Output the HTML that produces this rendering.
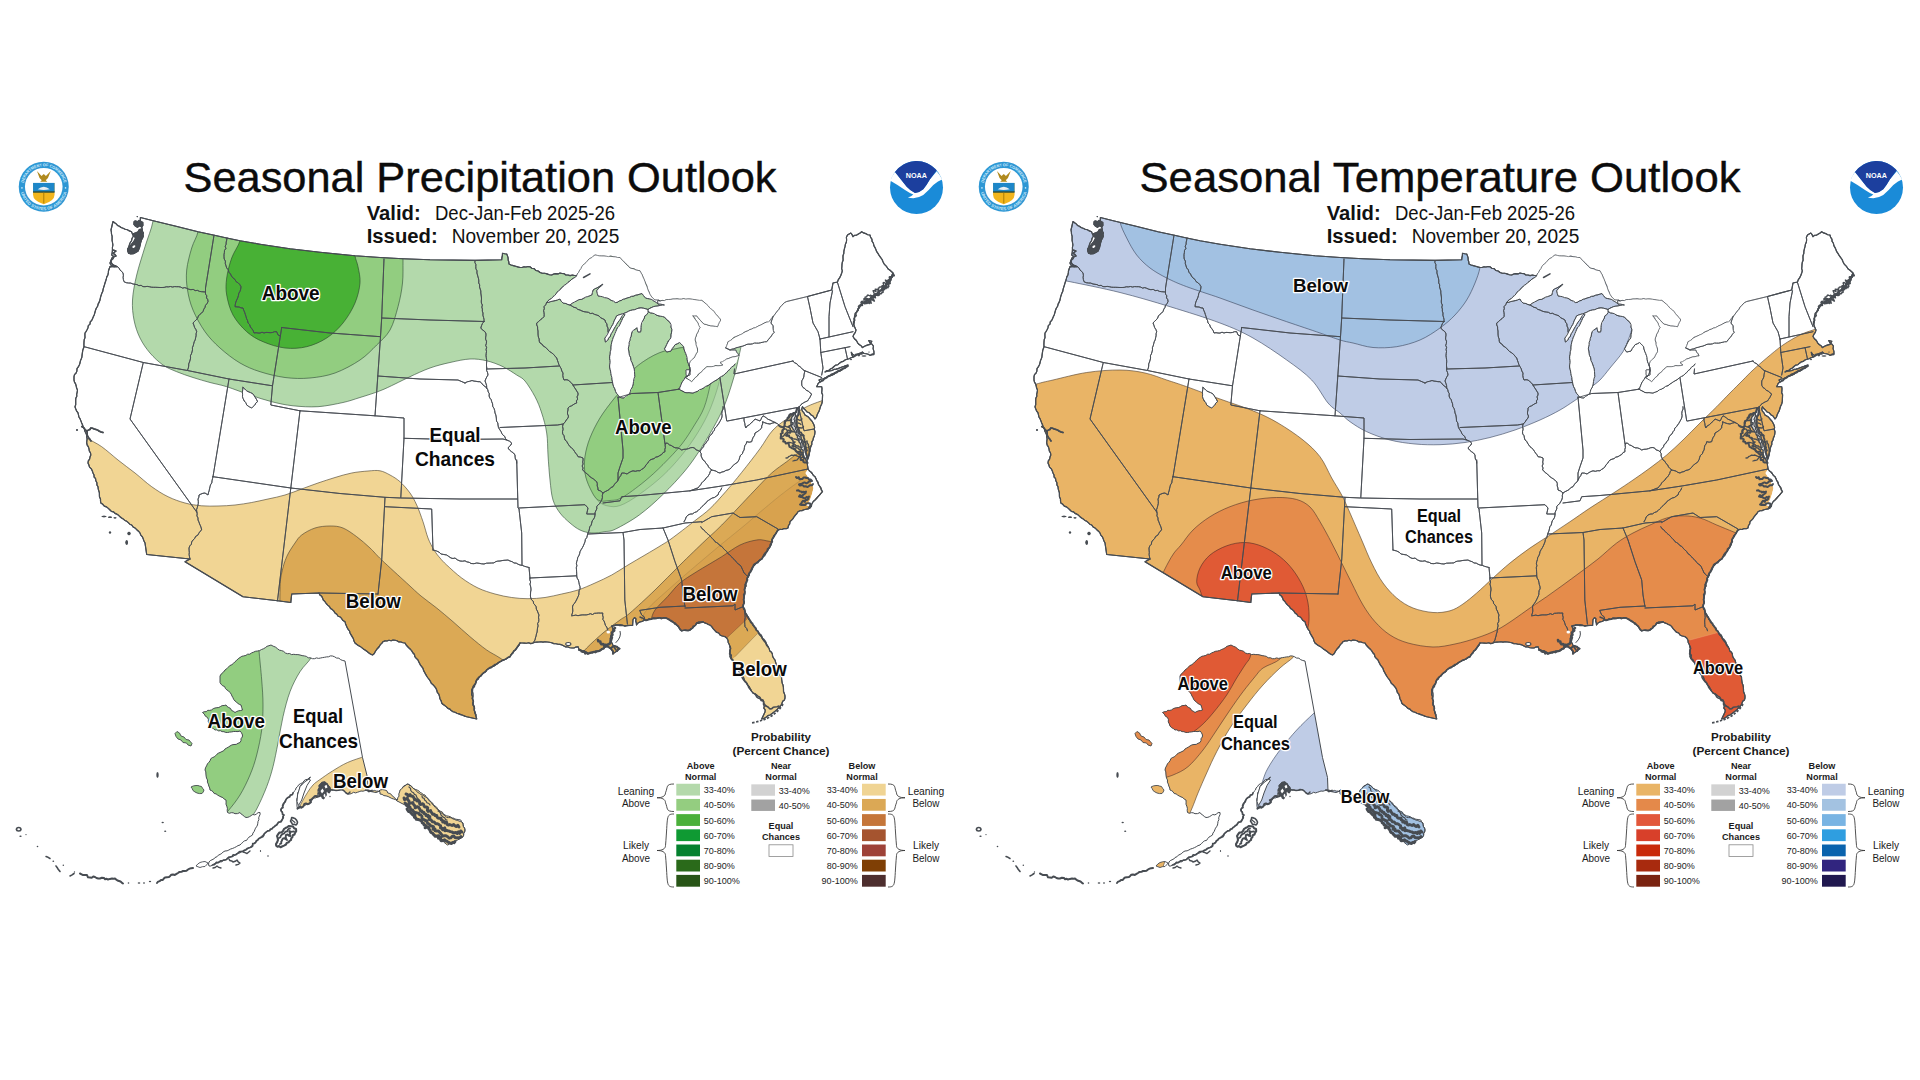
<!DOCTYPE html><html><head><meta charset="utf-8"><title>Seasonal Outlooks</title><style>html,body{margin:0;padding:0;background:#fff}svg{display:block}.lb{font-family:"Liberation Sans",Arial,sans-serif;font-weight:700;fill:#0a0a0a;stroke:#fff;stroke-width:2.6px;paint-order:stroke fill;stroke-linejoin:round}</style></head><body><svg width="1920" height="1080" viewBox="0 0 1920 1080"><defs><clipPath id="land"><path d="M113.0,221.5 L114.6,222.7 L116.2,223.9 L117.5,225.4 L119.4,226.3 L121.0,227.5 L123.1,228.3 L125.2,229.3 L127.4,229.7 L129.4,230.9 L131.5,231.7 L132.4,233.9 L133.5,236.0 L132.1,238.2 L131.5,240.8 L130.0,243.0 L129.3,245.1 L128.7,247.2 L127.5,249.0 L128.0,251.3 L129.0,253.5 L131.5,253.4 L134.0,253.0 L135.1,250.7 L137.4,249.3 L138.5,247.0 L139.9,244.8 L140.6,242.4 L141.5,240.0 L142.3,237.7 L142.5,235.2 L143.5,233.0 L142.4,231.2 L142.2,229.0 L141.5,227.0 L140.7,224.6 L140.8,222.0 L140.3,219.8 L140.4,217.5 L153.3,220.8 L176.0,226.3 L198.0,231.7 L213.3,235.0 L226.7,238.0 L240.0,240.8 L260.0,244.2 L290.0,248.7 L320.0,252.3 L355.0,255.8 L380.0,257.5 L403.0,258.8 L430.0,259.8 L475.0,260.4 L501.7,259.7 L501.9,257.6 L502.4,255.5 L502.5,253.3 L504.6,253.8 L506.7,254.0 L507.5,255.9 L508.1,257.9 L508.2,260.0 L508.8,261.9 L509.0,264.0 L511.1,265.0 L513.3,265.6 L515.6,266.2 L517.8,266.9 L520.0,267.5 L522.0,267.5 L524.0,266.8 L526.0,267.0 L528.0,266.5 L530.0,266.7 L531.8,268.2 L534.2,268.6 L535.8,270.5 L538.2,271.0 L540.0,272.5 L542.3,273.2 L544.7,273.3 L547.0,273.9 L549.3,274.8 L551.7,275.0 L553.7,274.0 L555.7,273.6 L558.0,273.9 L560.0,273.0 L562.0,273.5 L564.1,273.6 L565.9,275.0 L568.0,275.0 L570.1,275.6 L572.4,275.0 L574.5,275.5 L576.7,275.8 L577.4,273.8 L578.8,272.2 L579.6,270.3 L581.0,268.7 L581.7,266.7 L583.3,265.1 L584.9,263.4 L586.7,261.9 L588.0,260.0 L589.7,258.6 L591.7,257.7 L593.2,256.2 L595.0,255.0 L597.2,255.4 L599.5,255.9 L601.7,256.0 L604.0,256.0 L606.2,256.3 L608.5,256.6 L610.8,256.1 L613.0,256.7 L615.3,256.9 L617.6,257.5 L620.0,257.5 L621.5,259.5 L623.4,261.1 L625.0,263.0 L626.8,264.5 L628.4,266.2 L630.0,268.0 L632.0,268.5 L634.1,268.8 L635.9,270.0 L638.0,270.4 L640.0,270.8 L641.0,272.9 L642.2,274.8 L643.0,277.0 L644.1,279.3 L645.0,281.7 L645.8,283.8 L646.8,285.8 L647.4,287.9 L648.0,290.0 L649.1,292.0 L649.8,294.1 L651.0,296.0 L652.8,298.2 L655.0,300.0 L657.6,300.1 L660.0,301.0 L662.1,300.4 L664.4,300.6 L666.4,299.6 L668.6,299.5 L670.8,299.4 L673.0,299.0 L675.1,299.0 L677.2,298.8 L679.4,299.2 L681.5,299.2 L683.6,298.6 L685.8,299.2 L687.9,298.9 L690.0,299.0 L692.3,299.3 L694.7,299.6 L697.0,300.0 L699.3,300.4 L701.7,300.4 L703.4,301.6 L705.0,303.0 L706.5,304.3 L708.0,305.7 L709.3,307.4 L710.8,308.8 L712.5,310.0 L714.2,311.8 L715.6,313.8 L717.2,315.8 L719.0,317.5 L720.8,320.0 L719.4,322.1 L718.4,324.4 L717.5,326.7 L715.3,326.3 L713.1,325.9 L710.8,325.8 L708.5,325.3 L706.3,324.5 L704.0,324.0 L702.3,322.5 L700.8,320.8 L699.4,319.2 L698.0,317.5 L696.7,315.8 L694.6,315.8 L692.5,315.8 L694.2,317.4 L695.3,319.4 L696.6,321.2 L698.0,323.0 L698.7,325.4 L700.0,327.5 L698.8,329.6 L698.0,332.0 L696.7,334.0 L696.2,336.0 L695.4,337.9 L695.0,340.0 L695.9,342.2 L695.9,344.5 L696.7,346.7 L697.5,349.1 L697.5,351.7 L696.2,353.7 L695.1,355.9 L694.0,358.0 L691.8,359.6 L690.0,361.7 L689.0,365.0 L689.6,367.5 L690.0,370.0 L689.5,372.0 L688.9,374.1 L688.0,376.0 L685.0,377.5 L687.3,378.7 L689.5,380.2 L691.7,381.7 L693.1,380.3 L694.3,378.7 L695.7,377.2 L697.4,376.1 L698.4,374.2 L700.0,373.0 L701.9,371.7 L703.2,369.7 L705.2,368.4 L706.7,366.7 L709.0,366.7 L711.2,366.7 L713.5,366.4 L715.7,365.6 L718.0,365.8 L720.5,365.6 L723.0,365.0 L720.0,362.5 L722.4,361.7 L724.6,360.4 L726.7,359.0 L728.8,358.4 L730.8,357.5 L732.8,356.9 L735.0,356.7 L737.0,356.1 L739.0,355.8 L738.1,353.8 L736.6,352.1 L735.8,350.0 L732.9,350.0 L730.0,350.0 L728.0,348.8 L725.8,348.0 L726.6,345.9 L727.4,343.9 L728.0,341.7 L730.1,340.7 L732.0,339.4 L733.6,337.6 L735.8,336.7 L737.9,335.8 L739.9,334.8 L742.0,334.0 L743.8,332.6 L745.8,331.5 L748.0,330.8 L749.7,329.6 L751.6,329.1 L753.4,328.1 L755.4,327.7 L757.2,326.7 L758.9,325.7 L760.8,325.0 L762.6,324.0 L764.3,323.0 L766.2,322.2 L768.3,321.9 L770.0,320.8 L771.3,318.6 L773.0,316.7 L774.5,314.8 L776.0,312.8 L777.5,310.8 L779.0,309.2 L780.0,307.2 L781.6,305.6 L783.0,304.0 L784.7,302.5 L786.7,301.5 L807.5,296.5 L831.7,290.0 L833.0,283.0 L837.5,282.0 L838.3,279.6 L839.8,277.6 L840.9,275.3 L841.7,273.0 L842.3,270.9 L841.7,268.7 L841.9,266.5 L842.0,264.4 L842.3,262.3 L843.1,260.2 L843.0,258.0 L843.0,255.7 L843.8,253.5 L843.9,251.2 L844.4,248.9 L845.0,246.7 L845.4,244.3 L846.4,242.1 L846.6,239.7 L846.4,237.2 L847.5,235.0 L850.8,233.0 L852.1,234.7 L853.0,236.7 L854.5,235.3 L856.7,235.1 L858.4,234.0 L860.1,233.0 L861.7,231.7 L863.6,232.9 L865.7,233.6 L867.7,234.7 L870.0,235.0 L870.5,237.2 L871.9,239.1 L872.1,241.4 L873.4,243.3 L873.9,245.6 L875.0,247.6 L875.9,249.6 L876.7,251.7 L878.1,253.6 L879.3,255.7 L880.7,257.6 L882.1,259.5 L883.0,261.7 L883.9,263.6 L885.2,265.2 L886.7,266.7 L887.9,268.7 L889.7,270.0 L891.4,271.5 L893.0,273.0 L892.0,275.1 L891.9,277.5 L890.5,279.5 L890.0,281.7 L890.7,279.8 L889.5,281.8 L887.4,283.1 L886.0,285.0 L884.3,286.4 L882.5,287.6 L881.4,289.6 L879.7,290.9 L878.3,292.5 L876.4,293.4 L875.0,295.0 L873.3,296.1 L871.9,297.6 L870.2,298.7 L868.4,299.6 L866.8,301.0 L865.0,302.0 L862.7,303.3 L860.8,305.0 L859.7,307.2 L858.0,309.0 L857.3,311.1 L856.0,312.9 L854.8,315.3 L854.5,318.0 L854.4,320.0 L854.2,322.0 L853.7,324.0 L854.2,326.1 L855.1,328.1 L856.0,330.0 L855.3,332.3 L853.9,334.3 L853.0,336.5 L854.4,338.7 L856.4,340.5 L857.6,342.8 L859.1,344.5 L861.1,345.7 L862.4,347.6 L864.2,346.6 L866.0,345.6 L868.0,344.9 L870.0,344.4 L871.8,341.3 L868.7,340.5 L869.9,342.7 L871.9,344.1 L873.4,346.0 L873.1,348.7 L873.9,351.3 L874.0,353.9 L872.0,354.5 L870.0,355.4 L868.3,354.2 L866.3,353.7 L864.1,353.5 L862.4,352.3 L860.4,353.0 L858.4,353.7 L856.6,355.0 L854.5,355.4 L852.6,354.2 L851.3,352.3 L851.8,354.8 L853.0,357.0 L851.0,357.7 L849.1,358.8 L847.0,359.3 L845.0,360.0 L843.3,361.4 L841.2,361.9 L839.5,363.2 L837.9,364.7 L835.7,365.1 L834.0,366.5 L832.4,368.0 L830.5,368.9 L828.9,370.2 L826.7,370.7 L825.0,372.0 L827.2,371.1 L829.7,371.0 L832.0,370.5 L833.9,369.4 L836.0,369.1 L838.1,368.6 L840.0,367.8 L842.0,367.0 L844.0,366.4 L846.0,365.6 L848.0,365.0 L846.3,366.1 L845.1,367.8 L843.2,368.6 L841.8,370.0 L840.0,371.0 L837.8,371.6 L835.8,372.4 L834.2,374.2 L832.2,375.1 L829.9,375.4 L828.0,376.5 L826.0,377.5 L823.8,378.8 L821.3,379.0 L819.0,380.0 L820.0,381.7 L817.9,383.9 L816.7,386.7 L819.2,386.6 L821.7,386.7 L822.0,388.7 L821.9,390.7 L821.7,392.7 L822.6,394.7 L822.5,396.7 L822.4,399.2 L822.3,401.6 L821.7,404.0 L820.6,406.2 L819.9,408.5 L819.2,410.9 L818.0,413.0 L817.1,415.1 L816.5,417.2 L815.0,419.0 L813.0,416.0 L810.8,414.7 L809.1,412.7 L806.7,411.7 L805.4,410.0 L803.7,408.5 L802.5,406.7 L801.7,409.0 L802.4,411.2 L804.0,412.9 L805.0,415.0 L806.8,416.1 L808.7,417.3 L810.0,419.0 L811.7,420.8 L812.9,422.8 L814.0,425.0 L814.6,427.2 L814.3,429.5 L815.0,431.7 L814.8,433.8 L814.3,435.9 L813.4,437.9 L813.0,440.0 L811.8,442.1 L811.8,444.5 L810.8,446.7 L810.1,448.7 L810.0,450.9 L809.4,452.9 L809.0,455.0 L808.2,457.0 L807.5,459.0 L807.0,461.0 L807.5,463.0 L807.4,465.0 L807.8,467.0 L808.0,469.0 L809.1,470.8 L810.9,472.0 L812.3,473.5 L813.2,475.5 L815.0,476.7 L815.9,478.6 L816.6,480.6 L818.0,482.2 L818.3,484.4 L819.6,486.1 L820.9,487.8 L821.1,490.0 L822.5,491.7 L820.9,493.4 L819.5,495.2 L817.9,496.9 L816.5,498.7 L814.8,500.3 L813.0,501.7 L811.8,503.7 L811.4,506.1 L810.0,508.0 L808.1,508.9 L806.0,509.3 L804.0,509.8 L802.0,510.6 L799.9,510.8 L798.0,511.7 L796.9,513.5 L795.4,515.1 L794.1,516.8 L793.0,518.6 L791.6,520.2 L790.0,521.7 L789.7,523.9 L788.4,525.8 L788.0,528.0 L786.1,528.8 L784.0,528.6 L782.1,529.5 L780.0,529.4 L778.0,530.0 L776.6,531.9 L775.6,534.1 L773.8,535.7 L773.0,538.0 L772.1,540.1 L771.4,542.3 L771.2,544.7 L770.0,546.7 L768.9,548.4 L767.9,550.2 L766.5,551.7 L764.9,553.1 L763.8,554.8 L763.0,556.7 L761.9,558.7 L760.0,560.0 L758.1,561.5 L756.2,563.0 L754.7,565.0 L753.0,566.7 L752.4,568.9 L750.6,570.5 L750.1,572.7 L748.5,574.5 L748.0,576.7 L747.0,578.9 L746.5,581.1 L745.7,583.4 L746.1,585.9 L745.0,588.0 L744.5,590.0 L744.8,592.0 L744.8,594.0 L744.3,596.0 L744.0,598.0 L743.7,600.2 L744.0,602.4 L743.3,604.5 L743.0,606.7 L743.6,608.9 L744.9,610.8 L745.7,612.9 L746.7,615.0 L748.1,616.9 L748.8,619.3 L750.7,620.9 L751.6,623.1 L753.0,625.0 L754.1,626.8 L755.9,628.0 L756.3,630.3 L758.2,631.5 L758.8,633.7 L760.1,635.3 L761.7,636.7 L762.6,638.9 L763.9,640.9 L765.6,642.6 L766.8,644.7 L768.0,646.7 L769.2,648.5 L769.6,650.7 L771.5,652.2 L772.4,654.1 L772.6,656.4 L773.7,658.3 L775.0,660.0 L775.6,662.2 L776.2,664.5 L777.5,666.5 L778.0,668.8 L779.2,670.8 L780.0,673.0 L780.1,675.1 L781.5,676.9 L781.6,679.0 L781.9,681.0 L782.2,683.1 L783.0,685.0 L783.4,687.2 L783.5,689.4 L783.5,691.6 L784.4,693.7 L785.0,695.8 L785.0,698.0 L784.4,700.0 L782.7,701.3 L782.0,703.2 L781.1,705.0 L780.0,706.7 L778.3,708.1 L776.9,709.8 L775.2,711.1 L773.5,712.5 L771.8,713.8 L770.0,715.0 L767.8,715.6 L766.0,717.3 L764.0,718.4 L761.7,719.0 L765.0,712.0 L765.2,709.9 L763.8,708.1 L764.3,706.0 L763.3,704.1 L763.9,701.9 L763.0,700.0 L761.0,699.3 L759.9,697.3 L758.1,696.3 L756.6,695.0 L755.0,693.7 L753.0,693.0 L751.5,691.2 L750.3,689.1 L749.4,686.9 L747.7,685.1 L746.7,683.0 L745.3,681.5 L744.2,679.8 L743.7,677.8 L742.6,676.1 L741.4,674.5 L740.0,673.0 L738.7,671.3 L738.4,669.0 L737.0,667.4 L735.7,665.7 L735.0,663.7 L733.9,661.9 L733.0,660.0 L731.1,658.7 L730.0,656.7 L730.1,654.7 L729.8,652.7 L730.1,650.7 L730.5,648.7 L730.0,646.7 L729.3,644.5 L728.2,642.4 L727.9,640.0 L726.7,638.0 L724.7,636.5 L722.2,636.0 L720.0,635.0 L718.7,633.0 L716.3,632.1 L714.7,630.3 L713.1,628.6 L711.7,626.7 L710.2,625.2 L708.3,624.5 L706.6,623.5 L704.6,622.9 L703.0,621.7 L700.9,622.1 L698.7,622.1 L696.7,623.0 L695.4,625.1 L693.7,626.8 L692.1,628.6 L690.0,630.0 L687.9,630.2 L685.8,630.0 L683.8,630.5 L681.7,630.8 L679.9,628.9 L678.4,626.9 L676.7,625.0 L674.8,624.1 L673.7,622.2 L671.6,621.6 L669.9,620.6 L668.2,619.4 L666.7,618.0 L664.4,617.6 L662.1,618.2 L659.9,617.5 L657.6,618.2 L655.3,618.1 L653.0,618.0 L651.2,619.2 L648.8,618.9 L647.0,620.0 L644.9,620.0 L642.0,621.5 L639.9,621.9 L638.0,623.0 L636.5,625.0 L636.3,623.0 L635.7,621.0 L636.0,619.0 L634.5,617.5 L633.0,619.5 L632.8,622.4 L632.6,625.3 L630.3,625.5 L628.0,625.5 L624.8,626.0 L622.6,625.3 L620.3,624.8 L618.0,625.0 L615.9,625.0 L613.9,625.9 L611.8,626.0 L612.9,628.4 L613.0,631.0 L611.6,633.3 L611.0,636.0 L610.2,638.7 L610.5,641.5 L612.1,643.2 L613.0,645.4 L615.0,646.0 L617.0,646.7 L619.6,648.6 L617.0,651.0 L615.0,652.4 L613.0,653.8 L612.5,651.2 L611.0,649.0 L608.0,646.7 L605.4,646.7 L604.0,648.3 L602.0,649.0 L600.4,650.6 L598.2,651.2 L595.9,651.1 L593.7,651.8 L591.7,652.4 L589.8,653.2 L587.9,653.8 L586.0,651.8 L583.9,650.9 L581.6,650.5 L579.4,650.0 L578.0,646.7 L575.9,647.1 L574.0,648.0 L572.0,648.0 L569.9,647.8 L568.0,647.0 L565.8,646.9 L563.9,645.9 L562.0,645.0 L560.0,644.4 L558.0,644.3 L556.0,643.8 L553.8,643.6 L551.6,642.8 L549.4,642.3 L547.2,642.0 L545.0,641.7 L543.0,642.1 L541.0,641.7 L539.0,642.0 L536.9,642.1 L534.9,642.3 L533.0,643.0 L530.8,643.6 L528.7,642.8 L526.5,643.2 L524.3,643.1 L522.2,643.0 L520.0,643.0 L518.7,645.7 L516.7,648.0 L515.6,649.9 L513.6,651.1 L512.8,653.3 L510.9,654.7 L510.0,656.7 L507.9,657.6 L506.1,659.0 L504.1,660.0 L501.9,660.8 L499.9,661.7 L498.0,663.0 L496.2,664.3 L494.5,665.8 L492.6,666.8 L490.2,667.3 L488.4,668.6 L486.7,670.0 L485.6,671.8 L483.6,672.6 L482.3,674.2 L481.1,675.9 L479.2,676.8 L478.4,678.9 L476.7,680.0 L476.1,682.2 L474.9,684.1 L473.4,685.9 L472.6,688.0 L471.7,690.0 L471.9,692.2 L471.6,694.4 L472.5,696.5 L472.2,698.7 L473.4,700.8 L473.0,703.0 L473.1,705.1 L474.3,706.9 L474.2,709.0 L474.5,711.1 L475.1,713.0 L475.7,715.0 L476.2,717.0 L476.7,719.0 L466.7,716.7 L464.7,716.1 L462.8,715.3 L460.8,714.6 L458.9,713.9 L456.9,713.2 L455.0,712.3 L453.0,711.7 L451.2,710.6 L449.9,709.1 L447.9,708.4 L446.4,706.9 L444.8,705.6 L443.1,704.5 L441.7,703.0 L441.1,700.7 L439.9,698.7 L439.5,696.4 L438.8,694.2 L437.3,692.3 L436.7,690.0 L435.8,688.1 L434.5,686.4 L433.1,684.8 L431.3,683.4 L430.5,681.5 L429.3,679.6 L428.0,678.0 L426.8,676.2 L425.7,674.4 L424.7,672.4 L423.6,670.6 L423.0,668.4 L421.7,666.7 L420.5,665.1 L419.5,663.3 L418.6,661.5 L417.7,659.6 L416.1,658.2 L414.8,656.7 L414.5,654.5 L413.0,653.0 L411.9,651.1 L410.6,649.5 L409.0,648.0 L407.5,646.5 L406.1,644.9 L405.0,643.0 L403.0,642.7 L401.0,642.0 L398.9,641.9 L397.0,640.8 L395.1,640.3 L393.0,640.0 L391.1,640.8 L388.9,640.3 L387.0,641.0 L384.9,640.9 L383.0,641.7 L381.8,643.3 L380.3,644.7 L379.3,646.5 L378.0,648.0 L376.5,649.7 L375.3,651.5 L374.3,653.5 L372.5,655.0 L370.4,654.0 L368.6,652.7 L366.8,651.3 L365.0,650.0 L363.3,648.9 L361.7,647.6 L360.1,646.4 L358.3,645.4 L356.6,644.3 L355.0,643.0 L354.0,641.0 L353.4,638.8 L352.3,636.9 L351.1,634.9 L350.0,633.0 L349.5,631.0 L348.1,629.3 L347.1,627.5 L346.3,625.6 L345.5,623.7 L345.0,621.7 L343.0,620.6 L341.7,618.7 L340.3,617.0 L338.1,616.2 L336.8,614.3 L335.0,613.0 L333.9,611.1 L332.3,609.6 L330.5,608.4 L329.4,606.5 L327.7,605.1 L326.2,603.5 L325.0,601.7 L323.4,600.2 L322.6,598.2 L321.7,596.2 L319.9,595.0 L319.0,593.0 L291.7,594.0 L290.8,602.5 L277.5,600.8 L243.0,596.7 L185.0,561.7 L190.0,559.0 L146.7,554.5 L145.0,543.0 L144.0,541.0 L143.2,538.9 L142.4,536.8 L140.8,535.1 L140.0,533.0 L138.5,531.2 L136.8,529.7 L135.1,528.1 L133.1,526.9 L131.7,525.0 L129.8,524.2 L128.3,522.7 L126.8,521.3 L124.9,520.4 L123.3,519.1 L121.6,518.0 L120.0,516.7 L118.5,515.3 L116.9,514.1 L115.0,513.4 L113.6,511.9 L111.4,511.4 L110.0,510.0 L108.3,508.4 L106.5,506.9 L104.3,506.1 L102.8,504.3 L100.8,503.0 L100.5,501.0 L100.5,498.9 L99.5,496.9 L99.4,494.8 L99.4,492.8 L98.8,490.8 L98.2,488.8 L98.0,486.7 L96.9,484.9 L96.9,482.7 L95.8,480.8 L95.6,478.7 L94.1,477.0 L94.0,474.9 L93.0,473.0 L92.3,470.9 L91.3,468.8 L89.6,467.2 L88.9,465.1 L88.0,463.0 L88.3,460.9 L89.6,459.1 L90.0,457.0 L90.8,455.0 L90.5,452.9 L89.3,451.0 L89.0,448.9 L88.4,446.9 L87.2,445.1 L86.7,443.0 L86.8,441.0 L87.1,439.0 L86.7,437.0 L86.7,435.0 L85.8,433.0 L84.8,431.1 L84.4,428.9 L83.1,427.1 L82.6,425.0 L81.7,423.0 L80.9,420.9 L80.1,418.9 L78.9,417.0 L78.5,414.8 L77.9,412.7 L76.5,410.8 L75.7,408.8 L75.0,406.7 L75.7,404.7 L75.7,402.5 L75.7,400.4 L75.8,398.3 L76.8,396.3 L76.7,394.2 L77.2,392.1 L77.5,390.0 L76.6,388.1 L76.2,386.0 L75.6,383.9 L74.5,382.1 L74.0,380.0 L74.0,376.7 L74.5,374.6 L76.1,373.0 L76.9,371.0 L77.0,368.7 L78.3,366.9 L79.3,365.0 L80.0,363.0 L80.4,360.9 L81.2,359.0 L81.9,357.0 L82.1,354.9 L82.4,352.8 L82.7,350.7 L83.3,348.7 L84.0,346.7 L83.9,344.4 L84.0,342.1 L84.2,339.8 L85.0,337.6 L84.9,335.3 L85.0,333.0 L86.2,331.3 L87.2,329.5 L88.0,327.7 L88.3,325.6 L90.0,324.1 L90.2,322.0 L91.7,320.4 L92.6,318.6 L93.3,316.7 L94.3,314.7 L94.9,312.5 L95.5,310.3 L96.3,308.2 L97.6,306.3 L98.1,304.1 L99.2,302.1 L100.0,300.0 L100.4,297.8 L101.0,295.7 L101.7,293.6 L102.7,291.6 L103.1,289.4 L103.7,287.2 L104.4,285.1 L105.0,283.0 L105.7,281.0 L106.3,278.9 L106.8,276.9 L107.9,275.0 L108.3,272.9 L108.5,270.7 L109.2,268.7 L110.0,266.7 L112.5,266.4 L115.0,266.7 L112.9,266.0 L110.8,265.0 L110.0,263.0 L111.0,260.7 L112.9,258.9 L114.0,256.7 L111.7,255.0 L112.2,252.5 L112.5,250.0 L112.4,247.5 L112.9,245.0 L112.5,242.5 L112.1,240.4 L112.1,238.3 L112.1,236.2 L111.5,234.2 L111.4,232.1 L111.0,230.0Z"/></clipPath><clipPath id="akland"><path d="M220.0,676.0 L221.4,673.8 L223.5,672.1 L225.0,670.0 L226.8,668.7 L228.3,667.2 L229.8,665.6 L231.9,664.7 L233.5,663.3 L235.0,661.7 L236.7,660.3 L238.2,658.7 L240.0,657.5 L241.8,656.3 L243.8,655.9 L245.9,655.4 L247.6,654.2 L249.8,654.2 L251.6,652.9 L253.5,652.2 L255.4,651.3 L257.5,651.0 L259.6,650.6 L261.5,649.5 L263.4,648.8 L265.3,647.7 L267.0,646.3 L269.0,645.7 L271.0,645.0 L273.2,646.2 L275.5,647.1 L277.5,648.7 L279.3,650.1 L281.6,650.6 L283.7,651.4 L285.4,653.0 L287.5,653.7 L289.6,653.5 L291.6,654.6 L293.8,654.3 L295.8,654.6 L297.9,654.6 L300.0,655.0 L302.1,655.6 L304.3,655.9 L306.4,656.4 L308.2,657.8 L310.5,657.8 L312.5,658.7 L314.5,658.7 L316.5,657.9 L318.6,658.4 L320.6,658.0 L322.5,657.6 L324.5,657.3 L326.5,656.9 L328.5,656.8 L330.4,655.9 L332.5,656.0 L334.6,656.8 L336.5,658.0 L338.9,658.2 L340.7,659.7 L342.8,660.5 L345.0,661.0 L362.5,757.5 L367.5,777.5 L368.0,791.0 L376.0,792.5 L378.3,791.7 L380.0,790.0 L382.5,789.6 L385.0,790.0 L386.9,790.8 L387.8,793.0 L389.9,793.5 L391.5,794.6 L392.7,796.4 L394.5,797.4 L395.6,799.1 L397.5,800.0 L397.7,797.9 L399.0,796.1 L398.8,793.9 L399.6,792.0 L400.0,790.0 L401.6,789.0 L402.6,787.5 L403.7,786.0 L405.9,785.3 L407.5,783.7 L409.0,785.2 L411.2,785.8 L412.5,787.5 L413.8,788.8 L415.6,789.5 L417.3,790.1 L418.9,790.9 L420.1,792.5 L421.8,793.2 L423.2,794.5 L425.0,795.0 L426.0,796.6 L427.1,798.1 L428.7,799.2 L429.8,800.7 L431.2,802.0 L432.7,803.1 L433.3,805.0 L435.0,806.0 L436.6,807.1 L437.6,808.8 L438.9,810.3 L440.6,811.3 L442.4,812.1 L443.3,814.0 L445.0,815.0 L446.7,815.9 L448.6,816.2 L450.5,816.8 L452.0,818.0 L454.0,818.2 L455.3,820.0 L457.2,820.3 L459.0,821.0 L460.8,821.7 L462.5,822.5 L462.9,824.4 L463.3,826.4 L464.6,828.1 L465.0,830.0 L464.5,831.9 L463.7,833.7 L463.4,835.7 L462.5,837.5 L460.8,838.2 L459.1,839.1 L457.5,840.1 L455.7,840.6 L454.2,841.6 L452.7,842.9 L450.6,842.8 L449.2,844.3 L447.5,845.0 L445.9,843.8 L444.3,842.6 L443.1,840.8 L441.6,839.6 L439.7,838.7 L438.1,837.6 L436.3,836.6 L435.0,835.0 L433.9,833.3 L431.9,832.6 L430.9,831.0 L429.3,829.8 L427.9,828.5 L426.5,827.1 L425.0,825.9 L423.5,824.7 L422.5,823.0 L421.1,821.6 L420.0,820.1 L418.5,818.9 L416.7,817.9 L415.7,816.2 L413.8,815.4 L412.7,813.7 L411.7,812.0 L410.0,811.0 L409.1,809.2 L407.5,808.0 L406.6,806.2 L405.0,805.0 L403.0,804.0 L401.0,803.0 L399.0,801.9 L397.0,801.0 L395.5,799.6 L393.6,799.0 L391.7,798.4 L390.0,797.5 L388.1,796.5 L386.1,795.9 L383.9,795.6 L382.1,794.4 L380.0,794.0 L380.0,791.7 L378.1,791.1 L376.2,791.1 L374.4,790.4 L372.3,791.3 L370.5,790.5 L368.6,790.1 L366.7,790.0 L364.9,790.6 L363.0,791.2 L361.0,791.0 L359.2,791.7 L357.4,792.3 L355.6,792.9 L353.5,792.3 L351.8,793.4 L350.0,794.0 L348.0,794.0 L346.1,792.9 L344.5,791.6 L343.0,790.0 L341.1,789.6 L339.2,790.4 L337.4,790.3 L335.5,790.5 L333.6,790.0 L331.7,790.0 L330.1,788.2 L329.0,786.0 L327.5,784.8 L326.5,783.1 L325.0,782.0 L322.3,782.5 L320.0,784.0 L319.0,785.9 L319.2,788.2 L318.0,790.0 L318.1,792.2 L317.6,794.5 L318.0,796.7 L315.6,797.9 L313.0,798.0 L312.3,799.8 L311.0,801.3 L310.0,803.0 L308.3,804.0 L306.4,804.6 L304.6,805.5 L303.0,806.7 L301.2,807.4 L299.4,808.3 L297.5,808.7 L297.0,806.4 L296.9,804.1 L297.0,801.7 L296.6,799.4 L297.5,797.2 L297.5,795.0 L297.7,792.8 L299.2,791.0 L299.5,788.8 L300.0,786.7 L301.1,784.8 L303.0,783.6 L304.5,782.0 L306.1,781.1 L307.2,779.5 L309.0,779.0 L310.5,777.0 L308.9,778.0 L307.5,779.4 L305.5,779.6 L304.0,780.8 L302.8,782.7 L300.6,783.6 L298.7,784.8 L297.5,786.7 L296.0,788.0 L295.5,790.0 L294.1,791.4 L293.0,793.0 L291.6,794.8 L289.8,796.1 L288.0,797.5 L286.3,799.1 L285.0,800.9 L284.0,803.0 L283.7,805.0 L282.5,806.6 L281.4,808.2 L280.8,810.0 L282.2,811.5 L282.6,813.5 L284.0,815.0 L282.8,816.8 L282.5,819.0 L281.0,820.5 L279.7,822.1 L277.8,823.2 L276.7,825.0 L275.0,826.1 L273.4,827.6 L271.6,828.7 L270.0,830.0 L268.0,830.8 L266.1,831.9 L264.8,833.7 L263.0,834.9 L261.3,836.3 L260.0,838.0 L258.2,838.9 L257.4,841.0 L255.8,842.2 L254.0,843.1 L252.6,844.6 L251.5,846.2 L250.0,847.5 L248.2,848.2 L246.8,849.5 L245.2,850.4 L243.6,851.3 L241.7,851.8 L240.1,852.8 L238.3,853.3 L236.4,853.7 L235.0,855.0 L233.5,856.2 L231.6,856.6 L229.8,857.1 L228.3,858.2 L226.7,859.1 L225.0,860.0 L223.1,860.4 L221.6,862.0 L219.4,861.6 L217.8,862.6 L215.9,863.2 L214.1,863.9 L212.5,865.0 L210.9,866.0 L209.0,866.0 L208.5,864.0 L209.0,862.0 L210.3,860.6 L212.0,859.8 L213.8,859.0 L215.0,857.5 L216.9,856.8 L218.3,855.2 L220.1,854.4 L221.8,853.4 L223.2,851.9 L225.0,851.0 L227.1,850.8 L228.9,850.0 L230.7,849.0 L232.7,848.4 L234.5,847.6 L236.3,846.7 L238.0,845.6 L240.0,845.0 L241.4,843.5 L242.9,842.3 L244.4,840.8 L246.6,840.4 L247.7,838.6 L249.0,837.1 L250.8,836.1 L252.5,835.0 L252.9,833.1 L254.1,831.6 L254.8,829.9 L255.5,828.2 L256.6,826.7 L257.5,825.0 L257.8,823.2 L258.0,821.4 L258.9,819.7 L258.7,817.8 L259.3,816.1 L260.1,814.4 L260.0,812.5 L258.1,812.6 L256.6,813.9 L254.9,814.9 L252.8,814.5 L251.2,815.6 L249.6,816.6 L247.9,817.3 L246.0,817.5 L244.3,816.5 L242.9,815.2 L241.2,814.1 L240.0,812.5 L237.6,813.6 L235.0,813.7 L233.2,812.8 L231.3,812.7 L229.3,813.3 L227.5,812.5 L227.2,810.4 L227.4,808.3 L226.8,806.2 L226.0,804.2 L226.1,802.1 L226.0,800.0 L224.2,799.1 L222.9,797.6 L221.0,796.9 L219.2,796.0 L217.5,795.0 L216.1,793.9 L214.2,793.5 L213.1,791.8 L211.7,790.7 L210.0,790.0 L209.7,788.0 L208.8,786.0 L208.3,784.1 L207.4,782.1 L207.5,780.0 L206.5,778.1 L206.1,776.1 L205.9,774.0 L205.8,771.9 L205.0,770.0 L205.5,767.8 L206.6,765.8 L207.5,763.7 L208.9,762.3 L210.1,760.7 L210.8,758.7 L212.5,757.5 L214.3,756.9 L215.6,755.6 L216.9,754.3 L218.3,753.2 L220.0,752.5 L221.8,751.6 L223.6,750.8 L224.9,749.1 L226.6,748.1 L228.4,747.1 L230.0,746.0 L231.9,744.9 L234.0,744.5 L236.2,744.4 L238.0,743.3 L240.0,742.5 L241.0,740.7 L241.0,738.7 L242.3,737.0 L242.5,735.0 L241.5,732.8 L240.0,731.0 L238.0,731.6 L235.8,731.5 L233.7,731.5 L231.7,731.9 L229.6,732.1 L227.5,732.5 L225.7,732.4 L223.9,731.7 L222.1,731.6 L220.4,730.7 L218.5,730.9 L216.9,729.8 L215.0,730.0 L213.4,728.6 L211.5,727.6 L210.0,726.0 L209.3,723.9 L208.3,721.9 L208.4,719.5 L207.5,717.5 L205.4,716.2 L204.3,714.1 L202.5,712.5 L204.2,711.7 L206.2,711.7 L207.8,710.3 L209.8,710.4 L211.6,709.9 L213.2,708.7 L215.0,708.0 L216.9,707.7 L218.8,707.5 L220.5,706.5 L222.2,705.6 L224.2,705.5 L226.0,705.0 L227.1,706.5 L228.7,707.5 L230.5,708.4 L231.5,710.4 L233.4,711.3 L235.0,712.5 L236.7,711.5 L238.6,710.8 L240.6,710.5 L242.5,710.0 L241.7,707.5 L241.0,705.0 L239.3,704.3 L237.7,703.4 L236.5,702.0 L235.0,701.0 L233.7,699.4 L232.9,697.6 L231.9,695.9 L231.2,694.1 L230.0,692.5 L228.6,691.0 L226.9,689.9 L225.4,688.5 L224.6,686.5 L222.5,685.7 L221.1,684.2 L220.0,682.5Z M175.0,733.5 L177.0,731.5 L179.5,733.0 L181.0,736.0 L184.0,737.0 L186.0,739.5 L189.0,740.0 L190.5,741.8 L192.0,743.5 L191.0,746.0 L188.0,745.0 L186.5,743.0 L183.0,742.5 L181.0,740.0 L178.0,739.0 L176.0,736.5Z M191.0,787.0 L193.4,785.9 L196.0,785.5 L197.9,785.5 L199.7,786.1 L201.5,786.5 L202.6,788.3 L204.0,790.0 L203.3,791.9 L202.0,793.5 L199.5,793.6 L197.0,793.0 L194.9,791.9 L193.0,790.5 L192.2,788.6Z M196.0,866.0 L197.8,864.0 L200.0,862.5 L202.5,861.8 L205.0,861.5 L208.0,863.0 L206.6,864.9 L205.0,866.5 L202.4,866.7 L200.0,867.5 L198.0,866.8Z M289.0,826.0 L291.0,826.2 L293.0,826.5 L294.1,828.2 L296.0,829.0 L296.2,831.2 L295.0,833.0 L294.5,834.5 L292.7,835.3 L292.5,837.0 L291.3,838.2 L291.0,840.0 L289.5,841.0 L288.5,842.3 L286.7,842.9 L286.0,844.5 L284.0,845.6 L282.0,846.5 L280.5,847.3 L279.0,846.0 L277.5,846.7 L276.2,845.6 L276.0,844.0 L277.2,842.1 L278.0,840.0 L277.7,838.0 L277.0,836.0 L278.2,834.2 L279.5,832.5 L281.5,832.4 L283.0,831.0 L283.9,829.2 L285.5,828.0 L287.3,827.1Z M291.7,817.5 L293.4,817.9 L295.0,818.5 L296.5,820.1 L297.5,822.0 L297.1,823.7 L296.0,825.0 L294.3,824.3 L292.5,824.5 L291.6,822.7 L290.5,821.0 L291.3,819.3Z"/></clipPath><path id="rt" d="M-20.4,0 A20.4,20.4 0 0 1 20.4,0" fill="none"/><path id="rb" d="M-23.4,0 A23.4,23.4 0 0 0 23.4,0" fill="none"/><g id="base"><path d="M808,469.5 L814.5,477 L821.5,491.5 L813,501 L810,507 L806.5,505 L810,500 L812,494 L813.5,488 L811,482 L808,477 L805.5,473Z" fill="#fff"/><path d="M576.7,275.8 L577.7,274.0 L578.5,272.1 L579.8,270.4 L580.5,268.4 L581.7,266.7 L583.3,265.0 L585.1,263.6 L586.2,261.4 L588.0,260.0 L589.7,258.6 L591.6,257.6 L593.1,256.0 L595.0,255.0 L597.3,255.0 L599.5,255.8 L601.7,256.1 L604.0,256.0 L606.3,256.0 L608.5,256.1 L610.7,256.9 L613.0,256.7 L615.3,256.8 L617.7,257.3 L620.0,257.5 L621.6,259.4 L623.3,261.2 L625.0,263.0 L626.4,264.9 L628.1,266.6 L630.0,268.0 L632.0,268.7 L633.9,269.4 L635.9,269.9 L638.0,270.4 L640.0,270.8 L641.1,272.8 L642.2,274.8 L643.0,277.0 L644.2,279.3 L645.0,281.7 L645.4,283.9 L646.3,285.9 L647.5,287.8 L648.0,290.0 L648.7,292.1 L650.2,293.9 L651.0,296.0 L652.9,298.1 L655.0,300.0 L658.0,300.0 L658.0,302.0 L658.0,304.0 L655.8,302.6 L653.9,301.0 L651.6,300.1 L649.6,298.8 L647.5,298.2 L645.4,297.8 L643.6,295.7 L642.0,293.5 L639.9,293.9 L637.8,294.3 L635.8,295.0 L633.6,295.5 L631.4,296.3 L629.3,297.2 L627.0,297.7 L625.0,298.8 L623.1,299.6 L621.1,300.0 L619.3,300.8 L617.4,301.6 L615.6,302.6 L613.3,301.6 L611.2,300.0 L609.0,298.8 L606.8,298.2 L604.5,297.9 L602.4,297.1 L600.2,296.4 L598.0,295.8 L597.0,293.4 L596.7,290.8 L598.0,288.8 L599.9,287.4 L601.4,285.7 L603.0,284.0 L600.8,284.9 L598.9,286.2 L596.9,287.4 L594.9,288.6 L593.0,290.0 L592.6,292.6 L591.7,295.0 L589.7,295.6 L588.0,296.8 L586.0,297.5 L584.0,298.0 L581.6,299.0 L579.2,300.1 L576.7,300.8 L574.7,302.5 L572.2,303.6 L570.0,305.0 L568.1,303.9 L566.0,303.5 L563.0,303.0 L561.2,301.2 L560.0,299.0 L557.7,299.9 L555.2,300.0 L553.0,301.0 L550.9,301.5 L548.8,302.0 L546.7,302.5 L548.2,301.0 L550.0,299.8 L551.4,298.1 L553.0,296.7 L554.4,295.2 L555.8,293.8 L557.4,292.6 L558.4,290.7 L560.1,289.5 L561.7,288.2 L563.0,286.7 L564.5,285.0 L566.3,283.9 L568.1,282.5 L569.9,281.3 L571.6,279.9 L573.3,278.5 L574.9,277.0Z" fill="#fff"/><path d="M648.0,309.5 L645.6,309.2 L643.3,308.4 L641.0,307.9 L639.0,308.7 L636.7,308.7 L634.8,309.7 L632.6,310.0 L630.7,310.7 L628.7,311.2 L626.9,312.3 L625.0,313.0 L622.8,313.3 L620.9,314.3 L618.7,314.9 L616.6,315.9 L615.6,318.0 L614.7,320.1 L613.8,322.2 L612.9,324.4 L611.9,326.3 L610.4,328.0 L609.7,330.1 L608.6,331.9 L607.0,333.8 L605.9,336.0 L604.9,338.2 L605.4,342.0 L607.6,340.4 L608.5,338.1 L609.8,336.1 L611.2,334.0 L612.4,331.9 L613.7,330.1 L614.3,328.0 L615.6,326.3 L616.6,324.4 L617.9,322.2 L619.7,320.3 L620.9,318.0 L622.7,316.1 L624.0,313.8 L625.0,314.8 L623.8,316.6 L623.2,318.7 L621.7,320.3 L620.9,322.3 L619.9,324.2 L618.5,325.9 L617.7,327.9 L616.6,329.7 L615.5,331.4 L614.6,333.3 L614.0,335.2 L613.4,337.2 L612.4,339.6 L611.8,342.1 L611.3,344.6 L611.0,347.0 L611.0,349.4 L610.1,351.8 L610.2,354.2 L610.1,356.3 L610.4,358.5 L610.0,360.6 L609.9,362.8 L609.7,364.9 L610.3,367.0 L610.0,369.2 L611.0,371.2 L610.7,373.4 L611.3,375.5 L611.7,377.6 L612.4,379.7 L612.6,381.9 L612.9,384.0 L613.8,386.5 L615.0,388.9 L615.6,391.5 L616.8,393.6 L618.3,395.4 L619.8,397.3 L621.8,398.0 L624.0,397.9 L626.0,396.7 L627.7,395.2 L629.4,393.6 L630.6,391.9 L631.3,390.0 L631.9,388.1 L632.6,386.2 L633.2,383.8 L633.7,381.4 L634.4,379.1 L634.7,376.6 L634.9,374.0 L634.6,371.5 L634.2,369.0 L633.7,366.8 L632.4,364.9 L632.0,362.7 L631.1,360.3 L630.0,357.9 L629.4,355.3 L629.1,353.2 L628.7,351.0 L628.3,348.9 L628.7,346.8 L629.4,344.7 L629.3,342.5 L629.9,340.4 L630.6,338.3 L631.0,336.2 L631.3,334.0 L632.0,331.9 L633.9,330.8 L635.0,328.8 L636.9,327.6 L637.4,329.7 L637.9,331.9 L640.6,331.9 L640.8,329.8 L641.0,327.6 L641.1,325.5 L642.5,322.9 L643.2,320.0 L644.0,318.0 L644.8,315.9 L646.6,314.5 L648.0,312.7Z" fill="#fff"/><path d="M648.6,311.6 L650.3,312.8 L652.4,312.9 L654.1,314.2 L656.0,314.8 L658.1,315.3 L660.2,316.2 L662.4,316.4 L664.5,317.0 L666.1,319.0 L668.3,320.3 L669.9,322.3 L670.2,324.9 L671.4,327.2 L672.0,329.7 L671.9,332.2 L671.5,334.7 L671.0,337.2 L669.8,339.0 L669.2,341.1 L667.9,342.8 L666.7,344.6 L665.9,346.9 L664.5,348.9 L666.7,352.0 L668.8,351.2 L671.0,351.0 L672.2,348.7 L673.6,346.6 L675.2,344.6 L677.3,343.4 L679.5,342.5 L680.7,344.1 L682.3,345.3 L683.7,346.8 L684.1,349.0 L684.7,351.1 L685.4,353.3 L686.4,355.3 L686.6,357.5 L687.4,359.6 L687.8,361.7 L688.5,363.8 L689.0,365.0 L690.0,361.7 L692.2,360.1 L694.0,358.0 L695.2,355.9 L696.1,353.7 L697.5,351.7 L697.1,349.2 L696.7,346.7 L696.2,344.5 L695.3,342.3 L695.0,340.0 L695.3,337.9 L695.9,335.9 L696.7,334.0 L697.9,331.9 L699.1,329.8 L700.0,327.5 L699.1,325.2 L698.0,323.0 L696.6,321.2 L695.0,319.6 L693.6,317.8 L692.5,315.8 L694.6,315.9 L696.7,315.8 L698.0,317.5 L699.5,319.1 L700.8,320.8 L702.6,322.2 L704.0,324.0 L706.3,324.3 L708.6,325.0 L710.8,325.8 L713.1,325.8 L715.3,326.5 L717.5,326.7 L718.5,324.4 L719.7,322.3 L720.8,320.0 L719.0,317.5 L717.3,315.7 L715.8,313.7 L714.3,311.7 L712.5,310.0 L711.1,308.5 L709.2,307.5 L708.1,305.6 L706.5,304.3 L705.0,303.0 L703.2,301.8 L701.7,300.4 L699.4,299.8 L697.0,299.6 L694.7,299.8 L692.4,299.1 L690.0,299.0 L687.9,298.7 L685.8,298.8 L683.6,298.7 L681.5,299.0 L679.4,298.9 L677.2,299.3 L675.1,298.9 L673.0,299.0 L670.9,299.6 L668.6,299.5 L666.5,299.7 L664.3,300.4 L662.2,301.0 L660.0,301.0 L658.0,300.0 L658.4,302.0 L658.0,304.0 L660.2,304.3 L662.4,304.4 L664.5,305.0 L662.3,305.1 L660.2,305.6 L658.0,306.0 L655.9,306.2 L653.9,306.5 L651.9,307.4 L650.1,308.7 L648.0,309.5Z" fill="#fff"/><path d="M686.0,370.0 L688.0,370.1 L690.0,370.0 L689.7,372.5 L690.0,375.0 L686.5,376.0 L686.3,374.0 L686.3,372.0Z" fill="#fff"/><path d="M679.0,389.0 L680.2,387.1 L680.5,384.9 L681.7,383.0 L682.8,381.2 L683.9,379.3 L685.0,377.5 L687.0,379.2 L689.5,380.2 L691.7,381.7 L693.1,380.2 L694.5,378.8 L695.8,377.3 L697.5,376.1 L698.8,374.7 L700.0,373.0 L701.8,371.6 L703.1,369.6 L705.3,368.6 L706.7,366.7 L709.0,366.6 L711.2,366.4 L713.5,366.2 L715.7,366.0 L718.0,365.8 L720.6,365.7 L723.0,365.0 L720.0,362.5 L722.1,361.2 L724.3,359.9 L726.7,359.0 L728.9,358.8 L730.8,357.7 L732.9,357.1 L735.0,356.7 L737.0,356.2 L739.0,355.8 L737.7,357.7 L737.1,359.9 L736.4,362.1 L735.0,364.0 L733.5,365.8 L731.8,367.6 L730.3,369.4 L728.1,370.6 L726.7,372.5 L724.8,373.7 L723.4,375.3 L721.6,376.6 L719.5,377.4 L718.0,379.0 L715.9,380.1 L714.0,381.5 L712.0,382.7 L710.0,384.0 L707.7,384.9 L706.0,386.7 L703.7,387.7 L701.7,389.0 L699.7,390.4 L697.4,391.0 L695.3,392.2 L693.0,393.0 L691.0,393.0 L689.0,392.8 L687.0,392.7 L685.0,392.5 L683.2,391.1 L680.9,390.3Z" fill="#fff"/><path d="M725.8,348.0 L726.2,345.8 L727.6,343.9 L728.0,341.7 L729.8,340.2 L732.0,339.4 L734.0,338.2 L735.8,336.7 L737.9,335.9 L739.8,334.6 L741.8,333.6 L744.0,332.9 L746.1,332.1 L748.0,330.8 L749.9,330.1 L751.7,329.2 L753.4,328.2 L755.3,327.4 L757.2,326.8 L758.9,325.8 L760.8,325.0 L762.7,324.2 L764.5,323.4 L766.4,322.6 L768.0,321.3 L770.0,320.8 L771.3,318.6 L773.0,316.7 L772.1,318.7 L771.5,320.9 L770.8,323.0 L773.0,325.8 L773.1,328.1 L774.0,330.2 L774.0,332.5 L772.8,334.3 L771.3,335.8 L770.0,337.5 L768.2,339.5 L766.7,341.7 L764.7,342.2 L762.7,342.0 L760.7,342.6 L758.7,342.9 L756.7,343.0 L754.5,343.0 L752.4,343.8 L750.1,343.4 L748.0,344.0 L746.0,344.8 L744.0,345.5 L742.1,346.3 L740.0,346.7 L738.0,347.4 L735.9,347.8 L734.1,348.9 L732.0,349.3 L730.0,350.0 L727.9,349.0Z" fill="#fff"/><path d="M243.0,387.5 L244.4,389.2 L246.3,390.3 L248.0,391.7 L250.5,392.8 L253.0,394.0 L254.1,395.9 L255.1,398.0 L256.0,400.0 L257.5,401.7 L256.1,403.3 L254.8,405.0 L253.2,406.5 L251.7,408.0 L249.0,406.8 L246.7,405.0 L245.8,402.9 L245.0,400.7 L243.3,398.9 L242.5,396.7 L242.8,394.4 L242.5,392.1 L243.2,389.8Z" fill="#fff"/><path d="M658.0,304.0 L656.1,302.3 L653.9,301.0 L651.9,299.6 L649.6,298.8 L647.4,298.5 L645.4,297.8 L643.6,295.7 L642.0,293.5 L639.9,294.0 L637.9,294.8 L635.8,295.0 L633.7,296.1 L631.4,296.3 L629.4,297.4 L627.1,297.9 L625.0,298.8 L623.0,299.2 L621.3,300.4 L619.3,300.9 L617.6,302.2 L615.6,302.6 L613.5,301.1 L611.1,300.3 L609.0,298.8 L606.9,297.9 L604.6,297.6 L602.5,296.7 L600.2,296.3 L598.0,295.8 L597.3,293.3 L596.7,290.8 L598.1,288.9 L599.6,287.2 L601.6,285.9 L603.0,284.0 L601.0,285.2 L599.1,286.6 L597.1,287.8 L594.9,288.7 L593.0,290.0 L592.4,292.5 L591.7,295.0 L589.8,295.7 L587.8,296.5 L585.8,297.0 L584.0,298.0 L581.7,299.3 L579.0,299.6 L576.7,300.8 L574.4,302.1 L572.0,303.3 L570.0,305.0 L567.9,304.5 L566.0,303.5 L563.0,303.0 L561.2,301.2 L560.0,299.0 L557.7,299.8 L555.4,300.6 L553.0,301.0 L550.9,301.5 L548.8,302.2 L546.7,302.5 L548.0,300.8 L549.7,299.5 L551.7,298.4 L553.0,296.7 L554.7,295.5 L556.0,293.9 L557.2,292.3 L558.5,290.8 L560.3,289.7 L561.4,287.9 L563.0,286.7 L564.6,285.2 L566.5,284.0 L568.0,282.4 L569.8,281.2 L571.3,279.6 L573.2,278.4 L575.1,277.3 L576.7,275.8 M648.0,309.5 L645.7,308.8 L643.4,308.2 L641.0,307.9 L638.8,308.1 L636.8,308.8 L634.8,309.7 L632.6,310.0 L630.6,310.4 L628.7,311.2 L626.9,312.2 L625.0,313.0 L623.0,313.7 L620.9,314.3 L618.7,315.0 L616.6,315.9 L615.7,318.0 L614.5,320.1 L613.7,322.2 L612.9,324.4 L611.7,326.2 L610.7,328.1 L609.6,330.0 L608.6,331.9 L607.6,334.1 L606.3,336.2 L604.9,338.2 L605.4,342.0 L607.6,340.4 L608.6,338.1 L610.3,336.3 L611.0,333.9 L612.4,331.9 L613.4,330.0 L614.4,328.1 L615.5,326.3 L616.6,324.4 L617.9,322.2 L619.6,320.2 L620.9,318.0 L622.2,315.7 L624.0,313.8 L625.0,314.8 L623.8,316.6 L622.6,318.4 L621.8,320.4 L620.9,322.3 L620.0,324.3 L619.0,326.2 L617.5,327.7 L616.6,329.7 L615.8,331.6 L615.0,333.4 L614.3,335.4 L613.4,337.2 L612.6,339.6 L611.8,342.1 L611.3,344.6 L611.0,347.0 L611.0,349.4 L610.3,351.8 L610.2,354.2 L609.7,356.3 L609.6,358.5 L610.1,360.6 L610.1,362.8 L609.7,364.9 L609.6,367.1 L610.1,369.2 L610.6,371.3 L610.9,373.4 L611.3,375.5 L611.9,377.6 L612.0,379.8 L612.5,381.9 L612.9,384.0 L613.6,386.6 L614.9,388.9 L615.6,391.5 L616.8,393.6 L618.4,395.4 L619.8,397.3 L621.9,397.8 L624.0,397.9 L625.6,396.2 L627.7,395.2 L629.4,393.6 L630.3,391.8 L630.7,389.8 L631.8,388.0 L632.6,386.2 L633.2,383.8 L633.5,381.4 L633.9,378.9 L634.7,376.6 L634.6,374.1 L634.5,371.5 L634.2,369.0 L633.5,366.9 L632.8,364.8 L632.0,362.7 L630.8,360.3 L630.6,357.6 L629.4,355.3 L629.0,353.2 L628.8,351.0 L628.3,348.9 L628.6,346.8 L629.1,344.6 L629.1,342.5 L629.9,340.4 L630.3,338.2 L631.1,336.2 L631.5,334.0 L632.0,331.9 L633.4,330.2 L635.4,329.2 L636.9,327.6 L637.4,329.8 L637.9,331.9 L640.6,331.9 L640.9,329.8 L640.9,327.6 L641.1,325.5 L641.8,322.6 L643.2,320.0 L644.3,318.1 L644.8,315.9 L646.7,314.6 L648.0,312.7 L648.0,309.5 M648.6,311.6 L650.3,312.8 L652.3,313.1 L654.3,313.7 L656.0,314.8 L658.0,315.7 L660.2,316.1 L662.4,316.5 L664.5,317.0 L666.1,319.0 L668.0,320.6 L669.9,322.3 L671.0,324.7 L671.1,327.3 L672.0,329.7 L671.6,332.2 L671.0,334.7 L671.0,337.2 L670.1,339.2 L668.5,340.7 L667.6,342.7 L666.7,344.6 L665.7,346.8 L664.5,348.9 L666.7,352.0 L668.9,351.5 L671.0,351.0 L672.1,348.7 L673.7,346.6 L675.2,344.6 L677.4,343.7 L679.5,342.5 L681.0,343.8 L682.4,345.3 L683.7,346.8 L684.0,349.0 L684.7,351.2 L685.6,353.2 L686.4,355.3 L687.0,357.4 L687.2,359.6 L687.6,361.8 L688.5,363.8 L689.0,365.0 L689.8,367.4 L690.0,370.0 L689.6,372.1 L689.0,374.1 L688.0,376.0 L685.0,377.5 L684.1,379.5 L682.8,381.2 L681.7,383.0 L680.9,385.0 L680.1,387.1 L679.0,389.0 M660.0,301.0 L658.0,300.0 L657.6,302.0 L658.0,304.0 L660.2,304.0 L662.4,304.5 L664.5,305.0 L662.3,305.1 L660.1,305.4 L658.0,306.0 L655.9,306.2 L653.9,306.5 L651.9,307.4 L649.8,308.3 L648.0,309.5 M735.0,364.0 L733.5,365.9 L731.4,367.2 L730.1,369.2 L728.2,370.6 L726.7,372.5 L725.0,373.8 L723.5,375.4 L721.5,376.4 L719.6,377.5 L718.0,379.0 L716.0,380.3 L713.9,381.4 L712.0,382.7 L710.0,384.0 L708.1,385.6 L705.7,386.3 L703.8,387.8 L701.7,389.0 L699.4,389.8 L697.5,391.3 L695.2,392.1 L693.0,393.0 L691.0,392.8 L689.0,392.6 L687.0,392.7 L685.0,392.5 L683.0,391.3 L680.9,390.3 L679.0,389.0 M773.0,316.7 L772.2,318.8 L771.5,320.9 L770.8,323.0 L773.0,325.8 L773.0,328.1 L773.3,330.3 L774.0,332.5 L772.5,334.0 L771.4,335.9 L770.0,337.5 L768.3,339.6 L766.7,341.7 L764.7,341.7 L762.7,342.2 L760.7,342.7 L758.7,343.0 L756.7,343.0 L754.5,342.9 L752.4,343.8 L750.2,344.1 L748.0,344.0 L746.0,344.7 L744.1,345.6 L742.1,346.2 L740.0,346.7 L738.0,347.3 L735.9,347.8 L734.0,348.7 L731.9,349.0 L730.0,350.0 L727.9,348.9 L725.8,348.0 M243.0,387.5 L244.7,388.9 L246.1,390.5 L248.0,391.7 L250.6,392.7 L253.0,394.0 L254.2,395.9 L255.4,397.7 L256.6,399.6 L257.5,401.7 L255.8,403.0 L254.8,405.0 L253.1,406.4 L251.7,408.0 L249.1,406.6 L246.7,405.0 L246.0,402.8 L244.3,401.0 L243.3,398.9 L242.5,396.7 L242.6,394.4 L242.4,392.1 L242.8,389.8 L243.0,387.5" fill="none" stroke="#474c52" stroke-width="1.0" stroke-linejoin="round" stroke-linecap="round"/><path d="M686.0,370.0 L688.0,369.8 L690.0,370.0 L690.1,372.5 L690.0,375.0 L686.5,376.0 L686.1,374.0 L686.2,372.0Z" fill="none" stroke="#474c52" stroke-width=".7"/><path d="M110.0,266.7 L112.5,266.5 L115.0,266.8 L117.5,266.7 L119.1,268.1 L120.0,270.1 L121.7,271.4 L123.0,273.0 L123.4,275.2 L123.1,277.4 L123.4,279.6 L124.0,281.7 L126.2,282.7 L128.5,283.0 L130.8,283.1 L133.0,284.0 L135.0,284.3 L137.1,284.6 L138.9,285.7 L141.1,285.3 L142.9,286.6 L145.0,286.7 L147.2,286.4 L149.3,286.7 L151.4,287.2 L153.6,287.3 L155.7,287.3 L157.9,287.4 L160.0,287.5 L162.1,287.5 L164.2,287.4 L166.2,286.8 L168.3,286.9 L170.4,286.5 L172.5,287.0 L174.6,286.6 L176.7,286.7 L178.7,286.7 L180.7,287.1 L182.6,288.1 L184.8,287.6 L186.7,288.3 L188.7,289.2 L190.9,289.7 L193.2,289.4 L195.2,290.6 L197.5,290.4 L199.5,291.4 L201.7,291.7 L205.5,292.0 M214.0,235.3 L205.5,288.0 L205.5,292.0 M205.5,292.0 L205.5,294.1 L206.8,295.8 L206.5,297.9 L207.8,299.7 L208.0,301.7 L207.0,303.6 L205.5,305.3 L205.0,307.4 L203.8,309.2 L203.1,311.3 L201.7,313.0 L199.9,314.3 L198.4,316.0 L197.6,318.2 L196.2,319.9 L194.5,321.4 L193.0,323.0 L193.9,325.2 L194.6,327.5 L195.9,329.5 L196.7,331.7 L196.1,333.7 L196.1,335.8 L195.6,337.8 L195.2,339.9 L194.2,341.8 L193.7,343.8 L193.2,345.8 L192.4,347.7 L192.5,349.9 L192.0,351.9 L191.4,353.9 L190.4,355.8 L190.6,358.0 L190.1,360.0 L189.5,362.0 L188.7,363.9 L188.7,366.0 L188.3,368.1 L187.5,370.0 M84.2,346.7 L143.3,362.5 L187.5,370.5 L229.0,379.0 L272.5,385.8 M227.0,238.0 L226.7,240.1 L226.2,242.1 L226.1,244.3 L225.2,246.2 L225.9,248.5 L224.5,250.4 L224.4,252.5 L224.0,254.6 L224.0,256.7 L224.2,259.0 L225.4,261.1 L225.3,263.6 L226.0,265.8 L226.7,268.0 L228.3,269.8 L228.9,272.2 L230.5,274.0 L231.5,276.1 L233.0,278.0 L234.9,279.4 L236.1,281.6 L238.2,282.9 L239.8,284.6 L241.0,286.7 L240.7,289.1 L240.0,291.3 L238.8,293.3 L238.4,295.7 L237.7,297.9 L236.7,300.0 L235.8,302.1 L235.3,304.4 L235.0,306.7 L237.0,306.9 L239.1,307.0 L241.0,307.9 L243.0,308.0 L243.7,310.2 L244.6,312.2 L245.3,314.4 L246.0,316.5 L246.6,318.7 L247.6,320.7 L248.0,323.0 L249.7,324.7 L250.4,327.0 L251.9,328.8 L253.2,330.7 L254.0,333.0 L256.0,332.7 L258.0,333.0 L260.0,333.1 L262.0,332.2 L264.0,333.0 L266.0,332.4 L268.0,332.5 L270.2,332.7 L272.4,332.5 L274.5,331.7 L276.7,331.7 L278.0,335.0 L280.5,336.0 M281.7,327.5 L272.5,385.8 L270.8,405.0 L300.0,410.8 M281.7,327.5 L330.0,333.0 L380.5,336.7 M384.0,259.0 L381.7,318.0 L380.5,336.7 L377.8,376.0 L375.0,415.8 M381.7,318.0 L430.0,320.0 L484.0,321.5 M377.8,376.0 L420.0,379.0 L458.0,380.0 L465.0,383.0 M300.0,410.8 L375.0,415.8 L404.0,418.0 L404.0,438.3 L400.8,497.5 M404.0,438.3 L450.0,439.5 L503.0,439.0 L506.7,440.0 M300.0,410.8 L290.8,488.0 M143.3,362.5 L130.0,419.0 L196.7,512.0 M229.0,379.0 L213.0,476.7 M213.0,476.7 L212.5,478.7 L212.0,480.8 L211.8,482.9 L210.5,484.8 L210.0,486.8 L209.5,488.9 L209.1,490.9 L208.4,492.9 L208.0,495.0 L205.0,493.0 L202.9,493.3 L200.9,494.1 L199.0,495.0 L198.9,497.1 L198.0,499.1 L198.3,501.3 L198.3,503.4 L197.8,505.5 L197.3,507.5 L196.6,509.6 L196.7,511.7 M196.7,511.7 L197.2,513.8 L196.9,515.9 L198.0,517.9 L198.0,520.0 L198.9,521.9 L199.6,524.0 L200.5,525.9 L201.2,527.9 L201.7,530.0 L200.0,531.4 L198.8,533.3 L197.7,535.3 L195.6,536.4 L194.7,538.5 L193.0,540.0 L191.7,541.9 L191.4,544.2 L189.8,545.9 L189.0,548.0 L189.1,550.2 L189.3,552.4 L189.1,554.6 L189.5,556.8 L190.0,559.0 M213.0,476.7 L290.8,488.0 L340.0,493.5 L385.0,497.3 L400.8,498.0 L460.0,499.0 L517.5,499.0 M290.8,488.0 L277.5,600.8 M319.0,593.0 L378.0,594.0 M385.0,497.5 L381.7,560.0 L378.0,594.0 M385.0,506.7 L431.7,509.0 L433.0,550.0 M433.0,550.0 L436.7,551.0 L439.1,552.2 L441.0,554.0 L443.9,554.5 L446.7,555.0 L448.8,556.5 L451.0,558.0 L453.0,558.5 L455.0,558.0 L457.3,559.8 L460.0,561.0 L462.5,561.2 L465.0,560.8 L466.9,561.9 L469.2,562.3 L471.0,563.5 L473.9,563.7 L476.7,563.0 L479.1,563.3 L481.6,563.8 L484.0,564.0 L486.5,563.2 L489.1,563.1 L491.7,563.0 L493.9,562.9 L495.8,561.6 L497.8,561.1 L500.0,561.0 L502.0,560.6 L504.0,560.3 L506.0,560.2 L508.0,560.0 L510.0,561.0 L512.2,561.7 L514.0,563.0 L516.2,563.1 L518.0,564.2 L520.0,565.0 L522.3,565.4 L524.5,566.3 L526.7,566.9 L529.0,567.5 M519.0,509.0 L521.7,533.0 L522.0,565.0 M529.0,567.5 L530.0,578.0 M530.0,578.0 L576.7,575.8 M530.0,578.0 L529.8,580.0 L530.7,582.0 L529.9,584.0 L530.5,586.0 L530.9,588.0 L531.0,590.0 L530.6,592.0 L530.5,594.0 L530.4,596.0 L530.8,598.0 L531.6,599.9 L533.3,601.3 L533.6,603.5 L535.0,605.0 L536.2,606.8 L536.3,609.1 L537.4,611.0 L538.1,613.0 L539.0,615.0 L538.5,617.1 L538.8,619.4 L538.7,621.6 L537.6,623.6 L538.1,625.9 L537.5,628.0 L537.3,630.0 L537.1,632.1 L536.4,634.0 L536.1,636.0 L535.4,638.0 L535.0,640.0 L533.0,643.0 M546.7,302.5 L545.7,304.8 L544.0,306.7 L544.3,308.7 L543.6,310.7 L544.0,312.7 L544.2,314.7 L544.0,316.7 L542.3,318.4 L540.3,319.8 L538.6,321.6 L536.7,323.0 L536.7,325.0 L537.6,326.9 L537.6,329.0 L538.0,331.0 L538.0,333.0 L538.1,335.1 L538.4,337.1 L539.2,339.0 L539.2,341.1 L540.0,343.0 L541.9,344.0 L543.1,345.9 L545.0,347.0 L546.6,348.3 L548.0,350.0 L549.7,351.6 L551.8,352.9 L553.6,354.4 L555.1,356.2 L556.7,358.0 L557.4,360.2 L558.2,362.4 L558.9,364.6 L560.0,366.7 L561.2,368.7 L561.8,371.0 L563.0,373.0 L562.8,375.4 L563.2,377.7 L564.0,380.0 L566.0,379.7 L568.0,380.0 L569.8,381.5 L571.6,383.1 L573.0,385.0 L574.2,387.1 L575.5,389.0 L576.7,391.0 L578.0,393.0 L578.0,395.0 L577.0,396.9 L577.7,399.1 L576.4,400.9 L576.7,403.0 L574.8,403.7 L573.1,404.8 L571.4,405.9 L569.5,406.6 L568.0,408.0 L568.0,410.0 L567.5,412.0 L567.5,414.0 L568.5,416.0 L568.0,418.0 L566.3,420.0 L565.0,422.3 L563.0,424.0 L562.6,426.6 L563.1,429.2 L562.5,431.7 L562.7,433.9 L564.1,435.8 L564.4,437.9 L565.0,440.0 L566.7,441.3 L567.6,443.2 L568.8,445.0 L570.0,446.7 L571.7,448.0 L573.3,449.5 L574.4,451.3 L575.6,453.1 L577.0,454.8 L578.0,456.7 L580.6,457.1 L583.0,458.0 L583.1,460.0 L582.7,462.0 L583.1,464.0 L582.1,466.0 L583.1,468.0 L582.5,470.0 L584.2,471.2 L585.4,472.8 L587.2,473.8 L588.5,475.4 L590.0,476.7 L591.7,477.9 L593.5,479.0 L595.1,480.4 L596.7,481.7 L597.3,483.7 L597.2,485.9 L597.9,487.9 L598.0,490.0 L600.8,491.1 L603.0,493.0 L602.3,495.3 L602.4,497.7 L601.7,500.0 L600.6,501.8 L599.6,503.7 L597.9,505.0 L596.7,506.7 L596.8,508.9 L595.8,510.8 L595.0,512.8 L595.0,515.0 L594.6,517.2 L593.6,519.1 L592.2,520.9 L591.7,523.0 L591.2,525.1 L589.8,526.8 L589.4,529.0 L588.9,531.0 L588.0,533.0 L587.4,535.2 L586.8,537.5 L585.4,539.4 L585.0,541.7 L584.2,543.8 L583.3,545.9 L582.3,547.8 L581.1,549.7 L580.0,551.7 L579.6,553.8 L578.8,555.8 L577.7,557.6 L577.4,559.7 L576.7,561.7 L576.4,563.7 L576.9,565.7 L576.3,567.7 L576.5,569.8 L576.6,571.8 L576.7,573.8 L576.7,575.8 L577.1,578.1 L578.4,580.1 L578.9,582.3 L579.3,584.5 L580.0,586.7 L580.1,588.8 L579.1,590.7 L578.9,592.7 L578.8,594.8 L578.0,596.7 L577.0,598.9 L575.9,601.1 L574.6,603.2 L573.0,605.0 L572.5,607.0 L572.7,609.0 L572.8,611.1 L572.4,613.1 L571.7,615.0 M571.7,615.8 L573.8,615.5 L575.8,615.1 L578.0,615.7 L580.0,615.2 L582.1,614.9 L584.2,614.9 L586.2,614.9 L588.3,614.5 L590.3,613.7 L592.5,614.5 L594.5,613.3 L596.5,613.2 L598.6,613.0 L600.7,613.1 L602.8,613.0 L602.6,615.1 L603.2,617.3 L602.8,619.4 L604.1,621.1 L604.8,623.2 L605.4,625.3 L606.7,627.0 L608.0,630.5 M623.0,532.5 L624.0,540.0 L624.8,600.0 L627.4,624.0 M663.0,528.0 L668.0,540.0 L675.0,561.7 L681.7,580.0 L683.0,595.0 L685.0,606.7 M644.9,620.0 L644.2,616.8 L641.7,615.0 L639.7,610.4 L660.0,607.3 L685.0,606.0 M685.0,608.0 L733.0,605.8 L735.0,604.0 L735.0,610.0 L743.0,606.7 M700.8,526.7 L701.9,528.6 L703.8,529.8 L705.2,531.5 L706.7,533.0 L708.2,534.3 L709.8,535.6 L711.0,537.2 L712.5,538.6 L713.9,540.0 L715.0,541.7 L716.8,542.7 L718.5,543.8 L719.8,545.5 L721.7,546.4 L723.0,548.0 L724.7,549.8 L726.6,551.4 L727.9,553.6 L730.0,555.0 L731.3,556.5 L732.6,558.1 L734.2,559.4 L735.5,560.9 L736.8,562.5 L738.2,564.0 L740.0,565.0 L741.3,566.8 L742.2,568.9 L743.2,570.9 L744.0,573.0 L746.2,574.8 L748.0,577.0 M701.7,522.5 L711.7,516.7 L733.0,513.0 L740.0,517.5 L756.7,516.7 L778.0,529.0 M588.0,534.0 L623.0,532.5 L640.0,529.5 L663.0,528.0 L685.0,523.0 L701.7,521.7 M721.7,488.0 L720.6,490.4 L718.8,492.5 L718.0,495.0 L716.2,496.2 L714.4,497.5 L712.2,498.0 L710.3,499.2 L708.5,500.4 L706.7,501.7 L705.6,503.5 L703.9,504.6 L702.6,506.1 L701.2,507.6 L699.7,509.0 L698.3,510.4 L696.7,511.7 L694.5,512.5 L692.5,513.9 L690.1,514.1 L688.0,515.0 L686.2,517.0 L685.3,519.5 L684.0,521.7 M603.0,503.0 L620.0,500.8 L621.7,496.7 L640.0,495.5 L690.0,490.8 L723.0,485.8 L756.7,480.0 L808.0,469.0 M519.0,508.0 L585.0,504.7 L588.0,508.0 L586.7,514.0 L595.0,514.0 M516.7,460.0 L518.0,508.0 L519.0,509.0 M465.0,383.0 L467.2,381.8 L469.6,381.3 L472.0,380.5 L474.0,381.1 L476.0,381.3 L478.0,381.7 L480.0,381.7 L481.7,383.2 L483.1,385.1 L485.0,386.5 L486.7,388.0 L487.8,389.8 L488.2,391.9 L489.3,393.7 L489.1,396.0 L489.8,398.0 L491.2,399.7 L491.7,401.7 L492.6,403.9 L492.7,406.3 L494.0,408.4 L494.7,410.6 L495.0,413.0 L495.8,414.9 L496.2,417.0 L496.4,419.0 L496.5,421.1 L497.8,422.9 L498.0,425.0 L498.5,427.7 L500.0,430.0 L501.1,431.7 L501.9,433.6 L503.1,435.2 L504.8,436.5 L505.4,438.4 L506.7,440.0 L509.4,441.1 L511.7,443.0 L510.9,445.0 L509.3,446.4 L508.0,448.0 L509.5,450.0 L511.4,451.6 L513.5,453.0 L515.0,455.0 L515.1,457.1 L515.4,459.1 L516.6,460.9 L516.7,463.0 M500.0,427.5 L557.5,425.0 L563.0,424.0 M486.7,369.0 L525.0,368.0 L559.0,366.0 M486.7,368.0 L486.6,370.4 L487.6,372.7 L488.0,375.0 L486.8,376.9 L485.8,378.9 L485.0,381.0 L485.9,383.3 L486.6,385.6 L486.7,388.0 M484.0,321.5 L482.5,323.4 L481.5,325.7 L480.8,328.0 L482.3,329.8 L484.3,331.1 L485.8,333.0 L486.0,335.1 L485.7,337.1 L485.6,339.2 L486.5,341.2 L486.4,343.3 L485.7,345.4 L486.6,347.4 L486.1,349.5 L486.5,351.5 L486.2,353.6 L486.0,355.7 L486.3,357.7 L486.6,359.8 L486.7,361.8 L486.5,363.9 L486.5,365.9 L486.7,368.0 M475.0,260.4 L474.9,262.6 L475.9,264.5 L475.8,266.7 L475.9,268.8 L477.0,270.8 L476.9,273.0 L477.5,275.0 L478.0,277.0 L478.6,278.9 L478.8,281.0 L478.7,283.0 L479.7,284.9 L479.5,287.0 L480.2,289.0 L480.8,290.9 L480.8,293.0 L481.1,295.0 L481.4,297.0 L481.5,299.0 L481.3,301.0 L481.4,303.1 L482.4,305.0 L481.8,307.1 L482.4,309.0 L482.3,311.1 L483.0,313.0 L482.9,315.2 L483.5,317.3 L484.0,319.3 L484.0,321.5 M573.0,385.0 L612.5,382.5 M618.0,397.0 L623.0,450.0 L623.0,458.0 L620.0,466.7 L618.0,473.0 L618.0,480.0 M723.0,406.7 L723.1,409.0 L722.1,411.2 L721.8,413.4 L722.1,415.8 L721.7,418.0 L720.8,419.8 L719.8,421.6 L718.8,423.4 L717.6,425.0 L716.5,426.7 L714.8,428.1 L714.4,430.2 L713.0,431.7 L712.0,433.9 L710.1,435.4 L708.8,437.5 L708.3,439.9 L706.7,441.7 L705.7,443.5 L704.0,444.7 L703.5,446.8 L702.1,448.3 L700.9,449.9 L700.0,451.7 L698.3,450.5 L696.2,450.0 L694.9,448.3 L693.0,447.5 L690.7,447.7 L688.5,448.6 L686.3,449.2 L683.9,449.3 L681.7,450.0 L679.7,448.7 L677.5,447.9 L675.1,447.8 L673.0,446.7 L671.3,445.5 L669.4,444.9 L667.8,443.4 L665.8,443.0 L665.1,445.1 L665.4,447.4 L664.8,449.5 L665.0,451.7 L663.0,452.6 L661.7,454.5 L659.8,455.5 L658.0,456.7 L655.8,457.1 L654.1,458.6 L652.0,459.2 L650.0,460.0 L648.6,461.6 L647.6,463.4 L646.0,464.8 L645.0,466.7 L643.6,468.3 L641.6,469.4 L640.0,470.8 L637.7,470.7 L635.3,471.3 L633.0,470.8 L630.8,471.6 L628.8,472.7 L627.0,474.0 L624.4,473.1 L621.7,473.0 L620.8,475.5 L619.2,477.7 L618.0,480.0 L617.1,481.9 L615.3,483.2 L614.1,484.9 L613.0,486.7 L610.8,487.6 L609.2,489.5 L607.1,490.7 L605.0,491.7 L603.0,493.0 M658.0,392.5 L665.0,444.0 M618.0,397.5 L631.7,393.5 L658.0,392.5 L680.0,389.0 M720.0,378.0 L726.7,420.8 M727.5,421.0 L797.5,407.5 L799.5,406.5 M700.0,451.7 L701.2,453.6 L701.1,456.0 L702.0,458.0 L703.0,460.0 L704.9,461.3 L705.9,463.4 L707.6,464.8 L708.5,466.9 L710.0,468.6 L711.7,470.0 M711.7,470.0 L713.9,470.5 L716.0,471.1 L717.9,472.4 L720.0,473.0 L721.9,472.0 L724.0,471.6 L725.9,470.4 L728.0,470.0 L730.1,469.0 L731.6,467.3 L733.1,465.6 L734.7,464.0 L736.7,463.0 L738.1,461.3 L739.2,459.4 L739.7,457.3 L740.5,455.3 L742.4,453.8 L743.0,451.7 L744.1,449.9 L744.4,447.7 L744.8,445.6 L746.2,443.8 L746.7,441.7 L749.2,442.2 L751.7,441.7 L752.3,439.4 L753.2,437.3 L754.6,435.3 L755.0,433.0 L756.8,432.0 L758.6,430.9 L760.1,429.4 L761.7,428.0 L761.7,425.9 L762.7,423.9 L762.5,421.7 L764.9,422.8 L767.4,423.6 L770.0,424.0 L772.4,423.1 L775.0,422.5 M711.7,470.0 L710.2,471.4 L709.7,473.5 L708.7,475.2 L707.6,476.9 L705.9,478.2 L705.0,480.0 L703.3,481.3 L701.8,482.8 L700.7,484.7 L699.3,486.3 L698.0,488.0 L695.9,488.5 L694.0,489.4 L692.0,490.1 L690.0,490.8 M744.0,418.5 L744.1,420.9 L744.8,423.3 L745.1,425.7 L745.8,428.0 L747.2,425.9 L749.4,424.8 L751.0,423.0 L753.2,421.2 L755.0,419.0 L757.5,420.0 L760.0,421.0 L761.0,419.3 L761.8,417.4 L763.0,415.8 L764.8,416.8 L766.5,418.0 L768.0,419.3 L770.0,420.0 L772.5,421.3 L775.0,422.5 M775.0,422.5 L777.7,423.9 L780.0,425.8 L782.2,426.6 L784.0,428.0 L783.1,430.4 L782.3,432.8 L781.0,435.0 L781.0,437.0 M801.7,404.0 L799.5,406.5 L799.0,409.0 L804.0,430.8 L814.0,429.0 M793.0,361.0 L794.5,362.8 L796.7,363.6 L798.1,365.5 L800.0,366.7 L801.6,368.1 L803.0,369.8 L805.0,370.8 L804.4,372.8 L804.0,374.9 L803.8,377.0 L802.9,379.0 L801.8,380.8 L801.7,383.0 L801.8,385.4 L803.0,387.5 L804.9,388.6 L806.3,390.4 L808.4,391.1 L809.9,392.8 L811.7,394.0 L810.7,395.8 L809.8,397.6 L808.6,399.3 L807.5,401.0 L805.4,401.8 L803.5,402.8 L801.7,404.0 M805.0,370.8 L821.7,377.5 M734.5,369.0 L734.0,374.0 L793.0,361.0 M807.5,296.7 L810.0,308.0 L813.0,323.0 L818.0,331.7 L820.0,339.0 M832.5,290.8 L830.0,303.0 L829.0,316.7 L829.0,336.7 M837.5,282.5 L845.0,306.7 L853.0,326.7 M820.0,339.0 L853.0,331.7 M820.8,352.5 L850.0,346.7 M845.0,347.5 L847.5,359.0 M820.0,339.0 L820.8,352.5 L823.0,368.0 L821.7,375.0 M570.0,305.0 L572.0,306.1 L573.9,307.3 L576.1,307.8 L577.8,309.4 L580.0,310.0 L582.0,311.0 L584.0,311.7 L586.2,312.0 L588.4,312.3 L590.3,313.5 L592.6,313.3 L594.6,314.4 L596.7,315.0 L599.0,315.9 L600.7,317.8 L602.9,318.8 L605.0,320.0 L605.5,322.1 L606.9,323.9 L607.0,326.1 L608.0,328.0 L608.0,331.7 M745.0,613.0 L745.0,615.3 L745.2,617.6 L744.7,619.9 L744.7,622.1 L744.8,624.4 L745.0,626.7 L746.7,628.5 L747.5,630.8" fill="none" stroke="#474c52" stroke-width=".95" stroke-opacity=".92" stroke-linejoin="round" stroke-linecap="round"/><path d="M807.5,296.5 L831.7,290.0 L833.0,283.0 L837.5,282.0 L838.3,279.6 L839.8,277.6 L840.9,275.3 L841.7,273.0 L842.3,270.9 L841.7,268.7 L841.9,266.5 L842.0,264.4 L842.3,262.3 L843.1,260.2 L843.0,258.0 L843.0,255.7 L843.8,253.5 L843.9,251.2 L844.4,248.9 L845.0,246.7 L845.4,244.3 L846.4,242.1 L846.6,239.7 L846.4,237.2 L847.5,235.0 L850.8,233.0 L852.1,234.7 L853.0,236.7 L854.5,235.3 L856.7,235.1 L858.4,234.0 L860.1,233.0 L861.7,231.7 L863.6,232.9 L865.7,233.6 L867.7,234.7 L870.0,235.0 L870.5,237.2 L871.9,239.1 L872.1,241.4 L873.4,243.3 L873.9,245.6 L875.0,247.6 L875.9,249.6 L876.7,251.7 L878.1,253.6 L879.3,255.7 L880.7,257.6 L882.1,259.5 L883.0,261.7 L883.9,263.6 L885.2,265.2 L886.7,266.7 L887.9,268.7 L889.7,270.0 L891.4,271.5 L893.0,273.0 L892.0,275.1 L891.9,277.5 L890.5,279.5 L890.0,281.7 L890.7,279.8 L889.5,281.8 L887.4,283.1 L886.0,285.0 L884.3,286.4 L882.5,287.6 L881.4,289.6 L879.7,290.9 L878.3,292.5 L876.4,293.4 L875.0,295.0 L873.3,296.1 L871.9,297.6 L870.2,298.7 L868.4,299.6 L866.8,301.0 L865.0,302.0 L862.7,303.3 L860.8,305.0 L859.7,307.2 L858.0,309.0 L857.3,311.1 L856.0,312.9 L854.8,315.3 L854.5,318.0 L854.4,320.0 L854.2,322.0 L853.7,324.0 L854.2,326.1 L855.1,328.1 L856.0,330.0 L855.3,332.3 L853.9,334.3 L853.0,336.5 L854.4,338.7 L856.4,340.5 L857.6,342.8 L859.1,344.5 L861.1,345.7 L862.4,347.6 L864.2,346.6 L866.0,345.6 L868.0,344.9 L870.0,344.4 L871.8,341.3 L868.7,340.5 L869.9,342.7 L871.9,344.1 L873.4,346.0 L873.1,348.7 L873.9,351.3 L874.0,353.9 L872.0,354.5 L870.0,355.4 L868.3,354.2 L866.3,353.7 L864.1,353.5 L862.4,352.3 L860.4,353.0 L858.4,353.7 L856.6,355.0 L854.5,355.4 L852.6,354.2 L851.3,352.3 L851.8,354.8 L853.0,357.0 L851.0,357.7 L849.1,358.8 L847.0,359.3 L845.0,360.0 L843.3,361.4 L841.2,361.9 L839.5,363.2 L837.9,364.7 L835.7,365.1 L834.0,366.5 L832.4,368.0 L830.5,368.9 L828.9,370.2 L826.7,370.7 L825.0,372.0 L827.2,371.1 L829.7,371.0 L832.0,370.5 L833.9,369.4 L836.0,369.1 L838.1,368.6 L840.0,367.8 L842.0,367.0 L844.0,366.4 L846.0,365.6 L848.0,365.0 L846.3,366.1 L845.1,367.8 L843.2,368.6 L841.8,370.0 L840.0,371.0 L837.8,371.6 L835.8,372.4 L834.2,374.2 L832.2,375.1 L829.9,375.4 L828.0,376.5 L826.0,377.5 L823.8,378.8 L821.3,379.0 L819.0,380.0 L820.0,381.7 L817.9,383.9 L816.7,386.7 L819.2,386.6 L821.7,386.7 L822.0,388.7 L821.9,390.7 L821.7,392.7 L822.6,394.7 L822.5,396.7 L822.4,399.2 L822.3,401.6 L821.7,404.0 L820.6,406.2 L819.9,408.5 L819.2,410.9 L818.0,413.0 L817.1,415.1 L816.5,417.2 L815.0,419.0 L813.0,416.0 L810.8,414.7 L809.1,412.7 L806.7,411.7 L805.4,410.0 L803.7,408.5 L802.5,406.7 L801.7,409.0 L802.4,411.2 L804.0,412.9 L805.0,415.0 L806.8,416.1 L808.7,417.3 L810.0,419.0 L811.7,420.8 L812.9,422.8 L814.0,425.0 L814.6,427.2 L814.3,429.5 L815.0,431.7 L814.8,433.8 L814.3,435.9 L813.4,437.9 L813.0,440.0 L811.8,442.1 L811.8,444.5 L810.8,446.7 L810.1,448.7 L810.0,450.9 L809.4,452.9 L809.0,455.0 L808.2,457.0 L807.5,459.0 L807.0,461.0 L807.5,463.0 L807.4,465.0 L807.8,467.0 L808.0,469.0 L809.1,470.8 L810.9,472.0 L812.3,473.5 L813.2,475.5 L815.0,476.7 L815.9,478.6 L816.6,480.6 L818.0,482.2 L818.3,484.4 L819.6,486.1 L820.9,487.8 L821.1,490.0 L822.5,491.7 L820.9,493.4 L819.5,495.2 L817.9,496.9 L816.5,498.7 L814.8,500.3 L813.0,501.7 L811.8,503.7 L811.4,506.1 L810.0,508.0 L808.1,508.9 L806.0,509.3 L804.0,509.8 L802.0,510.6 L799.9,510.8 L798.0,511.7 L796.9,513.5 L795.4,515.1 L794.1,516.8 L793.0,518.6 L791.6,520.2 L790.0,521.7 L789.7,523.9 L788.4,525.8 L788.0,528.0 L786.1,528.8 L784.0,528.6 L782.1,529.5 L780.0,529.4 L778.0,530.0 L776.6,531.9 L775.6,534.1 L773.8,535.7 L773.0,538.0 L772.1,540.1 L771.4,542.3 L771.2,544.7 L770.0,546.7 L768.9,548.4 L767.9,550.2 L766.5,551.7 L764.9,553.1 L763.8,554.8 L763.0,556.7 L761.9,558.7 L760.0,560.0 L758.1,561.5 L756.2,563.0 L754.7,565.0 L753.0,566.7 L752.4,568.9 L750.6,570.5 L750.1,572.7 L748.5,574.5 L748.0,576.7 L747.0,578.9 L746.5,581.1 L745.7,583.4 L746.1,585.9 L745.0,588.0 L744.5,590.0 L744.8,592.0 L744.8,594.0 L744.3,596.0 L744.0,598.0 L743.7,600.2 L744.0,602.4 L743.3,604.5 L743.0,606.7 L743.6,608.9 L744.9,610.8 L745.7,612.9 L746.7,615.0 L748.1,616.9 L748.8,619.3 L750.7,620.9 L751.6,623.1 L753.0,625.0 L754.1,626.8 L755.9,628.0 L756.3,630.3 L758.2,631.5 L758.8,633.7 L760.1,635.3 L761.7,636.7 L762.6,638.9 L763.9,640.9 L765.6,642.6 L766.8,644.7 L768.0,646.7 L769.2,648.5 L769.6,650.7 L771.5,652.2 L772.4,654.1 L772.6,656.4 L773.7,658.3 L775.0,660.0 L775.6,662.2 L776.2,664.5 L777.5,666.5 L778.0,668.8 L779.2,670.8 L780.0,673.0 L780.1,675.1 L781.5,676.9 L781.6,679.0 L781.9,681.0 L782.2,683.1 L783.0,685.0 L783.4,687.2 L783.5,689.4 L783.5,691.6 L784.4,693.7 L785.0,695.8 L785.0,698.0 L784.4,700.0 L782.7,701.3 L782.0,703.2 L781.1,705.0 L780.0,706.7 L778.3,708.1 L776.9,709.8 L775.2,711.1 L773.5,712.5 L771.8,713.8 L770.0,715.0 L767.8,715.6 L766.0,717.3 L764.0,718.4 L761.7,719.0 L765.0,712.0 L765.2,709.9 L763.8,708.1 L764.3,706.0 L763.3,704.1 L763.9,701.9 L763.0,700.0 L761.0,699.3 L759.9,697.3 L758.1,696.3 L756.6,695.0 L755.0,693.7 L753.0,693.0 L751.5,691.2 L750.3,689.1 L749.4,686.9 L747.7,685.1 L746.7,683.0 L745.3,681.5 L744.2,679.8 L743.7,677.8 L742.6,676.1 L741.4,674.5 L740.0,673.0 L738.7,671.3 L738.4,669.0 L737.0,667.4 L735.7,665.7 L735.0,663.7 L733.9,661.9 L733.0,660.0 L731.1,658.7 L730.0,656.7 L730.1,654.7 L729.8,652.7 L730.1,650.7 L730.5,648.7 L730.0,646.7 L729.3,644.5 L728.2,642.4 L727.9,640.0 L726.7,638.0 L724.7,636.5 L722.2,636.0 L720.0,635.0 L718.7,633.0 L716.3,632.1 L714.7,630.3 L713.1,628.6 L711.7,626.7 L710.2,625.2 L708.3,624.5 L706.6,623.5 L704.6,622.9 L703.0,621.7 L700.9,622.1 L698.7,622.1 L696.7,623.0 L695.4,625.1 L693.7,626.8 L692.1,628.6 L690.0,630.0 L687.9,630.2 L685.8,630.0 L683.8,630.5 L681.7,630.8 L679.9,628.9 L678.4,626.9 L676.7,625.0 L674.8,624.1 L673.7,622.2 L671.6,621.6 L669.9,620.6 L668.2,619.4 L666.7,618.0 L664.4,617.6 L662.1,618.2 L659.9,617.5 L657.6,618.2 L655.3,618.1 L653.0,618.0 L651.2,619.2 L648.8,618.9 L647.0,620.0 L644.9,620.0 L642.0,621.5 L639.9,621.9 L638.0,623.0 L636.5,625.0 L636.3,623.0 L635.7,621.0 L636.0,619.0 L634.5,617.5 L633.0,619.5 L632.8,622.4 L632.6,625.3 L630.3,625.5 L628.0,625.5 L624.8,626.0 L622.6,625.3 L620.3,624.8 L618.0,625.0 L615.9,625.0 L613.9,625.9 L611.8,626.0 L612.9,628.4 L613.0,631.0 L611.6,633.3 L611.0,636.0 L610.2,638.7 L610.5,641.5 L612.1,643.2 L613.0,645.4 L615.0,646.0 L617.0,646.7 L619.6,648.6 L617.0,651.0 L615.0,652.4 L613.0,653.8 L612.5,651.2 L611.0,649.0 L608.0,646.7 L605.4,646.7 L604.0,648.3 L602.0,649.0 L600.4,650.6 L598.2,651.2 L595.9,651.1 L593.7,651.8 L591.7,652.4 L589.8,653.2 L587.9,653.8 L586.0,651.8 L583.9,650.9 L581.6,650.5 L579.4,650.0 L578.0,646.7 L575.9,647.1 L574.0,648.0 L572.0,648.0 L569.9,647.8 L568.0,647.0 L565.8,646.9 L563.9,645.9 L562.0,645.0 L560.0,644.4 L558.0,644.3 L556.0,643.8 L553.8,643.6 L551.6,642.8 L549.4,642.3 L547.2,642.0 L545.0,641.7 L543.0,642.1 L541.0,641.7 L539.0,642.0 L536.9,642.1 L534.9,642.3 L533.0,643.0 L530.8,643.6 L528.7,642.8 L526.5,643.2 L524.3,643.1 L522.2,643.0 L520.0,643.0 L518.7,645.7 L516.7,648.0 L515.6,649.9 L513.6,651.1 L512.8,653.3 L510.9,654.7 L510.0,656.7 L507.9,657.6 L506.1,659.0 L504.1,660.0 L501.9,660.8 L499.9,661.7 L498.0,663.0 L496.2,664.3 L494.5,665.8 L492.6,666.8 L490.2,667.3 L488.4,668.6 L486.7,670.0 L485.6,671.8 L483.6,672.6 L482.3,674.2 L481.1,675.9 L479.2,676.8 L478.4,678.9 L476.7,680.0 L476.1,682.2 L474.9,684.1 L473.4,685.9 L472.6,688.0 L471.7,690.0 L471.9,692.2 L471.6,694.4 L472.5,696.5 L472.2,698.7 L473.4,700.8 L473.0,703.0 L473.1,705.1 L474.3,706.9 L474.2,709.0 L474.5,711.1 L475.1,713.0 L475.7,715.0 L476.2,717.0 L476.7,719.0 L466.7,716.7 L464.7,716.1 L462.8,715.3 L460.8,714.6 L458.9,713.9 L456.9,713.2 L455.0,712.3 L453.0,711.7 L451.2,710.6 L449.9,709.1 L447.9,708.4 L446.4,706.9 L444.8,705.6 L443.1,704.5 L441.7,703.0 L441.1,700.7 L439.9,698.7 L439.5,696.4 L438.8,694.2 L437.3,692.3 L436.7,690.0 L435.8,688.1 L434.5,686.4 L433.1,684.8 L431.3,683.4 L430.5,681.5 L429.3,679.6 L428.0,678.0 L426.8,676.2 L425.7,674.4 L424.7,672.4 L423.6,670.6 L423.0,668.4 L421.7,666.7 L420.5,665.1 L419.5,663.3 L418.6,661.5 L417.7,659.6 L416.1,658.2 L414.8,656.7 L414.5,654.5 L413.0,653.0 L411.9,651.1 L410.6,649.5 L409.0,648.0 L407.5,646.5 L406.1,644.9 L405.0,643.0 L403.0,642.7 L401.0,642.0 L398.9,641.9 L397.0,640.8 L395.1,640.3 L393.0,640.0 L391.1,640.8 L388.9,640.3 L387.0,641.0 L384.9,640.9 L383.0,641.7 L381.8,643.3 L380.3,644.7 L379.3,646.5 L378.0,648.0 L376.5,649.7 L375.3,651.5 L374.3,653.5 L372.5,655.0 L370.4,654.0 L368.6,652.7 L366.8,651.3 L365.0,650.0 L363.3,648.9 L361.7,647.6 L360.1,646.4 L358.3,645.4 L356.6,644.3 L355.0,643.0 L354.0,641.0 L353.4,638.8 L352.3,636.9 L351.1,634.9 L350.0,633.0 L349.5,631.0 L348.1,629.3 L347.1,627.5 L346.3,625.6 L345.5,623.7 L345.0,621.7 L343.0,620.6 L341.7,618.7 L340.3,617.0 L338.1,616.2 L336.8,614.3 L335.0,613.0 L333.9,611.1 L332.3,609.6 L330.5,608.4 L329.4,606.5 L327.7,605.1 L326.2,603.5 L325.0,601.7 L323.4,600.2 L322.6,598.2 L321.7,596.2 L319.9,595.0 L319.0,593.0 L291.7,594.0 L290.8,602.5 L277.5,600.8 L243.0,596.7 L185.0,561.7 L190.0,559.0 L146.7,554.5 L145.0,543.0 L144.0,541.0 L143.2,538.9 L142.4,536.8 L140.8,535.1 L140.0,533.0 L138.5,531.2 L136.8,529.7 L135.1,528.1 L133.1,526.9 L131.7,525.0 L129.8,524.2 L128.3,522.7 L126.8,521.3 L124.9,520.4 L123.3,519.1 L121.6,518.0 L120.0,516.7 L118.5,515.3 L116.9,514.1 L115.0,513.4 L113.6,511.9 L111.4,511.4 L110.0,510.0 L108.3,508.4 L106.5,506.9 L104.3,506.1 L102.8,504.3 L100.8,503.0 L100.5,501.0 L100.5,498.9 L99.5,496.9 L99.4,494.8 L99.4,492.8 L98.8,490.8 L98.2,488.8 L98.0,486.7 L96.9,484.9 L96.9,482.7 L95.8,480.8 L95.6,478.7 L94.1,477.0 L94.0,474.9 L93.0,473.0 L92.3,470.9 L91.3,468.8 L89.6,467.2 L88.9,465.1 L88.0,463.0 L88.3,460.9 L89.6,459.1 L90.0,457.0 L90.8,455.0 L90.5,452.9 L89.3,451.0 L89.0,448.9 L88.4,446.9 L87.2,445.1 L86.7,443.0 L86.8,441.0 L87.1,439.0 L86.7,437.0 L86.7,435.0 L85.8,433.0 L84.8,431.1 L84.4,428.9 L83.1,427.1 L82.6,425.0 L81.7,423.0 L80.9,420.9 L80.1,418.9 L78.9,417.0 L78.5,414.8 L77.9,412.7 L76.5,410.8 L75.7,408.8 L75.0,406.7 L75.7,404.7 L75.7,402.5 L75.7,400.4 L75.8,398.3 L76.8,396.3 L76.7,394.2 L77.2,392.1 L77.5,390.0 L76.6,388.1 L76.2,386.0 L75.6,383.9 L74.5,382.1 L74.0,380.0 L74.0,376.7 L74.5,374.6 L76.1,373.0 L76.9,371.0 L77.0,368.7 L78.3,366.9 L79.3,365.0 L80.0,363.0 L80.4,360.9 L81.2,359.0 L81.9,357.0 L82.1,354.9 L82.4,352.8 L82.7,350.7 L83.3,348.7 L84.0,346.7 L83.9,344.4 L84.0,342.1 L84.2,339.8 L85.0,337.6 L84.9,335.3 L85.0,333.0 L86.2,331.3 L87.2,329.5 L88.0,327.7 L88.3,325.6 L90.0,324.1 L90.2,322.0 L91.7,320.4 L92.6,318.6 L93.3,316.7 L94.3,314.7 L94.9,312.5 L95.5,310.3 L96.3,308.2 L97.6,306.3 L98.1,304.1 L99.2,302.1 L100.0,300.0 L100.4,297.8 L101.0,295.7 L101.7,293.6 L102.7,291.6 L103.1,289.4 L103.7,287.2 L104.4,285.1 L105.0,283.0 L105.7,281.0 L106.3,278.9 L106.8,276.9 L107.9,275.0 L108.3,272.9 L108.5,270.7 L109.2,268.7 L110.0,266.7 L112.5,266.4 L115.0,266.7 L112.9,266.0 L110.8,265.0 L110.0,263.0 L111.0,260.7 L112.9,258.9 L114.0,256.7 L111.7,255.0 L112.2,252.5 L112.5,250.0 L112.4,247.5 L112.9,245.0 L112.5,242.5 L112.1,240.4 L112.1,238.3 L112.1,236.2 L111.5,234.2 L111.4,232.1 L111.0,230.0 L113.0,221.5 L114.6,222.7 L116.2,223.9 L117.5,225.4 L119.4,226.3 L121.0,227.5 L123.1,228.3 L125.2,229.3 L127.4,229.7 L129.4,230.9 L131.5,231.7 L132.4,233.9 L133.5,236.0 L132.1,238.2 L131.5,240.8 L130.0,243.0 L129.3,245.1 L128.7,247.2 L127.5,249.0 L128.0,251.3 L129.0,253.5 L131.5,253.4 L134.0,253.0 L135.1,250.7 L137.4,249.3 L138.5,247.0 L139.9,244.8 L140.6,242.4 L141.5,240.0 L142.3,237.7 L142.5,235.2 L143.5,233.0 L142.4,231.2 L142.2,229.0 L141.5,227.0 L140.7,224.6 L140.8,222.0 L140.3,219.8 L140.4,217.5 L153.3,220.8 L176.0,226.3 L198.0,231.7 L213.3,235.0 L226.7,238.0 L240.0,240.8 L260.0,244.2 L290.0,248.7 L320.0,252.3 L355.0,255.8 L380.0,257.5 L403.0,258.8 L430.0,259.8 L475.0,260.4 L501.7,259.7 L501.9,257.6 L502.4,255.5 L502.5,253.3 L504.6,253.8 L506.7,254.0 L507.5,255.9 L508.1,257.9 L508.2,260.0 L508.8,261.9 L509.0,264.0 L511.1,265.0 L513.3,265.6 L515.6,266.2 L517.8,266.9 L520.0,267.5 L522.0,267.5 L524.0,266.8 L526.0,267.0 L528.0,266.5 L530.0,266.7 L531.8,268.2 L534.2,268.6 L535.8,270.5 L538.2,271.0 L540.0,272.5 L542.3,273.2 L544.7,273.3 L547.0,273.9 L549.3,274.8 L551.7,275.0 L553.7,274.0 L555.7,273.6 L558.0,273.9 L560.0,273.0 L562.0,273.5 L564.1,273.6 L565.9,275.0 L568.0,275.0 L570.1,275.6 L572.4,275.0 L574.5,275.5 L576.7,275.8" fill="none" stroke="#474c52" stroke-width="1.15" stroke-linejoin="round"/><path d="M576.7,275.8 L577.4,273.8 L578.8,272.2 L579.6,270.3 L581.0,268.7 L581.7,266.7 L583.3,265.1 L584.9,263.4 L586.7,261.9 L588.0,260.0 L589.7,258.6 L591.7,257.7 L593.2,256.2 L595.0,255.0 L597.2,255.4 L599.5,255.9 L601.7,256.0 L604.0,256.0 L606.2,256.3 L608.5,256.6 L610.8,256.1 L613.0,256.7 L615.3,256.9 L617.6,257.5 L620.0,257.5 L621.5,259.5 L623.4,261.1 L625.0,263.0 L626.8,264.5 L628.4,266.2 L630.0,268.0 L632.0,268.5 L634.1,268.8 L635.9,270.0 L638.0,270.4 L640.0,270.8 L641.0,272.9 L642.2,274.8 L643.0,277.0 L644.1,279.3 L645.0,281.7 L645.8,283.8 L646.8,285.8 L647.4,287.9 L648.0,290.0 L649.1,292.0 L649.8,294.1 L651.0,296.0 L652.8,298.2 L655.0,300.0 L657.6,300.1 L660.0,301.0 L662.1,300.4 L664.4,300.6 L666.4,299.6 L668.6,299.5 L670.8,299.4 L673.0,299.0 L675.1,299.0 L677.2,298.8 L679.4,299.2 L681.5,299.2 L683.6,298.6 L685.8,299.2 L687.9,298.9 L690.0,299.0 L692.3,299.3 L694.7,299.6 L697.0,300.0 L699.3,300.4 L701.7,300.4 L703.4,301.6 L705.0,303.0 L706.5,304.3 L708.0,305.7 L709.3,307.4 L710.8,308.8 L712.5,310.0 L714.2,311.8 L715.6,313.8 L717.2,315.8 L719.0,317.5 L720.8,320.0 L719.4,322.1 L718.4,324.4 L717.5,326.7 L715.3,326.3 L713.1,325.9 L710.8,325.8 L708.5,325.3 L706.3,324.5 L704.0,324.0 L702.3,322.5 L700.8,320.8 L699.4,319.2 L698.0,317.5 L696.7,315.8 L694.6,315.8 L692.5,315.8 L694.2,317.4 L695.3,319.4 L696.6,321.2 L698.0,323.0 L698.7,325.4 L700.0,327.5 L698.8,329.6 L698.0,332.0 L696.7,334.0 L696.2,336.0 L695.4,337.9 L695.0,340.0 L695.9,342.2 L695.9,344.5 L696.7,346.7 L697.5,349.1 L697.5,351.7 L696.2,353.7 L695.1,355.9 L694.0,358.0 L691.8,359.6 L690.0,361.7 L689.0,365.0 L689.6,367.5 L690.0,370.0 L689.5,372.0 L688.9,374.1 L688.0,376.0 L685.0,377.5 L687.3,378.7 L689.5,380.2 L691.7,381.7 L693.1,380.3 L694.3,378.7 L695.7,377.2 L697.4,376.1 L698.4,374.2 L700.0,373.0 L701.9,371.7 L703.2,369.7 L705.2,368.4 L706.7,366.7 L709.0,366.7 L711.2,366.7 L713.5,366.4 L715.7,365.6 L718.0,365.8 L720.5,365.6 L723.0,365.0 L720.0,362.5 L722.4,361.7 L724.6,360.4 L726.7,359.0 L728.8,358.4 L730.8,357.5 L732.8,356.9 L735.0,356.7 L737.0,356.1 L739.0,355.8 L738.1,353.8 L736.6,352.1 L735.8,350.0 L732.9,350.0 L730.0,350.0 L728.0,348.8 L725.8,348.0 L726.6,345.9 L727.4,343.9 L728.0,341.7 L730.1,340.7 L732.0,339.4 L733.6,337.6 L735.8,336.7 L737.9,335.8 L739.9,334.8 L742.0,334.0 L743.8,332.6 L745.8,331.5 L748.0,330.8 L749.7,329.6 L751.6,329.1 L753.4,328.1 L755.4,327.7 L757.2,326.7 L758.9,325.7 L760.8,325.0 L762.6,324.0 L764.3,323.0 L766.2,322.2 L768.3,321.9 L770.0,320.8 L771.3,318.6 L773.0,316.7 L774.5,314.8 L776.0,312.8 L777.5,310.8 L779.0,309.2 L780.0,307.2 L781.6,305.6 L783.0,304.0 L784.7,302.5 L786.7,301.5 L807.5,296.5" fill="none" stroke="#474c52" stroke-width=".75" stroke-opacity=".85" stroke-linejoin="round"/><path d="M133.5,221.5 L135,220.3 L137.5,221 L139,219.8 L141,221 L143.3,222 L143.5,225.5 L142,227.8 L139.5,226.5 L137.5,228 L135,226.5 L133.3,224.5Z M139,229 L141.5,228.5 L142.5,232 L144,236 L143,238.5 L141.5,240 L141,244 L140,248 L138.5,251.5 L136,253 L133.5,254.2 L130.5,254.5 L128,253.5 L127.3,250.5 L128.5,247 L131,244 L133.5,241 L135,238 L133,236 L132.5,233.5 L135,232.5 L137.5,231.5Z" fill="#474c52"/><ellipse cx="133.8" cy="246.6" rx="1.7" ry="1.1" transform="rotate(-35 133.8 246.6)" fill="#fff"/><circle cx="137.3" cy="216.6" r=".7" fill="#474c52"/><path d="M112.5,250.0 L114.3,250.3 L116.0,251.0 L114.4,252.2 L113.0,253.5 L114.8,254.4 L116.0,256.0 L113.8,256.6 L112.0,258.0 L111.2,259.9 L111.0,262.0 L112.1,264.1 L114.0,265.5 L115.6,265.9 L117.0,266.7" fill="none" stroke="#474c52" stroke-width="1.3" stroke-linejoin="round" stroke-linecap="round"/><path d="M81.7,426.5 L83.7,427.6 L85.0,429.5 L87.0,431.0 L88.3,430.1 L89.9,429.5 L90.8,428.0 L92.6,428.3 L94.3,429.1 L96.0,429.5 L97.8,430.1 L99.4,431.3 L101.2,432.0 L103.0,432.5" fill="none" stroke="#474c52" stroke-width="1.5" stroke-linejoin="round" stroke-linecap="round"/><path d="M86.7,431.0 L87.2,432.6 L87.2,434.3 L87.5,436.0 L88.6,437.7 L89.9,439.3 L91.0,441.0" fill="none" stroke="#474c52" stroke-width="1.5" stroke-linejoin="round" stroke-linecap="round"/><ellipse cx="104" cy="516.5" rx="2.5" ry="0.8" fill="#474c52"/><ellipse cx="110" cy="517.3" rx="2.0" ry="0.75" fill="#474c52"/><ellipse cx="115" cy="517.8" rx="1.5" ry="0.65" fill="#474c52"/><ellipse cx="110" cy="532.5" rx="1.2" ry="1.0" fill="#474c52"/><ellipse cx="129" cy="533.5" rx="1.5" ry="1.7" fill="#474c52"/><ellipse cx="126.7" cy="542.5" rx="1.2" ry="2.3" fill="#474c52"/><ellipse cx="77" cy="430" rx="0.8" ry="1.1" fill="#474c52"/><path d="M583.5,277.5 L590,273.8" stroke="#474c52" stroke-width="1.5" stroke-linecap="round"/><path d="M797.5,408.5 L794,414 L791.5,419 L791,424 L793,429 L796,434 L799,440 L801,446 L803,452 L805,458 L807.5,462.5 L807.3,458 L805.5,452 L804,446 L802.3,440 L799.5,434 L797,428.5 L795.8,423 L796.8,417 L799.5,410.5Z" fill="#fff"/><path d="M798.5,408.0 L797.2,408.9 L796.7,410.4 L796.2,411.9 L795.3,413.1 L794.0,414.0 L793.6,415.4 L792.3,416.3 L791.6,417.5 L791.5,419.0 L791.5,420.7 L791.2,422.3 L791.0,424.0 L791.6,425.2 L791.4,426.7 L792.6,427.7 L793.0,429.0 L794.0,430.1 L794.5,431.5 L795.8,432.4 L796.0,434.0 L796.6,435.2 L797.7,436.2 L797.4,437.8 L798.5,438.8 L799.0,440.0 L798.9,441.7 L800.1,443.0 L800.8,444.4 L801.0,446.0 L800.8,447.7 L801.5,449.2 L803.2,450.3 L803.0,452.0 L802.9,453.7 L803.5,455.2 L803.9,456.7 L805.0,458.0 L805.8,459.5 L806.4,461.2 L807.5,462.5" fill="none" stroke="#474c52" stroke-width="1.5" stroke-linejoin="round" stroke-linecap="round"/><path d="M799.5,410.5 L799.0,411.8 L798.5,413.1 L798.4,414.6 L797.0,415.6 L796.8,417.0 L796.3,418.5 L796.1,420.0 L796.1,421.5 L795.8,423.0 L795.9,424.4 L796.0,425.8 L796.5,427.2 L797.0,428.5 L797.8,429.8 L797.8,431.4 L799.1,432.5 L799.5,434.0 L800.5,435.0 L800.9,436.3 L801.2,437.6 L801.3,439.0 L802.3,440.0 L802.9,441.5 L803.0,443.1 L803.8,444.4 L804.0,446.0 L804.9,447.4 L804.2,449.1 L805.0,450.5 L805.5,452.0 L806.0,453.5 L806.2,455.1 L807.3,456.4 L807.3,458.0" fill="none" stroke="#474c52" stroke-width="1.4" stroke-linejoin="round" stroke-linecap="round"/><path d="M794.0,414.0 L792.6,414.2 L791.5,415.2 L790.0,415.0 L788.7,415.7 L788.2,417.2 L787.0,418.0" fill="none" stroke="#474c52" stroke-width="1.3" stroke-linejoin="round" stroke-linecap="round"/><path d="M791.5,420.0 L790.0,420.5 L788.5,420.3 L787.0,420.5 L785.7,420.9 L784.7,421.8 L784.0,423.0" fill="none" stroke="#474c52" stroke-width="1.3" stroke-linejoin="round" stroke-linecap="round"/><path d="M791.0,425.0 L789.7,425.8 L788.4,426.5 L787.0,427.0 L785.3,426.2 L783.5,426.5" fill="none" stroke="#474c52" stroke-width="1.3" stroke-linejoin="round" stroke-linecap="round"/><path d="M794.5,432.0 L793.0,431.6 L791.5,431.9 L790.0,431.5 L789.0,430.2 L787.0,430.3 L786.0,429.0 L784.6,428.6 L783.5,427.5 L782.0,427.5 L780.7,427.1 L779.6,426.4 L778.5,425.5" fill="none" stroke="#474c52" stroke-width="1.3" stroke-linejoin="round" stroke-linecap="round"/><path d="M788.0,430.5 L787.2,431.8 L786.0,432.8 L785.0,434.0 L784.1,435.1 L783.3,436.3 L782.0,437.0" fill="none" stroke="#474c52" stroke-width="1.3" stroke-linejoin="round" stroke-linecap="round"/><path d="M799.0,440.0 L797.3,440.0 L795.7,439.1 L794.0,439.0 L792.7,438.5 L791.7,437.3 L790.0,437.6 L789.0,436.5 L787.7,436.1 L786.3,436.0 L785.0,435.5" fill="none" stroke="#474c52" stroke-width="1.3" stroke-linejoin="round" stroke-linecap="round"/><path d="M802.0,447.5 L800.7,447.2 L799.4,447.1 L798.4,446.0 L797.0,446.0 L795.8,445.2 L794.6,444.3 L793.5,443.4 L792.0,443.0 L790.7,442.6 L789.4,442.4 L788.0,442.5" fill="none" stroke="#474c52" stroke-width="1.3" stroke-linejoin="round" stroke-linecap="round"/><path d="M803.5,453.0 L802.1,452.9 L800.8,452.1 L799.5,451.6 L798.0,451.5 L796.6,451.1 L795.5,450.2 L794.2,449.7 L793.0,449.0" fill="none" stroke="#474c52" stroke-width="1.3" stroke-linejoin="round" stroke-linecap="round"/><path d="M805.5,458.5 L804.0,458.6 L802.9,457.2 L801.3,457.6 L800.0,457.0 L798.7,456.6 L797.4,456.2 L796.2,455.7 L795.0,455.0 L793.4,455.4 L791.6,455.1 L790.0,456.0 L788.6,456.6 L787.6,457.9 L786.0,458.0" fill="none" stroke="#474c52" stroke-width="1.3" stroke-linejoin="round" stroke-linecap="round"/><path d="M800.0,457.0 L798.8,457.8 L797.9,458.9 L797.0,460.0 L795.7,460.4 L794.3,460.5 L793.0,461.0" fill="none" stroke="#474c52" stroke-width="1.3" stroke-linejoin="round" stroke-linecap="round"/><path d="M796.5,419.0 L798.3,419.6 L800.0,420.5 L802.0,419.0" fill="none" stroke="#474c52" stroke-width="1.3" stroke-linejoin="round" stroke-linecap="round"/><path d="M797.0,427.0 L798.3,427.6 L799.7,427.7 L801.0,428.0 L802.6,427.8 L803.5,426.5" fill="none" stroke="#474c52" stroke-width="1.3" stroke-linejoin="round" stroke-linecap="round"/><path d="M800.5,435.0 L802.2,435.3 L804.0,435.5" fill="none" stroke="#474c52" stroke-width="1.3" stroke-linejoin="round" stroke-linecap="round"/><path d="M803.0,442.0 L804.6,442.1 L806.0,441.5" fill="none" stroke="#474c52" stroke-width="1.3" stroke-linejoin="round" stroke-linecap="round"/><path d="M798.0,423.0 L799.7,423.4 L801.0,424.5" fill="none" stroke="#474c52" stroke-width="1.3" stroke-linejoin="round" stroke-linecap="round"/><path d="M808,469.5 L814.5,477 L821.5,491.5 L813,501 L810,507 L806.5,505 L810,500 L812,494 L813.5,488 L811,482 L808,477 L805.5,473Z" fill="#fff"/><path d="M576.7,275.8 L577.7,274.0 L578.5,272.1 L579.8,270.4 L580.5,268.4 L581.7,266.7 L583.3,265.0 L585.1,263.6 L586.2,261.4 L588.0,260.0 L589.7,258.6 L591.6,257.6 L593.1,256.0 L595.0,255.0 L597.3,255.0 L599.5,255.8 L601.7,256.1 L604.0,256.0 L606.3,256.0 L608.5,256.1 L610.7,256.9 L613.0,256.7 L615.3,256.8 L617.7,257.3 L620.0,257.5 L621.6,259.4 L623.3,261.2 L625.0,263.0 L626.4,264.9 L628.1,266.6 L630.0,268.0 L632.0,268.7 L633.9,269.4 L635.9,269.9 L638.0,270.4 L640.0,270.8 L641.1,272.8 L642.2,274.8 L643.0,277.0 L644.2,279.3 L645.0,281.7 L645.4,283.9 L646.3,285.9 L647.5,287.8 L648.0,290.0 L648.7,292.1 L650.2,293.9 L651.0,296.0 L652.9,298.1 L655.0,300.0 L658.0,300.0 L658.0,302.0 L658.0,304.0 L655.8,302.6 L653.9,301.0 L651.6,300.1 L649.6,298.8 L647.5,298.2 L645.4,297.8 L643.6,295.7 L642.0,293.5 L639.9,293.9 L637.8,294.3 L635.8,295.0 L633.6,295.5 L631.4,296.3 L629.3,297.2 L627.0,297.7 L625.0,298.8 L623.1,299.6 L621.1,300.0 L619.3,300.8 L617.4,301.6 L615.6,302.6 L613.3,301.6 L611.2,300.0 L609.0,298.8 L606.8,298.2 L604.5,297.9 L602.4,297.1 L600.2,296.4 L598.0,295.8 L597.0,293.4 L596.7,290.8 L598.0,288.8 L599.9,287.4 L601.4,285.7 L603.0,284.0 L600.8,284.9 L598.9,286.2 L596.9,287.4 L594.9,288.6 L593.0,290.0 L592.6,292.6 L591.7,295.0 L589.7,295.6 L588.0,296.8 L586.0,297.5 L584.0,298.0 L581.6,299.0 L579.2,300.1 L576.7,300.8 L574.7,302.5 L572.2,303.6 L570.0,305.0 L568.1,303.9 L566.0,303.5 L563.0,303.0 L561.2,301.2 L560.0,299.0 L557.7,299.9 L555.2,300.0 L553.0,301.0 L550.9,301.5 L548.8,302.0 L546.7,302.5 L548.2,301.0 L550.0,299.8 L551.4,298.1 L553.0,296.7 L554.4,295.2 L555.8,293.8 L557.4,292.6 L558.4,290.7 L560.1,289.5 L561.7,288.2 L563.0,286.7 L564.5,285.0 L566.3,283.9 L568.1,282.5 L569.9,281.3 L571.6,279.9 L573.3,278.5 L574.9,277.0Z" fill="#fff"/><path d="M648.0,309.5 L645.6,309.2 L643.3,308.4 L641.0,307.9 L639.0,308.7 L636.7,308.7 L634.8,309.7 L632.6,310.0 L630.7,310.7 L628.7,311.2 L626.9,312.3 L625.0,313.0 L622.8,313.3 L620.9,314.3 L618.7,314.9 L616.6,315.9 L615.6,318.0 L614.7,320.1 L613.8,322.2 L612.9,324.4 L611.9,326.3 L610.4,328.0 L609.7,330.1 L608.6,331.9 L607.0,333.8 L605.9,336.0 L604.9,338.2 L605.4,342.0 L607.6,340.4 L608.5,338.1 L609.8,336.1 L611.2,334.0 L612.4,331.9 L613.7,330.1 L614.3,328.0 L615.6,326.3 L616.6,324.4 L617.9,322.2 L619.7,320.3 L620.9,318.0 L622.7,316.1 L624.0,313.8 L625.0,314.8 L623.8,316.6 L623.2,318.7 L621.7,320.3 L620.9,322.3 L619.9,324.2 L618.5,325.9 L617.7,327.9 L616.6,329.7 L615.5,331.4 L614.6,333.3 L614.0,335.2 L613.4,337.2 L612.4,339.6 L611.8,342.1 L611.3,344.6 L611.0,347.0 L611.0,349.4 L610.1,351.8 L610.2,354.2 L610.1,356.3 L610.4,358.5 L610.0,360.6 L609.9,362.8 L609.7,364.9 L610.3,367.0 L610.0,369.2 L611.0,371.2 L610.7,373.4 L611.3,375.5 L611.7,377.6 L612.4,379.7 L612.6,381.9 L612.9,384.0 L613.8,386.5 L615.0,388.9 L615.6,391.5 L616.8,393.6 L618.3,395.4 L619.8,397.3 L621.8,398.0 L624.0,397.9 L626.0,396.7 L627.7,395.2 L629.4,393.6 L630.6,391.9 L631.3,390.0 L631.9,388.1 L632.6,386.2 L633.2,383.8 L633.7,381.4 L634.4,379.1 L634.7,376.6 L634.9,374.0 L634.6,371.5 L634.2,369.0 L633.7,366.8 L632.4,364.9 L632.0,362.7 L631.1,360.3 L630.0,357.9 L629.4,355.3 L629.1,353.2 L628.7,351.0 L628.3,348.9 L628.7,346.8 L629.4,344.7 L629.3,342.5 L629.9,340.4 L630.6,338.3 L631.0,336.2 L631.3,334.0 L632.0,331.9 L633.9,330.8 L635.0,328.8 L636.9,327.6 L637.4,329.7 L637.9,331.9 L640.6,331.9 L640.8,329.8 L641.0,327.6 L641.1,325.5 L642.5,322.9 L643.2,320.0 L644.0,318.0 L644.8,315.9 L646.6,314.5 L648.0,312.7Z" fill="#fff"/><path d="M648.6,311.6 L650.3,312.8 L652.4,312.9 L654.1,314.2 L656.0,314.8 L658.1,315.3 L660.2,316.2 L662.4,316.4 L664.5,317.0 L666.1,319.0 L668.3,320.3 L669.9,322.3 L670.2,324.9 L671.4,327.2 L672.0,329.7 L671.9,332.2 L671.5,334.7 L671.0,337.2 L669.8,339.0 L669.2,341.1 L667.9,342.8 L666.7,344.6 L665.9,346.9 L664.5,348.9 L666.7,352.0 L668.8,351.2 L671.0,351.0 L672.2,348.7 L673.6,346.6 L675.2,344.6 L677.3,343.4 L679.5,342.5 L680.7,344.1 L682.3,345.3 L683.7,346.8 L684.1,349.0 L684.7,351.1 L685.4,353.3 L686.4,355.3 L686.6,357.5 L687.4,359.6 L687.8,361.7 L688.5,363.8 L689.0,365.0 L690.0,361.7 L692.2,360.1 L694.0,358.0 L695.2,355.9 L696.1,353.7 L697.5,351.7 L697.1,349.2 L696.7,346.7 L696.2,344.5 L695.3,342.3 L695.0,340.0 L695.3,337.9 L695.9,335.9 L696.7,334.0 L697.9,331.9 L699.1,329.8 L700.0,327.5 L699.1,325.2 L698.0,323.0 L696.6,321.2 L695.0,319.6 L693.6,317.8 L692.5,315.8 L694.6,315.9 L696.7,315.8 L698.0,317.5 L699.5,319.1 L700.8,320.8 L702.6,322.2 L704.0,324.0 L706.3,324.3 L708.6,325.0 L710.8,325.8 L713.1,325.8 L715.3,326.5 L717.5,326.7 L718.5,324.4 L719.7,322.3 L720.8,320.0 L719.0,317.5 L717.3,315.7 L715.8,313.7 L714.3,311.7 L712.5,310.0 L711.1,308.5 L709.2,307.5 L708.1,305.6 L706.5,304.3 L705.0,303.0 L703.2,301.8 L701.7,300.4 L699.4,299.8 L697.0,299.6 L694.7,299.8 L692.4,299.1 L690.0,299.0 L687.9,298.7 L685.8,298.8 L683.6,298.7 L681.5,299.0 L679.4,298.9 L677.2,299.3 L675.1,298.9 L673.0,299.0 L670.9,299.6 L668.6,299.5 L666.5,299.7 L664.3,300.4 L662.2,301.0 L660.0,301.0 L658.0,300.0 L658.4,302.0 L658.0,304.0 L660.2,304.3 L662.4,304.4 L664.5,305.0 L662.3,305.1 L660.2,305.6 L658.0,306.0 L655.9,306.2 L653.9,306.5 L651.9,307.4 L650.1,308.7 L648.0,309.5Z" fill="#fff"/><path d="M686.0,370.0 L688.0,370.1 L690.0,370.0 L689.7,372.5 L690.0,375.0 L686.5,376.0 L686.3,374.0 L686.3,372.0Z" fill="#fff"/><path d="M679.0,389.0 L680.2,387.1 L680.5,384.9 L681.7,383.0 L682.8,381.2 L683.9,379.3 L685.0,377.5 L687.0,379.2 L689.5,380.2 L691.7,381.7 L693.1,380.2 L694.5,378.8 L695.8,377.3 L697.5,376.1 L698.8,374.7 L700.0,373.0 L701.8,371.6 L703.1,369.6 L705.3,368.6 L706.7,366.7 L709.0,366.6 L711.2,366.4 L713.5,366.2 L715.7,366.0 L718.0,365.8 L720.6,365.7 L723.0,365.0 L720.0,362.5 L722.1,361.2 L724.3,359.9 L726.7,359.0 L728.9,358.8 L730.8,357.7 L732.9,357.1 L735.0,356.7 L737.0,356.2 L739.0,355.8 L737.7,357.7 L737.1,359.9 L736.4,362.1 L735.0,364.0 L733.5,365.8 L731.8,367.6 L730.3,369.4 L728.1,370.6 L726.7,372.5 L724.8,373.7 L723.4,375.3 L721.6,376.6 L719.5,377.4 L718.0,379.0 L715.9,380.1 L714.0,381.5 L712.0,382.7 L710.0,384.0 L707.7,384.9 L706.0,386.7 L703.7,387.7 L701.7,389.0 L699.7,390.4 L697.4,391.0 L695.3,392.2 L693.0,393.0 L691.0,393.0 L689.0,392.8 L687.0,392.7 L685.0,392.5 L683.2,391.1 L680.9,390.3Z" fill="#fff"/><path d="M725.8,348.0 L726.2,345.8 L727.6,343.9 L728.0,341.7 L729.8,340.2 L732.0,339.4 L734.0,338.2 L735.8,336.7 L737.9,335.9 L739.8,334.6 L741.8,333.6 L744.0,332.9 L746.1,332.1 L748.0,330.8 L749.9,330.1 L751.7,329.2 L753.4,328.2 L755.3,327.4 L757.2,326.8 L758.9,325.8 L760.8,325.0 L762.7,324.2 L764.5,323.4 L766.4,322.6 L768.0,321.3 L770.0,320.8 L771.3,318.6 L773.0,316.7 L772.1,318.7 L771.5,320.9 L770.8,323.0 L773.0,325.8 L773.1,328.1 L774.0,330.2 L774.0,332.5 L772.8,334.3 L771.3,335.8 L770.0,337.5 L768.2,339.5 L766.7,341.7 L764.7,342.2 L762.7,342.0 L760.7,342.6 L758.7,342.9 L756.7,343.0 L754.5,343.0 L752.4,343.8 L750.1,343.4 L748.0,344.0 L746.0,344.8 L744.0,345.5 L742.1,346.3 L740.0,346.7 L738.0,347.4 L735.9,347.8 L734.1,348.9 L732.0,349.3 L730.0,350.0 L727.9,349.0Z" fill="#fff"/><path d="M243.0,387.5 L244.4,389.2 L246.3,390.3 L248.0,391.7 L250.5,392.8 L253.0,394.0 L254.1,395.9 L255.1,398.0 L256.0,400.0 L257.5,401.7 L256.1,403.3 L254.8,405.0 L253.2,406.5 L251.7,408.0 L249.0,406.8 L246.7,405.0 L245.8,402.9 L245.0,400.7 L243.3,398.9 L242.5,396.7 L242.8,394.4 L242.5,392.1 L243.2,389.8Z" fill="#fff"/><path d="M658.0,304.0 L656.1,302.3 L653.9,301.0 L651.9,299.6 L649.6,298.8 L647.4,298.5 L645.4,297.8 L643.6,295.7 L642.0,293.5 L639.9,294.0 L637.9,294.8 L635.8,295.0 L633.7,296.1 L631.4,296.3 L629.4,297.4 L627.1,297.9 L625.0,298.8 L623.0,299.2 L621.3,300.4 L619.3,300.9 L617.6,302.2 L615.6,302.6 L613.5,301.1 L611.1,300.3 L609.0,298.8 L606.9,297.9 L604.6,297.6 L602.5,296.7 L600.2,296.3 L598.0,295.8 L597.3,293.3 L596.7,290.8 L598.1,288.9 L599.6,287.2 L601.6,285.9 L603.0,284.0 L601.0,285.2 L599.1,286.6 L597.1,287.8 L594.9,288.7 L593.0,290.0 L592.4,292.5 L591.7,295.0 L589.8,295.7 L587.8,296.5 L585.8,297.0 L584.0,298.0 L581.7,299.3 L579.0,299.6 L576.7,300.8 L574.4,302.1 L572.0,303.3 L570.0,305.0 L567.9,304.5 L566.0,303.5 L563.0,303.0 L561.2,301.2 L560.0,299.0 L557.7,299.8 L555.4,300.6 L553.0,301.0 L550.9,301.5 L548.8,302.2 L546.7,302.5 L548.0,300.8 L549.7,299.5 L551.7,298.4 L553.0,296.7 L554.7,295.5 L556.0,293.9 L557.2,292.3 L558.5,290.8 L560.3,289.7 L561.4,287.9 L563.0,286.7 L564.6,285.2 L566.5,284.0 L568.0,282.4 L569.8,281.2 L571.3,279.6 L573.2,278.4 L575.1,277.3 L576.7,275.8 M648.0,309.5 L645.7,308.8 L643.4,308.2 L641.0,307.9 L638.8,308.1 L636.8,308.8 L634.8,309.7 L632.6,310.0 L630.6,310.4 L628.7,311.2 L626.9,312.2 L625.0,313.0 L623.0,313.7 L620.9,314.3 L618.7,315.0 L616.6,315.9 L615.7,318.0 L614.5,320.1 L613.7,322.2 L612.9,324.4 L611.7,326.2 L610.7,328.1 L609.6,330.0 L608.6,331.9 L607.6,334.1 L606.3,336.2 L604.9,338.2 L605.4,342.0 L607.6,340.4 L608.6,338.1 L610.3,336.3 L611.0,333.9 L612.4,331.9 L613.4,330.0 L614.4,328.1 L615.5,326.3 L616.6,324.4 L617.9,322.2 L619.6,320.2 L620.9,318.0 L622.2,315.7 L624.0,313.8 L625.0,314.8 L623.8,316.6 L622.6,318.4 L621.8,320.4 L620.9,322.3 L620.0,324.3 L619.0,326.2 L617.5,327.7 L616.6,329.7 L615.8,331.6 L615.0,333.4 L614.3,335.4 L613.4,337.2 L612.6,339.6 L611.8,342.1 L611.3,344.6 L611.0,347.0 L611.0,349.4 L610.3,351.8 L610.2,354.2 L609.7,356.3 L609.6,358.5 L610.1,360.6 L610.1,362.8 L609.7,364.9 L609.6,367.1 L610.1,369.2 L610.6,371.3 L610.9,373.4 L611.3,375.5 L611.9,377.6 L612.0,379.8 L612.5,381.9 L612.9,384.0 L613.6,386.6 L614.9,388.9 L615.6,391.5 L616.8,393.6 L618.4,395.4 L619.8,397.3 L621.9,397.8 L624.0,397.9 L625.6,396.2 L627.7,395.2 L629.4,393.6 L630.3,391.8 L630.7,389.8 L631.8,388.0 L632.6,386.2 L633.2,383.8 L633.5,381.4 L633.9,378.9 L634.7,376.6 L634.6,374.1 L634.5,371.5 L634.2,369.0 L633.5,366.9 L632.8,364.8 L632.0,362.7 L630.8,360.3 L630.6,357.6 L629.4,355.3 L629.0,353.2 L628.8,351.0 L628.3,348.9 L628.6,346.8 L629.1,344.6 L629.1,342.5 L629.9,340.4 L630.3,338.2 L631.1,336.2 L631.5,334.0 L632.0,331.9 L633.4,330.2 L635.4,329.2 L636.9,327.6 L637.4,329.8 L637.9,331.9 L640.6,331.9 L640.9,329.8 L640.9,327.6 L641.1,325.5 L641.8,322.6 L643.2,320.0 L644.3,318.1 L644.8,315.9 L646.7,314.6 L648.0,312.7 L648.0,309.5 M648.6,311.6 L650.3,312.8 L652.3,313.1 L654.3,313.7 L656.0,314.8 L658.0,315.7 L660.2,316.1 L662.4,316.5 L664.5,317.0 L666.1,319.0 L668.0,320.6 L669.9,322.3 L671.0,324.7 L671.1,327.3 L672.0,329.7 L671.6,332.2 L671.0,334.7 L671.0,337.2 L670.1,339.2 L668.5,340.7 L667.6,342.7 L666.7,344.6 L665.7,346.8 L664.5,348.9 L666.7,352.0 L668.9,351.5 L671.0,351.0 L672.1,348.7 L673.7,346.6 L675.2,344.6 L677.4,343.7 L679.5,342.5 L681.0,343.8 L682.4,345.3 L683.7,346.8 L684.0,349.0 L684.7,351.2 L685.6,353.2 L686.4,355.3 L687.0,357.4 L687.2,359.6 L687.6,361.8 L688.5,363.8 L689.0,365.0 L689.8,367.4 L690.0,370.0 L689.6,372.1 L689.0,374.1 L688.0,376.0 L685.0,377.5 L684.1,379.5 L682.8,381.2 L681.7,383.0 L680.9,385.0 L680.1,387.1 L679.0,389.0 M660.0,301.0 L658.0,300.0 L657.6,302.0 L658.0,304.0 L660.2,304.0 L662.4,304.5 L664.5,305.0 L662.3,305.1 L660.1,305.4 L658.0,306.0 L655.9,306.2 L653.9,306.5 L651.9,307.4 L649.8,308.3 L648.0,309.5 M735.0,364.0 L733.5,365.9 L731.4,367.2 L730.1,369.2 L728.2,370.6 L726.7,372.5 L725.0,373.8 L723.5,375.4 L721.5,376.4 L719.6,377.5 L718.0,379.0 L716.0,380.3 L713.9,381.4 L712.0,382.7 L710.0,384.0 L708.1,385.6 L705.7,386.3 L703.8,387.8 L701.7,389.0 L699.4,389.8 L697.5,391.3 L695.2,392.1 L693.0,393.0 L691.0,392.8 L689.0,392.6 L687.0,392.7 L685.0,392.5 L683.0,391.3 L680.9,390.3 L679.0,389.0 M773.0,316.7 L772.2,318.8 L771.5,320.9 L770.8,323.0 L773.0,325.8 L773.0,328.1 L773.3,330.3 L774.0,332.5 L772.5,334.0 L771.4,335.9 L770.0,337.5 L768.3,339.6 L766.7,341.7 L764.7,341.7 L762.7,342.2 L760.7,342.7 L758.7,343.0 L756.7,343.0 L754.5,342.9 L752.4,343.8 L750.2,344.1 L748.0,344.0 L746.0,344.7 L744.1,345.6 L742.1,346.2 L740.0,346.7 L738.0,347.3 L735.9,347.8 L734.0,348.7 L731.9,349.0 L730.0,350.0 L727.9,348.9 L725.8,348.0 M243.0,387.5 L244.7,388.9 L246.1,390.5 L248.0,391.7 L250.6,392.7 L253.0,394.0 L254.2,395.9 L255.4,397.7 L256.6,399.6 L257.5,401.7 L255.8,403.0 L254.8,405.0 L253.1,406.4 L251.7,408.0 L249.1,406.6 L246.7,405.0 L246.0,402.8 L244.3,401.0 L243.3,398.9 L242.5,396.7 L242.6,394.4 L242.4,392.1 L242.8,389.8 L243.0,387.5" fill="none" stroke="#474c52" stroke-width="1.0" stroke-linejoin="round" stroke-linecap="round"/><path d="M686.0,370.0 L688.0,369.8 L690.0,370.0 L690.1,372.5 L690.0,375.0 L686.5,376.0 L686.1,374.0 L686.2,372.0Z" fill="none" stroke="#474c52" stroke-width=".7"/><path d="M110.0,266.7 L112.5,266.5 L115.0,266.8 L117.5,266.7 L119.1,268.1 L120.0,270.1 L121.7,271.4 L123.0,273.0 L123.4,275.2 L123.1,277.4 L123.4,279.6 L124.0,281.7 L126.2,282.7 L128.5,283.0 L130.8,283.1 L133.0,284.0 L135.0,284.3 L137.1,284.6 L138.9,285.7 L141.1,285.3 L142.9,286.6 L145.0,286.7 L147.2,286.4 L149.3,286.7 L151.4,287.2 L153.6,287.3 L155.7,287.3 L157.9,287.4 L160.0,287.5 L162.1,287.5 L164.2,287.4 L166.2,286.8 L168.3,286.9 L170.4,286.5 L172.5,287.0 L174.6,286.6 L176.7,286.7 L178.7,286.7 L180.7,287.1 L182.6,288.1 L184.8,287.6 L186.7,288.3 L188.7,289.2 L190.9,289.7 L193.2,289.4 L195.2,290.6 L197.5,290.4 L199.5,291.4 L201.7,291.7 L205.5,292.0 M214.0,235.3 L205.5,288.0 L205.5,292.0 M205.5,292.0 L205.5,294.1 L206.8,295.8 L206.5,297.9 L207.8,299.7 L208.0,301.7 L207.0,303.6 L205.5,305.3 L205.0,307.4 L203.8,309.2 L203.1,311.3 L201.7,313.0 L199.9,314.3 L198.4,316.0 L197.6,318.2 L196.2,319.9 L194.5,321.4 L193.0,323.0 L193.9,325.2 L194.6,327.5 L195.9,329.5 L196.7,331.7 L196.1,333.7 L196.1,335.8 L195.6,337.8 L195.2,339.9 L194.2,341.8 L193.7,343.8 L193.2,345.8 L192.4,347.7 L192.5,349.9 L192.0,351.9 L191.4,353.9 L190.4,355.8 L190.6,358.0 L190.1,360.0 L189.5,362.0 L188.7,363.9 L188.7,366.0 L188.3,368.1 L187.5,370.0 M84.2,346.7 L143.3,362.5 L187.5,370.5 L229.0,379.0 L272.5,385.8 M227.0,238.0 L226.7,240.1 L226.2,242.1 L226.1,244.3 L225.2,246.2 L225.9,248.5 L224.5,250.4 L224.4,252.5 L224.0,254.6 L224.0,256.7 L224.2,259.0 L225.4,261.1 L225.3,263.6 L226.0,265.8 L226.7,268.0 L228.3,269.8 L228.9,272.2 L230.5,274.0 L231.5,276.1 L233.0,278.0 L234.9,279.4 L236.1,281.6 L238.2,282.9 L239.8,284.6 L241.0,286.7 L240.7,289.1 L240.0,291.3 L238.8,293.3 L238.4,295.7 L237.7,297.9 L236.7,300.0 L235.8,302.1 L235.3,304.4 L235.0,306.7 L237.0,306.9 L239.1,307.0 L241.0,307.9 L243.0,308.0 L243.7,310.2 L244.6,312.2 L245.3,314.4 L246.0,316.5 L246.6,318.7 L247.6,320.7 L248.0,323.0 L249.7,324.7 L250.4,327.0 L251.9,328.8 L253.2,330.7 L254.0,333.0 L256.0,332.7 L258.0,333.0 L260.0,333.1 L262.0,332.2 L264.0,333.0 L266.0,332.4 L268.0,332.5 L270.2,332.7 L272.4,332.5 L274.5,331.7 L276.7,331.7 L278.0,335.0 L280.5,336.0 M281.7,327.5 L272.5,385.8 L270.8,405.0 L300.0,410.8 M281.7,327.5 L330.0,333.0 L380.5,336.7 M384.0,259.0 L381.7,318.0 L380.5,336.7 L377.8,376.0 L375.0,415.8 M381.7,318.0 L430.0,320.0 L484.0,321.5 M377.8,376.0 L420.0,379.0 L458.0,380.0 L465.0,383.0 M300.0,410.8 L375.0,415.8 L404.0,418.0 L404.0,438.3 L400.8,497.5 M404.0,438.3 L450.0,439.5 L503.0,439.0 L506.7,440.0 M300.0,410.8 L290.8,488.0 M143.3,362.5 L130.0,419.0 L196.7,512.0 M229.0,379.0 L213.0,476.7 M213.0,476.7 L212.5,478.7 L212.0,480.8 L211.8,482.9 L210.5,484.8 L210.0,486.8 L209.5,488.9 L209.1,490.9 L208.4,492.9 L208.0,495.0 L205.0,493.0 L202.9,493.3 L200.9,494.1 L199.0,495.0 L198.9,497.1 L198.0,499.1 L198.3,501.3 L198.3,503.4 L197.8,505.5 L197.3,507.5 L196.6,509.6 L196.7,511.7 M196.7,511.7 L197.2,513.8 L196.9,515.9 L198.0,517.9 L198.0,520.0 L198.9,521.9 L199.6,524.0 L200.5,525.9 L201.2,527.9 L201.7,530.0 L200.0,531.4 L198.8,533.3 L197.7,535.3 L195.6,536.4 L194.7,538.5 L193.0,540.0 L191.7,541.9 L191.4,544.2 L189.8,545.9 L189.0,548.0 L189.1,550.2 L189.3,552.4 L189.1,554.6 L189.5,556.8 L190.0,559.0 M213.0,476.7 L290.8,488.0 L340.0,493.5 L385.0,497.3 L400.8,498.0 L460.0,499.0 L517.5,499.0 M290.8,488.0 L277.5,600.8 M319.0,593.0 L378.0,594.0 M385.0,497.5 L381.7,560.0 L378.0,594.0 M385.0,506.7 L431.7,509.0 L433.0,550.0 M433.0,550.0 L436.7,551.0 L439.1,552.2 L441.0,554.0 L443.9,554.5 L446.7,555.0 L448.8,556.5 L451.0,558.0 L453.0,558.5 L455.0,558.0 L457.3,559.8 L460.0,561.0 L462.5,561.2 L465.0,560.8 L466.9,561.9 L469.2,562.3 L471.0,563.5 L473.9,563.7 L476.7,563.0 L479.1,563.3 L481.6,563.8 L484.0,564.0 L486.5,563.2 L489.1,563.1 L491.7,563.0 L493.9,562.9 L495.8,561.6 L497.8,561.1 L500.0,561.0 L502.0,560.6 L504.0,560.3 L506.0,560.2 L508.0,560.0 L510.0,561.0 L512.2,561.7 L514.0,563.0 L516.2,563.1 L518.0,564.2 L520.0,565.0 L522.3,565.4 L524.5,566.3 L526.7,566.9 L529.0,567.5 M519.0,509.0 L521.7,533.0 L522.0,565.0 M529.0,567.5 L530.0,578.0 M530.0,578.0 L576.7,575.8 M530.0,578.0 L529.8,580.0 L530.7,582.0 L529.9,584.0 L530.5,586.0 L530.9,588.0 L531.0,590.0 L530.6,592.0 L530.5,594.0 L530.4,596.0 L530.8,598.0 L531.6,599.9 L533.3,601.3 L533.6,603.5 L535.0,605.0 L536.2,606.8 L536.3,609.1 L537.4,611.0 L538.1,613.0 L539.0,615.0 L538.5,617.1 L538.8,619.4 L538.7,621.6 L537.6,623.6 L538.1,625.9 L537.5,628.0 L537.3,630.0 L537.1,632.1 L536.4,634.0 L536.1,636.0 L535.4,638.0 L535.0,640.0 L533.0,643.0 M546.7,302.5 L545.7,304.8 L544.0,306.7 L544.3,308.7 L543.6,310.7 L544.0,312.7 L544.2,314.7 L544.0,316.7 L542.3,318.4 L540.3,319.8 L538.6,321.6 L536.7,323.0 L536.7,325.0 L537.6,326.9 L537.6,329.0 L538.0,331.0 L538.0,333.0 L538.1,335.1 L538.4,337.1 L539.2,339.0 L539.2,341.1 L540.0,343.0 L541.9,344.0 L543.1,345.9 L545.0,347.0 L546.6,348.3 L548.0,350.0 L549.7,351.6 L551.8,352.9 L553.6,354.4 L555.1,356.2 L556.7,358.0 L557.4,360.2 L558.2,362.4 L558.9,364.6 L560.0,366.7 L561.2,368.7 L561.8,371.0 L563.0,373.0 L562.8,375.4 L563.2,377.7 L564.0,380.0 L566.0,379.7 L568.0,380.0 L569.8,381.5 L571.6,383.1 L573.0,385.0 L574.2,387.1 L575.5,389.0 L576.7,391.0 L578.0,393.0 L578.0,395.0 L577.0,396.9 L577.7,399.1 L576.4,400.9 L576.7,403.0 L574.8,403.7 L573.1,404.8 L571.4,405.9 L569.5,406.6 L568.0,408.0 L568.0,410.0 L567.5,412.0 L567.5,414.0 L568.5,416.0 L568.0,418.0 L566.3,420.0 L565.0,422.3 L563.0,424.0 L562.6,426.6 L563.1,429.2 L562.5,431.7 L562.7,433.9 L564.1,435.8 L564.4,437.9 L565.0,440.0 L566.7,441.3 L567.6,443.2 L568.8,445.0 L570.0,446.7 L571.7,448.0 L573.3,449.5 L574.4,451.3 L575.6,453.1 L577.0,454.8 L578.0,456.7 L580.6,457.1 L583.0,458.0 L583.1,460.0 L582.7,462.0 L583.1,464.0 L582.1,466.0 L583.1,468.0 L582.5,470.0 L584.2,471.2 L585.4,472.8 L587.2,473.8 L588.5,475.4 L590.0,476.7 L591.7,477.9 L593.5,479.0 L595.1,480.4 L596.7,481.7 L597.3,483.7 L597.2,485.9 L597.9,487.9 L598.0,490.0 L600.8,491.1 L603.0,493.0 L602.3,495.3 L602.4,497.7 L601.7,500.0 L600.6,501.8 L599.6,503.7 L597.9,505.0 L596.7,506.7 L596.8,508.9 L595.8,510.8 L595.0,512.8 L595.0,515.0 L594.6,517.2 L593.6,519.1 L592.2,520.9 L591.7,523.0 L591.2,525.1 L589.8,526.8 L589.4,529.0 L588.9,531.0 L588.0,533.0 L587.4,535.2 L586.8,537.5 L585.4,539.4 L585.0,541.7 L584.2,543.8 L583.3,545.9 L582.3,547.8 L581.1,549.7 L580.0,551.7 L579.6,553.8 L578.8,555.8 L577.7,557.6 L577.4,559.7 L576.7,561.7 L576.4,563.7 L576.9,565.7 L576.3,567.7 L576.5,569.8 L576.6,571.8 L576.7,573.8 L576.7,575.8 L577.1,578.1 L578.4,580.1 L578.9,582.3 L579.3,584.5 L580.0,586.7 L580.1,588.8 L579.1,590.7 L578.9,592.7 L578.8,594.8 L578.0,596.7 L577.0,598.9 L575.9,601.1 L574.6,603.2 L573.0,605.0 L572.5,607.0 L572.7,609.0 L572.8,611.1 L572.4,613.1 L571.7,615.0 M571.7,615.8 L573.8,615.5 L575.8,615.1 L578.0,615.7 L580.0,615.2 L582.1,614.9 L584.2,614.9 L586.2,614.9 L588.3,614.5 L590.3,613.7 L592.5,614.5 L594.5,613.3 L596.5,613.2 L598.6,613.0 L600.7,613.1 L602.8,613.0 L602.6,615.1 L603.2,617.3 L602.8,619.4 L604.1,621.1 L604.8,623.2 L605.4,625.3 L606.7,627.0 L608.0,630.5 M623.0,532.5 L624.0,540.0 L624.8,600.0 L627.4,624.0 M663.0,528.0 L668.0,540.0 L675.0,561.7 L681.7,580.0 L683.0,595.0 L685.0,606.7 M644.9,620.0 L644.2,616.8 L641.7,615.0 L639.7,610.4 L660.0,607.3 L685.0,606.0 M685.0,608.0 L733.0,605.8 L735.0,604.0 L735.0,610.0 L743.0,606.7 M700.8,526.7 L701.9,528.6 L703.8,529.8 L705.2,531.5 L706.7,533.0 L708.2,534.3 L709.8,535.6 L711.0,537.2 L712.5,538.6 L713.9,540.0 L715.0,541.7 L716.8,542.7 L718.5,543.8 L719.8,545.5 L721.7,546.4 L723.0,548.0 L724.7,549.8 L726.6,551.4 L727.9,553.6 L730.0,555.0 L731.3,556.5 L732.6,558.1 L734.2,559.4 L735.5,560.9 L736.8,562.5 L738.2,564.0 L740.0,565.0 L741.3,566.8 L742.2,568.9 L743.2,570.9 L744.0,573.0 L746.2,574.8 L748.0,577.0 M701.7,522.5 L711.7,516.7 L733.0,513.0 L740.0,517.5 L756.7,516.7 L778.0,529.0 M588.0,534.0 L623.0,532.5 L640.0,529.5 L663.0,528.0 L685.0,523.0 L701.7,521.7 M721.7,488.0 L720.6,490.4 L718.8,492.5 L718.0,495.0 L716.2,496.2 L714.4,497.5 L712.2,498.0 L710.3,499.2 L708.5,500.4 L706.7,501.7 L705.6,503.5 L703.9,504.6 L702.6,506.1 L701.2,507.6 L699.7,509.0 L698.3,510.4 L696.7,511.7 L694.5,512.5 L692.5,513.9 L690.1,514.1 L688.0,515.0 L686.2,517.0 L685.3,519.5 L684.0,521.7 M603.0,503.0 L620.0,500.8 L621.7,496.7 L640.0,495.5 L690.0,490.8 L723.0,485.8 L756.7,480.0 L808.0,469.0 M519.0,508.0 L585.0,504.7 L588.0,508.0 L586.7,514.0 L595.0,514.0 M516.7,460.0 L518.0,508.0 L519.0,509.0 M465.0,383.0 L467.2,381.8 L469.6,381.3 L472.0,380.5 L474.0,381.1 L476.0,381.3 L478.0,381.7 L480.0,381.7 L481.7,383.2 L483.1,385.1 L485.0,386.5 L486.7,388.0 L487.8,389.8 L488.2,391.9 L489.3,393.7 L489.1,396.0 L489.8,398.0 L491.2,399.7 L491.7,401.7 L492.6,403.9 L492.7,406.3 L494.0,408.4 L494.7,410.6 L495.0,413.0 L495.8,414.9 L496.2,417.0 L496.4,419.0 L496.5,421.1 L497.8,422.9 L498.0,425.0 L498.5,427.7 L500.0,430.0 L501.1,431.7 L501.9,433.6 L503.1,435.2 L504.8,436.5 L505.4,438.4 L506.7,440.0 L509.4,441.1 L511.7,443.0 L510.9,445.0 L509.3,446.4 L508.0,448.0 L509.5,450.0 L511.4,451.6 L513.5,453.0 L515.0,455.0 L515.1,457.1 L515.4,459.1 L516.6,460.9 L516.7,463.0 M500.0,427.5 L557.5,425.0 L563.0,424.0 M486.7,369.0 L525.0,368.0 L559.0,366.0 M486.7,368.0 L486.6,370.4 L487.6,372.7 L488.0,375.0 L486.8,376.9 L485.8,378.9 L485.0,381.0 L485.9,383.3 L486.6,385.6 L486.7,388.0 M484.0,321.5 L482.5,323.4 L481.5,325.7 L480.8,328.0 L482.3,329.8 L484.3,331.1 L485.8,333.0 L486.0,335.1 L485.7,337.1 L485.6,339.2 L486.5,341.2 L486.4,343.3 L485.7,345.4 L486.6,347.4 L486.1,349.5 L486.5,351.5 L486.2,353.6 L486.0,355.7 L486.3,357.7 L486.6,359.8 L486.7,361.8 L486.5,363.9 L486.5,365.9 L486.7,368.0 M475.0,260.4 L474.9,262.6 L475.9,264.5 L475.8,266.7 L475.9,268.8 L477.0,270.8 L476.9,273.0 L477.5,275.0 L478.0,277.0 L478.6,278.9 L478.8,281.0 L478.7,283.0 L479.7,284.9 L479.5,287.0 L480.2,289.0 L480.8,290.9 L480.8,293.0 L481.1,295.0 L481.4,297.0 L481.5,299.0 L481.3,301.0 L481.4,303.1 L482.4,305.0 L481.8,307.1 L482.4,309.0 L482.3,311.1 L483.0,313.0 L482.9,315.2 L483.5,317.3 L484.0,319.3 L484.0,321.5 M573.0,385.0 L612.5,382.5 M618.0,397.0 L623.0,450.0 L623.0,458.0 L620.0,466.7 L618.0,473.0 L618.0,480.0 M723.0,406.7 L723.1,409.0 L722.1,411.2 L721.8,413.4 L722.1,415.8 L721.7,418.0 L720.8,419.8 L719.8,421.6 L718.8,423.4 L717.6,425.0 L716.5,426.7 L714.8,428.1 L714.4,430.2 L713.0,431.7 L712.0,433.9 L710.1,435.4 L708.8,437.5 L708.3,439.9 L706.7,441.7 L705.7,443.5 L704.0,444.7 L703.5,446.8 L702.1,448.3 L700.9,449.9 L700.0,451.7 L698.3,450.5 L696.2,450.0 L694.9,448.3 L693.0,447.5 L690.7,447.7 L688.5,448.6 L686.3,449.2 L683.9,449.3 L681.7,450.0 L679.7,448.7 L677.5,447.9 L675.1,447.8 L673.0,446.7 L671.3,445.5 L669.4,444.9 L667.8,443.4 L665.8,443.0 L665.1,445.1 L665.4,447.4 L664.8,449.5 L665.0,451.7 L663.0,452.6 L661.7,454.5 L659.8,455.5 L658.0,456.7 L655.8,457.1 L654.1,458.6 L652.0,459.2 L650.0,460.0 L648.6,461.6 L647.6,463.4 L646.0,464.8 L645.0,466.7 L643.6,468.3 L641.6,469.4 L640.0,470.8 L637.7,470.7 L635.3,471.3 L633.0,470.8 L630.8,471.6 L628.8,472.7 L627.0,474.0 L624.4,473.1 L621.7,473.0 L620.8,475.5 L619.2,477.7 L618.0,480.0 L617.1,481.9 L615.3,483.2 L614.1,484.9 L613.0,486.7 L610.8,487.6 L609.2,489.5 L607.1,490.7 L605.0,491.7 L603.0,493.0 M658.0,392.5 L665.0,444.0 M618.0,397.5 L631.7,393.5 L658.0,392.5 L680.0,389.0 M720.0,378.0 L726.7,420.8 M727.5,421.0 L797.5,407.5 L799.5,406.5 M700.0,451.7 L701.2,453.6 L701.1,456.0 L702.0,458.0 L703.0,460.0 L704.9,461.3 L705.9,463.4 L707.6,464.8 L708.5,466.9 L710.0,468.6 L711.7,470.0 M711.7,470.0 L713.9,470.5 L716.0,471.1 L717.9,472.4 L720.0,473.0 L721.9,472.0 L724.0,471.6 L725.9,470.4 L728.0,470.0 L730.1,469.0 L731.6,467.3 L733.1,465.6 L734.7,464.0 L736.7,463.0 L738.1,461.3 L739.2,459.4 L739.7,457.3 L740.5,455.3 L742.4,453.8 L743.0,451.7 L744.1,449.9 L744.4,447.7 L744.8,445.6 L746.2,443.8 L746.7,441.7 L749.2,442.2 L751.7,441.7 L752.3,439.4 L753.2,437.3 L754.6,435.3 L755.0,433.0 L756.8,432.0 L758.6,430.9 L760.1,429.4 L761.7,428.0 L761.7,425.9 L762.7,423.9 L762.5,421.7 L764.9,422.8 L767.4,423.6 L770.0,424.0 L772.4,423.1 L775.0,422.5 M711.7,470.0 L710.2,471.4 L709.7,473.5 L708.7,475.2 L707.6,476.9 L705.9,478.2 L705.0,480.0 L703.3,481.3 L701.8,482.8 L700.7,484.7 L699.3,486.3 L698.0,488.0 L695.9,488.5 L694.0,489.4 L692.0,490.1 L690.0,490.8 M744.0,418.5 L744.1,420.9 L744.8,423.3 L745.1,425.7 L745.8,428.0 L747.2,425.9 L749.4,424.8 L751.0,423.0 L753.2,421.2 L755.0,419.0 L757.5,420.0 L760.0,421.0 L761.0,419.3 L761.8,417.4 L763.0,415.8 L764.8,416.8 L766.5,418.0 L768.0,419.3 L770.0,420.0 L772.5,421.3 L775.0,422.5 M775.0,422.5 L777.7,423.9 L780.0,425.8 L782.2,426.6 L784.0,428.0 L783.1,430.4 L782.3,432.8 L781.0,435.0 L781.0,437.0 M801.7,404.0 L799.5,406.5 L799.0,409.0 L804.0,430.8 L814.0,429.0 M793.0,361.0 L794.5,362.8 L796.7,363.6 L798.1,365.5 L800.0,366.7 L801.6,368.1 L803.0,369.8 L805.0,370.8 L804.4,372.8 L804.0,374.9 L803.8,377.0 L802.9,379.0 L801.8,380.8 L801.7,383.0 L801.8,385.4 L803.0,387.5 L804.9,388.6 L806.3,390.4 L808.4,391.1 L809.9,392.8 L811.7,394.0 L810.7,395.8 L809.8,397.6 L808.6,399.3 L807.5,401.0 L805.4,401.8 L803.5,402.8 L801.7,404.0 M805.0,370.8 L821.7,377.5 M734.5,369.0 L734.0,374.0 L793.0,361.0 M807.5,296.7 L810.0,308.0 L813.0,323.0 L818.0,331.7 L820.0,339.0 M832.5,290.8 L830.0,303.0 L829.0,316.7 L829.0,336.7 M837.5,282.5 L845.0,306.7 L853.0,326.7 M820.0,339.0 L853.0,331.7 M820.8,352.5 L850.0,346.7 M845.0,347.5 L847.5,359.0 M820.0,339.0 L820.8,352.5 L823.0,368.0 L821.7,375.0 M570.0,305.0 L572.0,306.1 L573.9,307.3 L576.1,307.8 L577.8,309.4 L580.0,310.0 L582.0,311.0 L584.0,311.7 L586.2,312.0 L588.4,312.3 L590.3,313.5 L592.6,313.3 L594.6,314.4 L596.7,315.0 L599.0,315.9 L600.7,317.8 L602.9,318.8 L605.0,320.0 L605.5,322.1 L606.9,323.9 L607.0,326.1 L608.0,328.0 L608.0,331.7 M745.0,613.0 L745.0,615.3 L745.2,617.6 L744.7,619.9 L744.7,622.1 L744.8,624.4 L745.0,626.7 L746.7,628.5 L747.5,630.8" fill="none" stroke="#474c52" stroke-width=".95" stroke-opacity=".92" stroke-linejoin="round" stroke-linecap="round"/><path d="M807.5,296.5 L831.7,290.0 L833.0,283.0 L837.5,282.0 L838.3,279.6 L839.8,277.6 L840.9,275.3 L841.7,273.0 L842.3,270.9 L841.7,268.7 L841.9,266.5 L842.0,264.4 L842.3,262.3 L843.1,260.2 L843.0,258.0 L843.0,255.7 L843.8,253.5 L843.9,251.2 L844.4,248.9 L845.0,246.7 L845.4,244.3 L846.4,242.1 L846.6,239.7 L846.4,237.2 L847.5,235.0 L850.8,233.0 L852.1,234.7 L853.0,236.7 L854.5,235.3 L856.7,235.1 L858.4,234.0 L860.1,233.0 L861.7,231.7 L863.6,232.9 L865.7,233.6 L867.7,234.7 L870.0,235.0 L870.5,237.2 L871.9,239.1 L872.1,241.4 L873.4,243.3 L873.9,245.6 L875.0,247.6 L875.9,249.6 L876.7,251.7 L878.1,253.6 L879.3,255.7 L880.7,257.6 L882.1,259.5 L883.0,261.7 L883.9,263.6 L885.2,265.2 L886.7,266.7 L887.9,268.7 L889.7,270.0 L891.4,271.5 L893.0,273.0 L892.0,275.1 L891.9,277.5 L890.5,279.5 L890.0,281.7 L890.7,279.8 L889.5,281.8 L887.4,283.1 L886.0,285.0 L884.3,286.4 L882.5,287.6 L881.4,289.6 L879.7,290.9 L878.3,292.5 L876.4,293.4 L875.0,295.0 L873.3,296.1 L871.9,297.6 L870.2,298.7 L868.4,299.6 L866.8,301.0 L865.0,302.0 L862.7,303.3 L860.8,305.0 L859.7,307.2 L858.0,309.0 L857.3,311.1 L856.0,312.9 L854.8,315.3 L854.5,318.0 L854.4,320.0 L854.2,322.0 L853.7,324.0 L854.2,326.1 L855.1,328.1 L856.0,330.0 L855.3,332.3 L853.9,334.3 L853.0,336.5 L854.4,338.7 L856.4,340.5 L857.6,342.8 L859.1,344.5 L861.1,345.7 L862.4,347.6 L864.2,346.6 L866.0,345.6 L868.0,344.9 L870.0,344.4 L871.8,341.3 L868.7,340.5 L869.9,342.7 L871.9,344.1 L873.4,346.0 L873.1,348.7 L873.9,351.3 L874.0,353.9 L872.0,354.5 L870.0,355.4 L868.3,354.2 L866.3,353.7 L864.1,353.5 L862.4,352.3 L860.4,353.0 L858.4,353.7 L856.6,355.0 L854.5,355.4 L852.6,354.2 L851.3,352.3 L851.8,354.8 L853.0,357.0 L851.0,357.7 L849.1,358.8 L847.0,359.3 L845.0,360.0 L843.3,361.4 L841.2,361.9 L839.5,363.2 L837.9,364.7 L835.7,365.1 L834.0,366.5 L832.4,368.0 L830.5,368.9 L828.9,370.2 L826.7,370.7 L825.0,372.0 L827.2,371.1 L829.7,371.0 L832.0,370.5 L833.9,369.4 L836.0,369.1 L838.1,368.6 L840.0,367.8 L842.0,367.0 L844.0,366.4 L846.0,365.6 L848.0,365.0 L846.3,366.1 L845.1,367.8 L843.2,368.6 L841.8,370.0 L840.0,371.0 L837.8,371.6 L835.8,372.4 L834.2,374.2 L832.2,375.1 L829.9,375.4 L828.0,376.5 L826.0,377.5 L823.8,378.8 L821.3,379.0 L819.0,380.0 L820.0,381.7 L817.9,383.9 L816.7,386.7 L819.2,386.6 L821.7,386.7 L822.0,388.7 L821.9,390.7 L821.7,392.7 L822.6,394.7 L822.5,396.7 L822.4,399.2 L822.3,401.6 L821.7,404.0 L820.6,406.2 L819.9,408.5 L819.2,410.9 L818.0,413.0 L817.1,415.1 L816.5,417.2 L815.0,419.0 L813.0,416.0 L810.8,414.7 L809.1,412.7 L806.7,411.7 L805.4,410.0 L803.7,408.5 L802.5,406.7 L801.7,409.0 L802.4,411.2 L804.0,412.9 L805.0,415.0 L806.8,416.1 L808.7,417.3 L810.0,419.0 L811.7,420.8 L812.9,422.8 L814.0,425.0 L814.6,427.2 L814.3,429.5 L815.0,431.7 L814.8,433.8 L814.3,435.9 L813.4,437.9 L813.0,440.0 L811.8,442.1 L811.8,444.5 L810.8,446.7 L810.1,448.7 L810.0,450.9 L809.4,452.9 L809.0,455.0 L808.2,457.0 L807.5,459.0 L807.0,461.0 L807.5,463.0 L807.4,465.0 L807.8,467.0 L808.0,469.0 L809.1,470.8 L810.9,472.0 L812.3,473.5 L813.2,475.5 L815.0,476.7 L815.9,478.6 L816.6,480.6 L818.0,482.2 L818.3,484.4 L819.6,486.1 L820.9,487.8 L821.1,490.0 L822.5,491.7 L820.9,493.4 L819.5,495.2 L817.9,496.9 L816.5,498.7 L814.8,500.3 L813.0,501.7 L811.8,503.7 L811.4,506.1 L810.0,508.0 L808.1,508.9 L806.0,509.3 L804.0,509.8 L802.0,510.6 L799.9,510.8 L798.0,511.7 L796.9,513.5 L795.4,515.1 L794.1,516.8 L793.0,518.6 L791.6,520.2 L790.0,521.7 L789.7,523.9 L788.4,525.8 L788.0,528.0 L786.1,528.8 L784.0,528.6 L782.1,529.5 L780.0,529.4 L778.0,530.0 L776.6,531.9 L775.6,534.1 L773.8,535.7 L773.0,538.0 L772.1,540.1 L771.4,542.3 L771.2,544.7 L770.0,546.7 L768.9,548.4 L767.9,550.2 L766.5,551.7 L764.9,553.1 L763.8,554.8 L763.0,556.7 L761.9,558.7 L760.0,560.0 L758.1,561.5 L756.2,563.0 L754.7,565.0 L753.0,566.7 L752.4,568.9 L750.6,570.5 L750.1,572.7 L748.5,574.5 L748.0,576.7 L747.0,578.9 L746.5,581.1 L745.7,583.4 L746.1,585.9 L745.0,588.0 L744.5,590.0 L744.8,592.0 L744.8,594.0 L744.3,596.0 L744.0,598.0 L743.7,600.2 L744.0,602.4 L743.3,604.5 L743.0,606.7 L743.6,608.9 L744.9,610.8 L745.7,612.9 L746.7,615.0 L748.1,616.9 L748.8,619.3 L750.7,620.9 L751.6,623.1 L753.0,625.0 L754.1,626.8 L755.9,628.0 L756.3,630.3 L758.2,631.5 L758.8,633.7 L760.1,635.3 L761.7,636.7 L762.6,638.9 L763.9,640.9 L765.6,642.6 L766.8,644.7 L768.0,646.7 L769.2,648.5 L769.6,650.7 L771.5,652.2 L772.4,654.1 L772.6,656.4 L773.7,658.3 L775.0,660.0 L775.6,662.2 L776.2,664.5 L777.5,666.5 L778.0,668.8 L779.2,670.8 L780.0,673.0 L780.1,675.1 L781.5,676.9 L781.6,679.0 L781.9,681.0 L782.2,683.1 L783.0,685.0 L783.4,687.2 L783.5,689.4 L783.5,691.6 L784.4,693.7 L785.0,695.8 L785.0,698.0 L784.4,700.0 L782.7,701.3 L782.0,703.2 L781.1,705.0 L780.0,706.7 L778.3,708.1 L776.9,709.8 L775.2,711.1 L773.5,712.5 L771.8,713.8 L770.0,715.0 L767.8,715.6 L766.0,717.3 L764.0,718.4 L761.7,719.0 L765.0,712.0 L765.2,709.9 L763.8,708.1 L764.3,706.0 L763.3,704.1 L763.9,701.9 L763.0,700.0 L761.0,699.3 L759.9,697.3 L758.1,696.3 L756.6,695.0 L755.0,693.7 L753.0,693.0 L751.5,691.2 L750.3,689.1 L749.4,686.9 L747.7,685.1 L746.7,683.0 L745.3,681.5 L744.2,679.8 L743.7,677.8 L742.6,676.1 L741.4,674.5 L740.0,673.0 L738.7,671.3 L738.4,669.0 L737.0,667.4 L735.7,665.7 L735.0,663.7 L733.9,661.9 L733.0,660.0 L731.1,658.7 L730.0,656.7 L730.1,654.7 L729.8,652.7 L730.1,650.7 L730.5,648.7 L730.0,646.7 L729.3,644.5 L728.2,642.4 L727.9,640.0 L726.7,638.0 L724.7,636.5 L722.2,636.0 L720.0,635.0 L718.7,633.0 L716.3,632.1 L714.7,630.3 L713.1,628.6 L711.7,626.7 L710.2,625.2 L708.3,624.5 L706.6,623.5 L704.6,622.9 L703.0,621.7 L700.9,622.1 L698.7,622.1 L696.7,623.0 L695.4,625.1 L693.7,626.8 L692.1,628.6 L690.0,630.0 L687.9,630.2 L685.8,630.0 L683.8,630.5 L681.7,630.8 L679.9,628.9 L678.4,626.9 L676.7,625.0 L674.8,624.1 L673.7,622.2 L671.6,621.6 L669.9,620.6 L668.2,619.4 L666.7,618.0 L664.4,617.6 L662.1,618.2 L659.9,617.5 L657.6,618.2 L655.3,618.1 L653.0,618.0 L651.2,619.2 L648.8,618.9 L647.0,620.0 L644.9,620.0 L642.0,621.5 L639.9,621.9 L638.0,623.0 L636.5,625.0 L636.3,623.0 L635.7,621.0 L636.0,619.0 L634.5,617.5 L633.0,619.5 L632.8,622.4 L632.6,625.3 L630.3,625.5 L628.0,625.5 L624.8,626.0 L622.6,625.3 L620.3,624.8 L618.0,625.0 L615.9,625.0 L613.9,625.9 L611.8,626.0 L612.9,628.4 L613.0,631.0 L611.6,633.3 L611.0,636.0 L610.2,638.7 L610.5,641.5 L612.1,643.2 L613.0,645.4 L615.0,646.0 L617.0,646.7 L619.6,648.6 L617.0,651.0 L615.0,652.4 L613.0,653.8 L612.5,651.2 L611.0,649.0 L608.0,646.7 L605.4,646.7 L604.0,648.3 L602.0,649.0 L600.4,650.6 L598.2,651.2 L595.9,651.1 L593.7,651.8 L591.7,652.4 L589.8,653.2 L587.9,653.8 L586.0,651.8 L583.9,650.9 L581.6,650.5 L579.4,650.0 L578.0,646.7 L575.9,647.1 L574.0,648.0 L572.0,648.0 L569.9,647.8 L568.0,647.0 L565.8,646.9 L563.9,645.9 L562.0,645.0 L560.0,644.4 L558.0,644.3 L556.0,643.8 L553.8,643.6 L551.6,642.8 L549.4,642.3 L547.2,642.0 L545.0,641.7 L543.0,642.1 L541.0,641.7 L539.0,642.0 L536.9,642.1 L534.9,642.3 L533.0,643.0 L530.8,643.6 L528.7,642.8 L526.5,643.2 L524.3,643.1 L522.2,643.0 L520.0,643.0 L518.7,645.7 L516.7,648.0 L515.6,649.9 L513.6,651.1 L512.8,653.3 L510.9,654.7 L510.0,656.7 L507.9,657.6 L506.1,659.0 L504.1,660.0 L501.9,660.8 L499.9,661.7 L498.0,663.0 L496.2,664.3 L494.5,665.8 L492.6,666.8 L490.2,667.3 L488.4,668.6 L486.7,670.0 L485.6,671.8 L483.6,672.6 L482.3,674.2 L481.1,675.9 L479.2,676.8 L478.4,678.9 L476.7,680.0 L476.1,682.2 L474.9,684.1 L473.4,685.9 L472.6,688.0 L471.7,690.0 L471.9,692.2 L471.6,694.4 L472.5,696.5 L472.2,698.7 L473.4,700.8 L473.0,703.0 L473.1,705.1 L474.3,706.9 L474.2,709.0 L474.5,711.1 L475.1,713.0 L475.7,715.0 L476.2,717.0 L476.7,719.0 L466.7,716.7 L464.7,716.1 L462.8,715.3 L460.8,714.6 L458.9,713.9 L456.9,713.2 L455.0,712.3 L453.0,711.7 L451.2,710.6 L449.9,709.1 L447.9,708.4 L446.4,706.9 L444.8,705.6 L443.1,704.5 L441.7,703.0 L441.1,700.7 L439.9,698.7 L439.5,696.4 L438.8,694.2 L437.3,692.3 L436.7,690.0 L435.8,688.1 L434.5,686.4 L433.1,684.8 L431.3,683.4 L430.5,681.5 L429.3,679.6 L428.0,678.0 L426.8,676.2 L425.7,674.4 L424.7,672.4 L423.6,670.6 L423.0,668.4 L421.7,666.7 L420.5,665.1 L419.5,663.3 L418.6,661.5 L417.7,659.6 L416.1,658.2 L414.8,656.7 L414.5,654.5 L413.0,653.0 L411.9,651.1 L410.6,649.5 L409.0,648.0 L407.5,646.5 L406.1,644.9 L405.0,643.0 L403.0,642.7 L401.0,642.0 L398.9,641.9 L397.0,640.8 L395.1,640.3 L393.0,640.0 L391.1,640.8 L388.9,640.3 L387.0,641.0 L384.9,640.9 L383.0,641.7 L381.8,643.3 L380.3,644.7 L379.3,646.5 L378.0,648.0 L376.5,649.7 L375.3,651.5 L374.3,653.5 L372.5,655.0 L370.4,654.0 L368.6,652.7 L366.8,651.3 L365.0,650.0 L363.3,648.9 L361.7,647.6 L360.1,646.4 L358.3,645.4 L356.6,644.3 L355.0,643.0 L354.0,641.0 L353.4,638.8 L352.3,636.9 L351.1,634.9 L350.0,633.0 L349.5,631.0 L348.1,629.3 L347.1,627.5 L346.3,625.6 L345.5,623.7 L345.0,621.7 L343.0,620.6 L341.7,618.7 L340.3,617.0 L338.1,616.2 L336.8,614.3 L335.0,613.0 L333.9,611.1 L332.3,609.6 L330.5,608.4 L329.4,606.5 L327.7,605.1 L326.2,603.5 L325.0,601.7 L323.4,600.2 L322.6,598.2 L321.7,596.2 L319.9,595.0 L319.0,593.0 L291.7,594.0 L290.8,602.5 L277.5,600.8 L243.0,596.7 L185.0,561.7 L190.0,559.0 L146.7,554.5 L145.0,543.0 L144.0,541.0 L143.2,538.9 L142.4,536.8 L140.8,535.1 L140.0,533.0 L138.5,531.2 L136.8,529.7 L135.1,528.1 L133.1,526.9 L131.7,525.0 L129.8,524.2 L128.3,522.7 L126.8,521.3 L124.9,520.4 L123.3,519.1 L121.6,518.0 L120.0,516.7 L118.5,515.3 L116.9,514.1 L115.0,513.4 L113.6,511.9 L111.4,511.4 L110.0,510.0 L108.3,508.4 L106.5,506.9 L104.3,506.1 L102.8,504.3 L100.8,503.0 L100.5,501.0 L100.5,498.9 L99.5,496.9 L99.4,494.8 L99.4,492.8 L98.8,490.8 L98.2,488.8 L98.0,486.7 L96.9,484.9 L96.9,482.7 L95.8,480.8 L95.6,478.7 L94.1,477.0 L94.0,474.9 L93.0,473.0 L92.3,470.9 L91.3,468.8 L89.6,467.2 L88.9,465.1 L88.0,463.0 L88.3,460.9 L89.6,459.1 L90.0,457.0 L90.8,455.0 L90.5,452.9 L89.3,451.0 L89.0,448.9 L88.4,446.9 L87.2,445.1 L86.7,443.0 L86.8,441.0 L87.1,439.0 L86.7,437.0 L86.7,435.0 L85.8,433.0 L84.8,431.1 L84.4,428.9 L83.1,427.1 L82.6,425.0 L81.7,423.0 L80.9,420.9 L80.1,418.9 L78.9,417.0 L78.5,414.8 L77.9,412.7 L76.5,410.8 L75.7,408.8 L75.0,406.7 L75.7,404.7 L75.7,402.5 L75.7,400.4 L75.8,398.3 L76.8,396.3 L76.7,394.2 L77.2,392.1 L77.5,390.0 L76.6,388.1 L76.2,386.0 L75.6,383.9 L74.5,382.1 L74.0,380.0 L74.0,376.7 L74.5,374.6 L76.1,373.0 L76.9,371.0 L77.0,368.7 L78.3,366.9 L79.3,365.0 L80.0,363.0 L80.4,360.9 L81.2,359.0 L81.9,357.0 L82.1,354.9 L82.4,352.8 L82.7,350.7 L83.3,348.7 L84.0,346.7 L83.9,344.4 L84.0,342.1 L84.2,339.8 L85.0,337.6 L84.9,335.3 L85.0,333.0 L86.2,331.3 L87.2,329.5 L88.0,327.7 L88.3,325.6 L90.0,324.1 L90.2,322.0 L91.7,320.4 L92.6,318.6 L93.3,316.7 L94.3,314.7 L94.9,312.5 L95.5,310.3 L96.3,308.2 L97.6,306.3 L98.1,304.1 L99.2,302.1 L100.0,300.0 L100.4,297.8 L101.0,295.7 L101.7,293.6 L102.7,291.6 L103.1,289.4 L103.7,287.2 L104.4,285.1 L105.0,283.0 L105.7,281.0 L106.3,278.9 L106.8,276.9 L107.9,275.0 L108.3,272.9 L108.5,270.7 L109.2,268.7 L110.0,266.7 L112.5,266.4 L115.0,266.7 L112.9,266.0 L110.8,265.0 L110.0,263.0 L111.0,260.7 L112.9,258.9 L114.0,256.7 L111.7,255.0 L112.2,252.5 L112.5,250.0 L112.4,247.5 L112.9,245.0 L112.5,242.5 L112.1,240.4 L112.1,238.3 L112.1,236.2 L111.5,234.2 L111.4,232.1 L111.0,230.0 L113.0,221.5 L114.6,222.7 L116.2,223.9 L117.5,225.4 L119.4,226.3 L121.0,227.5 L123.1,228.3 L125.2,229.3 L127.4,229.7 L129.4,230.9 L131.5,231.7 L132.4,233.9 L133.5,236.0 L132.1,238.2 L131.5,240.8 L130.0,243.0 L129.3,245.1 L128.7,247.2 L127.5,249.0 L128.0,251.3 L129.0,253.5 L131.5,253.4 L134.0,253.0 L135.1,250.7 L137.4,249.3 L138.5,247.0 L139.9,244.8 L140.6,242.4 L141.5,240.0 L142.3,237.7 L142.5,235.2 L143.5,233.0 L142.4,231.2 L142.2,229.0 L141.5,227.0 L140.7,224.6 L140.8,222.0 L140.3,219.8 L140.4,217.5 L153.3,220.8 L176.0,226.3 L198.0,231.7 L213.3,235.0 L226.7,238.0 L240.0,240.8 L260.0,244.2 L290.0,248.7 L320.0,252.3 L355.0,255.8 L380.0,257.5 L403.0,258.8 L430.0,259.8 L475.0,260.4 L501.7,259.7 L501.9,257.6 L502.4,255.5 L502.5,253.3 L504.6,253.8 L506.7,254.0 L507.5,255.9 L508.1,257.9 L508.2,260.0 L508.8,261.9 L509.0,264.0 L511.1,265.0 L513.3,265.6 L515.6,266.2 L517.8,266.9 L520.0,267.5 L522.0,267.5 L524.0,266.8 L526.0,267.0 L528.0,266.5 L530.0,266.7 L531.8,268.2 L534.2,268.6 L535.8,270.5 L538.2,271.0 L540.0,272.5 L542.3,273.2 L544.7,273.3 L547.0,273.9 L549.3,274.8 L551.7,275.0 L553.7,274.0 L555.7,273.6 L558.0,273.9 L560.0,273.0 L562.0,273.5 L564.1,273.6 L565.9,275.0 L568.0,275.0 L570.1,275.6 L572.4,275.0 L574.5,275.5 L576.7,275.8" fill="none" stroke="#474c52" stroke-width="1.15" stroke-linejoin="round"/><path d="M576.7,275.8 L577.4,273.8 L578.8,272.2 L579.6,270.3 L581.0,268.7 L581.7,266.7 L583.3,265.1 L584.9,263.4 L586.7,261.9 L588.0,260.0 L589.7,258.6 L591.7,257.7 L593.2,256.2 L595.0,255.0 L597.2,255.4 L599.5,255.9 L601.7,256.0 L604.0,256.0 L606.2,256.3 L608.5,256.6 L610.8,256.1 L613.0,256.7 L615.3,256.9 L617.6,257.5 L620.0,257.5 L621.5,259.5 L623.4,261.1 L625.0,263.0 L626.8,264.5 L628.4,266.2 L630.0,268.0 L632.0,268.5 L634.1,268.8 L635.9,270.0 L638.0,270.4 L640.0,270.8 L641.0,272.9 L642.2,274.8 L643.0,277.0 L644.1,279.3 L645.0,281.7 L645.8,283.8 L646.8,285.8 L647.4,287.9 L648.0,290.0 L649.1,292.0 L649.8,294.1 L651.0,296.0 L652.8,298.2 L655.0,300.0 L657.6,300.1 L660.0,301.0 L662.1,300.4 L664.4,300.6 L666.4,299.6 L668.6,299.5 L670.8,299.4 L673.0,299.0 L675.1,299.0 L677.2,298.8 L679.4,299.2 L681.5,299.2 L683.6,298.6 L685.8,299.2 L687.9,298.9 L690.0,299.0 L692.3,299.3 L694.7,299.6 L697.0,300.0 L699.3,300.4 L701.7,300.4 L703.4,301.6 L705.0,303.0 L706.5,304.3 L708.0,305.7 L709.3,307.4 L710.8,308.8 L712.5,310.0 L714.2,311.8 L715.6,313.8 L717.2,315.8 L719.0,317.5 L720.8,320.0 L719.4,322.1 L718.4,324.4 L717.5,326.7 L715.3,326.3 L713.1,325.9 L710.8,325.8 L708.5,325.3 L706.3,324.5 L704.0,324.0 L702.3,322.5 L700.8,320.8 L699.4,319.2 L698.0,317.5 L696.7,315.8 L694.6,315.8 L692.5,315.8 L694.2,317.4 L695.3,319.4 L696.6,321.2 L698.0,323.0 L698.7,325.4 L700.0,327.5 L698.8,329.6 L698.0,332.0 L696.7,334.0 L696.2,336.0 L695.4,337.9 L695.0,340.0 L695.9,342.2 L695.9,344.5 L696.7,346.7 L697.5,349.1 L697.5,351.7 L696.2,353.7 L695.1,355.9 L694.0,358.0 L691.8,359.6 L690.0,361.7 L689.0,365.0 L689.6,367.5 L690.0,370.0 L689.5,372.0 L688.9,374.1 L688.0,376.0 L685.0,377.5 L687.3,378.7 L689.5,380.2 L691.7,381.7 L693.1,380.3 L694.3,378.7 L695.7,377.2 L697.4,376.1 L698.4,374.2 L700.0,373.0 L701.9,371.7 L703.2,369.7 L705.2,368.4 L706.7,366.7 L709.0,366.7 L711.2,366.7 L713.5,366.4 L715.7,365.6 L718.0,365.8 L720.5,365.6 L723.0,365.0 L720.0,362.5 L722.4,361.7 L724.6,360.4 L726.7,359.0 L728.8,358.4 L730.8,357.5 L732.8,356.9 L735.0,356.7 L737.0,356.1 L739.0,355.8 L738.1,353.8 L736.6,352.1 L735.8,350.0 L732.9,350.0 L730.0,350.0 L728.0,348.8 L725.8,348.0 L726.6,345.9 L727.4,343.9 L728.0,341.7 L730.1,340.7 L732.0,339.4 L733.6,337.6 L735.8,336.7 L737.9,335.8 L739.9,334.8 L742.0,334.0 L743.8,332.6 L745.8,331.5 L748.0,330.8 L749.7,329.6 L751.6,329.1 L753.4,328.1 L755.4,327.7 L757.2,326.7 L758.9,325.7 L760.8,325.0 L762.6,324.0 L764.3,323.0 L766.2,322.2 L768.3,321.9 L770.0,320.8 L771.3,318.6 L773.0,316.7 L774.5,314.8 L776.0,312.8 L777.5,310.8 L779.0,309.2 L780.0,307.2 L781.6,305.6 L783.0,304.0 L784.7,302.5 L786.7,301.5 L807.5,296.5" fill="none" stroke="#474c52" stroke-width=".75" stroke-opacity=".85" stroke-linejoin="round"/><path d="M133.5,221.5 L135,220.3 L137.5,221 L139,219.8 L141,221 L143.3,222 L143.5,225.5 L142,227.8 L139.5,226.5 L137.5,228 L135,226.5 L133.3,224.5Z M139,229 L141.5,228.5 L142.5,232 L144,236 L143,238.5 L141.5,240 L141,244 L140,248 L138.5,251.5 L136,253 L133.5,254.2 L130.5,254.5 L128,253.5 L127.3,250.5 L128.5,247 L131,244 L133.5,241 L135,238 L133,236 L132.5,233.5 L135,232.5 L137.5,231.5Z" fill="#474c52"/><ellipse cx="133.8" cy="246.6" rx="1.7" ry="1.1" transform="rotate(-35 133.8 246.6)" fill="#fff"/><circle cx="137.3" cy="216.6" r=".7" fill="#474c52"/><path d="M112.5,250.0 L114.3,250.3 L116.0,251.0 L114.4,252.2 L113.0,253.5 L114.8,254.4 L116.0,256.0 L113.8,256.6 L112.0,258.0 L111.2,259.9 L111.0,262.0 L112.1,264.1 L114.0,265.5 L115.6,265.9 L117.0,266.7" fill="none" stroke="#474c52" stroke-width="1.3" stroke-linejoin="round" stroke-linecap="round"/><path d="M81.7,426.5 L83.7,427.6 L85.0,429.5 L87.0,431.0 L88.3,430.1 L89.9,429.5 L90.8,428.0 L92.6,428.3 L94.3,429.1 L96.0,429.5 L97.8,430.1 L99.4,431.3 L101.2,432.0 L103.0,432.5" fill="none" stroke="#474c52" stroke-width="1.5" stroke-linejoin="round" stroke-linecap="round"/><path d="M86.7,431.0 L87.2,432.6 L87.2,434.3 L87.5,436.0 L88.6,437.7 L89.9,439.3 L91.0,441.0" fill="none" stroke="#474c52" stroke-width="1.5" stroke-linejoin="round" stroke-linecap="round"/><ellipse cx="104" cy="516.5" rx="2.5" ry="0.8" fill="#474c52"/><ellipse cx="110" cy="517.3" rx="2.0" ry="0.75" fill="#474c52"/><ellipse cx="115" cy="517.8" rx="1.5" ry="0.65" fill="#474c52"/><ellipse cx="110" cy="532.5" rx="1.2" ry="1.0" fill="#474c52"/><ellipse cx="129" cy="533.5" rx="1.5" ry="1.7" fill="#474c52"/><ellipse cx="126.7" cy="542.5" rx="1.2" ry="2.3" fill="#474c52"/><ellipse cx="77" cy="430" rx="0.8" ry="1.1" fill="#474c52"/><path d="M583.5,277.5 L590,273.8" stroke="#474c52" stroke-width="1.5" stroke-linecap="round"/><path d="M798.7,408.3 L797.0,408.5 L796.5,410.2 L796.1,411.9 L795.0,412.8 L793.3,413.0 L792.6,414.3 L790.6,414.1 L789.5,414.9 L789.6,416.9 L788.3,417.5 L787.6,419.0 L786.7,420.3 L784.9,421.1 L785.0,423.0 L784.6,424.4 L784.5,426.0 L783.5,427.2 L784.2,429.0 L782.5,430.0 L782.1,431.3 L782.8,432.9 L780.7,433.8 L781.3,435.4 L780.8,436.7 L780.7,438.5 L782.6,438.6 L783.8,439.3 L783.2,441.5 L785.0,441.7 L785.7,443.5 L788.5,442.9 L789.0,445.0 L789.5,446.8 L790.9,447.4 L792.0,448.3 L793.7,448.3 L795.0,449.0 L795.6,450.7 L796.8,452.0 L798.3,453.0 L799.3,454.1 L800.7,454.9 L799.7,457.0 L800.8,458.0 L800.7,459.9 L803.3,459.9 L803.3,461.7 L804.6,462.6 L806.1,462.6 L807.5,463.0" fill="none" stroke="#474c52" stroke-width="2.0" stroke-linejoin="round" stroke-linecap="round"/><path d="M790.0,419.0 L791.2,420.1 L791.1,422.3 L793.0,423.0 L792.2,424.6 L790.8,425.4 L789.4,426.2 L788.0,427.0 L789.4,427.6 L790.3,428.7 L790.4,430.6 L792.0,431.0 L790.8,431.6 L790.0,433.1 L788.0,432.1 L787.5,434.0 L786.0,434.0 L786.8,435.5 L789.2,435.2 L789.5,437.3 L791.0,438.0 L791.8,439.2 L792.8,440.2 L793.2,441.8 L795.0,442.0 L793.5,443.0 L793.3,444.9 L792.0,446.0 L793.5,446.4 L795.3,446.0 L796.4,447.8 L798.0,448.0 L799.0,449.1 L800.3,450.0 L800.0,451.9 L801.0,453.0 L801.2,454.6 L803.3,455.0 L802.8,457.0 L804.0,458.0" fill="none" stroke="#474c52" stroke-width="1.6" stroke-linejoin="round" stroke-linecap="round"/><path d="M799.0,410.0 L798.7,411.5 L798.4,413.0 L798.7,414.7 L797.5,416.0 L796.9,417.3 L796.9,418.8 L796.7,420.2 L796.9,421.6 L796.7,423.0 L796.9,424.5 L797.0,426.0 L797.8,427.3 L798.8,428.5 L799.0,430.0 L799.3,431.7 L801.1,432.5 L801.7,434.0 L803.1,435.0 L803.6,436.4 L804.0,438.0 L804.5,439.7 L804.3,441.5 L805.4,443.0 L805.8,444.5 L805.3,446.0 L806.1,447.5 L805.8,449.0 L806.9,450.4 L805.4,452.1 L806.3,453.5 L806.7,455.0 L807.0,456.3 L806.9,457.7 L807.5,459.0" fill="none" stroke="#474c52" stroke-width="1.9" stroke-linejoin="round" stroke-linecap="round"/><path d="M796.0,412.0 L795.2,413.4 L795.5,415.1 L795.3,416.6 L794.5,418.0 L793.9,419.4 L794.9,420.8 L794.2,422.2 L794.0,423.6 L794.0,425.0 L794.3,426.3 L795.5,427.2 L795.3,428.7 L796.0,429.8 L796.5,431.0 L796.6,432.5 L798.4,433.2 L797.7,435.1 L799.0,436.0 L800.1,437.0 L799.8,438.7 L800.9,439.8 L801.5,441.0 L801.4,442.6 L802.7,443.9 L802.9,445.4 L803.0,447.0" fill="none" stroke="#474c52" stroke-width="1.3" stroke-linejoin="round" stroke-linecap="round"/><path d="M807.0,441.0 L807.1,442.9 L808.3,444.4 L808.5,446.2 L809.0,448.0 L809.3,449.8 L809.2,451.5 L809.3,453.2 L809.0,455.0 L808.4,457.3 L807.5,459.5" fill="none" stroke="#474c52" stroke-width="1.5" stroke-linejoin="round" stroke-linecap="round"/><path d="M796.0,477.0 L797.0,478.1 L798.8,477.2 L799.4,479.3 L801.0,479.0 L802.5,478.9 L803.5,477.5 L805.0,477.5 L806.4,478.0 L808.1,478.0 L809.0,479.5 L810.8,479.6 L812.0,481.0 L810.6,481.2 L809.1,481.5 L808.0,482.5 L806.4,483.3 L804.6,482.4 L803.0,483.0 L801.8,483.7 L800.3,483.9 L799.0,484.5 L800.0,485.6 L801.7,485.0 L803.0,485.4 L804.0,486.5 L805.7,486.2 L807.4,487.1 L809.0,486.0 L810.2,485.2 L812.0,485.3 L813.0,484.0" fill="none" stroke="#474c52" stroke-width="2.0" stroke-linejoin="round" stroke-linecap="round"/><path d="M797.0,490.5 L798.5,490.3 L799.6,491.2 L801.0,491.4 L802.0,492.5 L803.2,491.7 L804.8,492.2 L806.0,491.5 L805.5,493.1 L804.2,494.0 L803.0,495.0 L801.9,496.1 L800.0,495.1 L799.0,496.5 L800.3,496.9 L801.6,496.9 L802.8,497.5 L804.0,498.0 L805.4,498.3 L806.4,497.0 L807.9,497.5 L809.0,496.5 L808.5,497.8 L808.1,499.1 L807.0,500.0 L805.5,499.8 L804.8,501.9 L802.9,500.7 L802.0,502.0 L801.3,503.5 L800.0,504.5 L801.6,505.1 L803.3,504.7 L805.0,505.0 L806.0,503.8 L807.2,503.4 L808.5,503.1 L810.0,503.5 L810.4,505.0 L809.9,506.3 L809.0,507.5" fill="none" stroke="#474c52" stroke-width="2.0" stroke-linejoin="round" stroke-linecap="round"/><path d="M808.0,469.0 L809.3,470.2 L810.3,471.6 L811.4,472.9 L812.5,474.3 L813.9,475.4 L815.0,476.7 L815.7,478.2 L816.6,479.7 L817.2,481.2 L817.8,482.8 L818.5,484.3 L819.3,485.8 L820.0,487.3 L821.2,488.6 L821.9,490.1 L822.5,491.7 L821.1,492.8 L820.1,494.2 L819.1,495.6 L817.7,496.6 L816.4,497.8 L815.5,499.3 L814.3,500.5 L813.0,501.7 L812.4,503.4 L811.2,504.7 L810.9,506.5 L810.0,508.0" fill="none" stroke="#474c52" stroke-width="1.0" stroke-linejoin="round" stroke-linecap="round"/><path d="M778.0,530.0 L777.0,531.6 L776.1,533.2 L774.9,534.8 L774.2,536.5 L773.0,538.0 L771.9,539.6 L772.3,541.7 L771.3,543.2 L770.2,544.8 L770.0,546.7 L768.9,548.0 L767.5,549.2 L767.3,551.2 L766.2,552.5 L765.3,554.0 L764.5,555.6 L763.0,556.7 L762.0,558.8 L760.0,560.0 L758.8,561.1 L757.9,562.5 L756.4,563.3 L754.8,563.9 L753.6,565.0 L753.0,566.7 L751.8,568.2 L751.6,570.2 L750.7,571.8 L749.1,573.1 L749.2,575.2 L748.0,576.7 L747.1,578.2 L747.5,580.0 L746.8,581.6 L746.2,583.1 L745.1,584.6 L745.1,586.3 L745.0,588.0 L744.3,589.6 L744.9,591.4 L744.7,593.0 L743.7,594.6 L744.0,596.3 L744.0,598.0 L743.5,599.7 L744.2,601.6 L744.1,603.3 L743.3,605.0 L743.0,606.7 L744.0,608.2 L744.8,609.9 L744.8,611.9 L745.3,613.6 L746.7,615.0" fill="none" stroke="#474c52" stroke-width="1.7" stroke-linejoin="round" stroke-linecap="round"/><path d="M893.0,274.0 L893.9,275.5 L892.3,275.9 L891.8,276.9 L889.7,277.2 L889.9,278.4 L890.7,279.8 L889.2,279.8 L888.8,280.8 L889.7,282.9 L886.8,281.7 L887.5,283.7 L886.4,284.0 L886.0,285.0 L886.3,286.9 L885.0,287.0 L882.7,286.2 L883.9,289.0 L883.2,289.9 L881.8,289.9 L880.9,290.6 L879.7,290.9 L878.9,291.6 L878.2,292.3 L878.2,293.9 L877.9,295.1 L876.2,294.7 L875.0,295.0 L874.7,296.2 L873.3,296.1 L872.5,296.7 L871.3,296.8 L871.1,298.3 L870.2,298.7 L869.6,299.6 L868.2,299.3 L866.7,299.0 L866.4,300.4 L866.9,303.0 L865.0,302.0 L864.6,303.3 L862.2,301.7 L861.4,302.3 L862.1,305.1 L860.8,305.0" fill="none" stroke="#474c52" stroke-width="2.3" stroke-linejoin="round" stroke-linecap="round"/><path d="M890.0,283.5 L889.1,283.9 L886.9,283.1 L888.9,286.2 L888.1,286.7 L888.0,287.8 L885.2,286.5 L886.1,288.5 L884.3,288.1 L884.5,289.5 L882.4,288.5 L882.9,290.5 L883.1,292.2 L882.1,292.5 L881.5,293.2 L880.8,293.9 L878.0,292.0 L879.3,295.0 L878.0,295.0 L875.9,293.7 L875.8,295.1 L874.2,294.6 L875.4,297.8 L873.7,297.0 L872.0,296.3 L874.3,301.0 L872.0,299.5 L871.2,299.9 L870.5,300.5 L871.1,303.1 L867.9,299.8 L869.2,303.4 L867.6,302.6 L865.4,301.0 L866.0,303.5" fill="none" stroke="#474c52" stroke-width="1.6" stroke-linejoin="round" stroke-linecap="round"/><path d="M888.0,280.0 L887.9,281.2 L885.4,280.1 L887.1,283.1 L886.7,284.1 L883.8,282.4 L883.1,283.1 L883.8,285.2 L883.7,286.3 L882.0,286.0 L881.8,287.1 L880.4,286.9 L879.3,287.1 L879.0,288.0 L878.1,288.4 L878.8,290.5 L876.4,289.3 L875.2,289.3 L876.0,291.5 L874.2,290.7 L873.1,290.8 L874.5,294.2 L874.0,295.0 L873.4,295.8 L872.6,296.3 L870.5,295.2 L870.0,296.0 L868.1,295.0 L867.2,295.4 L866.8,296.5 L866.1,297.0 L865.0,297.2 L865.4,299.2 L863.9,298.8 L864.0,300.5" fill="none" stroke="#474c52" stroke-width="1.4" stroke-linejoin="round" stroke-linecap="round"/><path d="M860.8,305.0 L859.3,305.4 L858.5,306.4 L858.9,308.1 L858.0,309.0 L858.2,310.3 L857.1,311.0 L856.7,312.0 L856.0,312.9 L855.1,313.7 L856.3,315.2 L855.8,316.2 L854.6,316.9 L854.5,318.0 L853.9,318.9 L854.8,320.1 L853.8,321.0 L853.7,322.0 L853.5,323.0 L853.7,324.0" fill="none" stroke="#474c52" stroke-width="1.6" stroke-linejoin="round" stroke-linecap="round"/><ellipse cx="864" cy="356" rx="2.5" ry="0.8" fill="#474c52"/><ellipse cx="872.5" cy="354.5" rx="2.0" ry="1.0" fill="#474c52"/><ellipse cx="869" cy="352" rx="0.75" ry="0.6" fill="#474c52"/><ellipse cx="851" cy="359.5" rx="1.0" ry="0.75" fill="#474c52"/><path d="M820.0,382.0 L821.5,381.0 L823.2,380.3 L824.3,378.7 L826.0,378.0 L827.3,377.1 L828.6,376.0 L830.3,375.7 L831.4,374.5 L833.0,374.0 L834.7,373.0 L836.6,372.5 L838.1,371.0 L840.0,370.5 L841.4,369.3 L843.1,368.5 L845.0,368.1 L846.4,366.9 L848.0,366.0" fill="none" stroke="#474c52" stroke-width="1.9" stroke-linejoin="round" stroke-linecap="round"/><path d="M853.0,357.0 L854.2,356.5 L855.4,355.8 L856.0,354.5 L857.7,354.3 L859.0,355.5 L859.6,353.9 L861.8,353.9 L862.4,352.3" fill="none" stroke="#474c52" stroke-width="1.8" stroke-linejoin="round" stroke-linecap="round"/><path d="M579.0,650.0 L580.6,650.2 L581.6,651.5 L583.0,652.0 L584.5,651.8 L585.2,653.6 L586.9,652.8 L587.9,653.8 L589.4,653.1 L591.0,652.5 L592.5,652.6 L593.7,651.8 L595.3,652.3 L596.7,651.5 L598.2,651.2 L599.6,650.7 L600.8,649.8 L602.0,649.0 L603.5,648.7 L604.0,647.1 L605.4,646.7" fill="none" stroke="#474c52" stroke-width="2.2" stroke-linejoin="round" stroke-linecap="round"/><path d="M598.0,640.0 L598.4,641.3 L600.3,641.5 L600.5,643.0 L601.4,644.2 L603.0,644.0 L604.0,645.0 L605.8,644.7 L607.0,646.0 L607.8,644.4 L609.5,644.0 L610.3,642.3 L611.0,640.5 L611.4,639.0 L611.9,637.6 L611.5,636.0 L612.5,634.7 L611.8,632.8 L613.0,631.5 L614.2,630.7 L613.7,628.8 L615.0,628.0" fill="none" stroke="#474c52" stroke-width="2.6" stroke-linejoin="round" stroke-linecap="round"/><path d="M608.0,646.5 L609.3,647.6 L611.0,648.0 L612.5,646.9 L614.0,646.0 L615.5,646.6 L617.0,646.7 L618.0,648.1 L619.6,648.6 L617.9,649.4 L617.0,651.0" fill="none" stroke="#474c52" stroke-width="2.0" stroke-linejoin="round" stroke-linecap="round"/><path d="M611.0,648.5 L611.9,649.8 L613.0,651.0 L613.3,652.4 L613.0,653.8" fill="none" stroke="#474c52" stroke-width="1.8" stroke-linejoin="round" stroke-linecap="round"/><path d="M614.0,647.0 L615.0,648.5 L616.0,650.0" fill="none" stroke="#474c52" stroke-width="1.6" stroke-linejoin="round" stroke-linecap="round"/><path d="M620,631 Q621.8,637 615.7,642.8" fill="none" stroke="#474c52" stroke-width="1"/><ellipse cx="568.3" cy="644" rx="2.6" ry="1.5" fill="#fff" stroke="#474c52" stroke-width="1.1"/><ellipse cx="608.3" cy="632" rx="1.8" ry="1.5" fill="#fff"/><path d="M611.8,626.0 L613.8,625.3 L615.9,625.0 L618.0,625.0 L619.7,625.6 L621.4,625.5 L623.1,625.5 L624.8,626.0 L626.4,625.6 L628.0,625.5 L630.3,625.4 L632.6,625.3" fill="none" stroke="#474c52" stroke-width="1.3" stroke-linejoin="round" stroke-linecap="round"/><path d="M640.0,617.0 L641.6,617.8 L643.2,618.4 L644.3,620.0 L646.0,620.5 L647.8,620.1 L649.5,619.5 L651.3,619.2 L653.0,618.5 L654.8,618.8 L656.5,618.5 L658.2,617.7 L660.0,618.0 L661.6,618.7 L663.4,617.8 L665.1,617.9 L666.7,618.5 L668.6,619.0 L670.3,620.1 L672.0,621.0 L673.4,622.5 L675.4,623.3 L676.7,625.0 L678.3,626.2 L679.2,627.9 L680.1,629.6 L681.7,630.8 L683.8,630.1 L686.0,630.5 L688.1,630.7 L690.0,630.0 L690.9,628.6 L692.6,628.0 L693.1,626.3 L694.8,625.7 L696.0,624.6 L696.7,623.0 L698.9,623.2 L700.9,622.5 L703.0,622.0" fill="none" stroke="#474c52" stroke-width="1.5" stroke-linejoin="round" stroke-linecap="round"/><path d="M730.0,646.7 L730.6,648.5 L729.9,650.2 L730.0,652.0 L729.7,653.8 L731.2,655.2 L731.0,657.0 L731.6,659.2 L733.0,661.0" fill="none" stroke="#474c52" stroke-width="1.7" stroke-linejoin="round" stroke-linecap="round"/><path d="M746.7,615.0 L747.2,616.7 L748.6,617.8 L749.4,619.3 L750.1,620.9 L750.8,622.4 L752.5,623.3 L753.0,625.0 L754.2,626.1 L755.0,627.6 L755.8,629.0 L756.8,630.2 L757.9,631.4 L758.7,632.9 L759.8,634.1 L761.1,635.1 L761.7,636.7 L762.3,638.3 L763.7,639.4 L764.8,640.7 L765.7,642.2 L766.2,643.8 L766.8,645.5 L768.0,646.7" fill="none" stroke="#474c52" stroke-width="1.7" stroke-linejoin="round" stroke-linecap="round"/><path d="M766.0,706.0 L767.6,706.7 L768.8,707.8 L770.0,709.0 L771.8,708.6 L773.2,707.3 L775.0,707.0 L777.1,706.8 L779.0,706.0" fill="none" stroke="#474c52" stroke-width="1.6" stroke-linejoin="round" stroke-linecap="round"/><path d="M740.0,673.0 L741.1,674.3 L741.9,675.8 L742.1,677.6 L743.0,679.0 L743.9,680.3 L744.9,681.6 L746.1,682.6 L747.0,684.0 L748.0,685.5 L748.6,687.3 L749.7,688.7 L751.0,690.0" fill="none" stroke="#474c52" stroke-width="1.5" stroke-linejoin="round" stroke-linecap="round"/><path d="M753.0,693.0 L754.6,693.9 L755.8,695.2 L756.6,696.9 L758.0,698.0 L759.9,698.7 L761.1,700.5 L763.0,701.0 L763.6,702.9 L764.8,704.5 L766.0,706.0" fill="none" stroke="#474c52" stroke-width="1.4" stroke-linejoin="round" stroke-linecap="round"/><path d="M783,704 Q778,713 767,718.5 Q760,721.5 751,723" fill="none" stroke="#474c52" stroke-width="1.7" stroke-dasharray="2.4 1.5"/><path d="M520.0,643.0 L519.0,644.7 L517.7,646.3 L516.7,648.0 L515.5,649.4 L514.4,650.8 L513.1,652.2 L511.9,653.5 L511.0,655.1 L510.0,656.7 L508.4,657.2 L507.0,658.2 L505.5,659.1 L503.8,659.6 L502.3,660.2 L501.0,661.4 L499.4,662.1 L498.0,663.0 L496.8,664.2 L495.0,664.4 L493.7,665.5 L492.3,666.4 L491.1,667.7 L489.5,668.2 L488.1,669.0 L486.7,670.0 L485.7,671.5 L484.3,672.6 L482.8,673.6 L481.5,674.8 L480.3,676.1 L479.1,677.4 L477.6,678.4 L476.7,680.0 L475.7,681.6 L475.7,683.5 L474.7,685.1 L474.3,686.8 L472.8,688.2 L472.5,690.0 L472.4,691.6 L472.9,693.2 L473.0,694.9 L473.0,696.5 L472.7,698.1 L472.9,699.7 L473.4,701.4 L473.0,703.0 L473.3,704.8 L474.1,706.4 L474.5,708.1 L474.2,710.0 L474.8,711.7 L475.2,713.4 L476.0,715.0" fill="none" stroke="#474c52" stroke-width="1.5" stroke-linejoin="round" stroke-linecap="round"/><path d="M220.0,676.0 L221.4,673.8 L223.5,672.1 L225.0,670.0 L226.8,668.7 L228.3,667.2 L229.8,665.6 L231.9,664.7 L233.5,663.3 L235.0,661.7 L236.7,660.3 L238.2,658.7 L240.0,657.5 L241.8,656.3 L243.8,655.9 L245.9,655.4 L247.6,654.2 L249.8,654.2 L251.6,652.9 L253.5,652.2 L255.4,651.3 L257.5,651.0 L259.6,650.6 L261.5,649.5 L263.4,648.8 L265.3,647.7 L267.0,646.3 L269.0,645.7 L271.0,645.0 L273.2,646.2 L275.5,647.1 L277.5,648.7 L279.3,650.1 L281.6,650.6 L283.7,651.4 L285.4,653.0 L287.5,653.7 L289.6,653.5 L291.6,654.6 L293.8,654.3 L295.8,654.6 L297.9,654.6 L300.0,655.0 L302.1,655.6 L304.3,655.9 L306.4,656.4 L308.2,657.8 L310.5,657.8 L312.5,658.7 L314.5,658.7 L316.5,657.9 L318.6,658.4 L320.6,658.0 L322.5,657.6 L324.5,657.3 L326.5,656.9 L328.5,656.8 L330.4,655.9 L332.5,656.0 L334.6,656.8 L336.5,658.0 L338.9,658.2 L340.7,659.7 L342.8,660.5 L345.0,661.0 L362.5,757.5 L367.5,777.5 L368.0,791.0 L376.0,792.5 L378.3,791.7 L380.0,790.0 L382.5,789.6 L385.0,790.0 L386.9,790.8 L387.8,793.0 L389.9,793.5 L391.5,794.6 L392.7,796.4 L394.5,797.4 L395.6,799.1 L397.5,800.0 L397.7,797.9 L399.0,796.1 L398.8,793.9 L399.6,792.0 L400.0,790.0 L401.6,789.0 L402.6,787.5 L403.7,786.0 L405.9,785.3 L407.5,783.7 L409.0,785.2 L411.2,785.8 L412.5,787.5 L413.8,788.8 L415.6,789.5 L417.3,790.1 L418.9,790.9 L420.1,792.5 L421.8,793.2 L423.2,794.5 L425.0,795.0 L426.0,796.6 L427.1,798.1 L428.7,799.2 L429.8,800.7 L431.2,802.0 L432.7,803.1 L433.3,805.0 L435.0,806.0 L436.6,807.1 L437.6,808.8 L438.9,810.3 L440.6,811.3 L442.4,812.1 L443.3,814.0 L445.0,815.0 L446.7,815.9 L448.6,816.2 L450.5,816.8 L452.0,818.0 L454.0,818.2 L455.3,820.0 L457.2,820.3 L459.0,821.0 L460.8,821.7 L462.5,822.5 L462.9,824.4 L463.3,826.4 L464.6,828.1 L465.0,830.0 L464.5,831.9 L463.7,833.7 L463.4,835.7 L462.5,837.5 L460.8,838.2 L459.1,839.1 L457.5,840.1 L455.7,840.6 L454.2,841.6 L452.7,842.9 L450.6,842.8 L449.2,844.3 L447.5,845.0 L445.9,843.8 L444.3,842.6 L443.1,840.8 L441.6,839.6 L439.7,838.7 L438.1,837.6 L436.3,836.6 L435.0,835.0 L433.9,833.3 L431.9,832.6 L430.9,831.0 L429.3,829.8 L427.9,828.5 L426.5,827.1 L425.0,825.9 L423.5,824.7 L422.5,823.0 L421.1,821.6 L420.0,820.1 L418.5,818.9 L416.7,817.9 L415.7,816.2 L413.8,815.4 L412.7,813.7 L411.7,812.0 L410.0,811.0 L409.1,809.2 L407.5,808.0 L406.6,806.2 L405.0,805.0 L403.0,804.0 L401.0,803.0 L399.0,801.9 L397.0,801.0 L395.5,799.6 L393.6,799.0 L391.7,798.4 L390.0,797.5 L388.1,796.5 L386.1,795.9 L383.9,795.6 L382.1,794.4 L380.0,794.0 L380.0,791.7 L378.1,791.1 L376.2,791.1 L374.4,790.4 L372.3,791.3 L370.5,790.5 L368.6,790.1 L366.7,790.0 L364.9,790.6 L363.0,791.2 L361.0,791.0 L359.2,791.7 L357.4,792.3 L355.6,792.9 L353.5,792.3 L351.8,793.4 L350.0,794.0 L348.0,794.0 L346.1,792.9 L344.5,791.6 L343.0,790.0 L341.1,789.6 L339.2,790.4 L337.4,790.3 L335.5,790.5 L333.6,790.0 L331.7,790.0 L330.1,788.2 L329.0,786.0 L327.5,784.8 L326.5,783.1 L325.0,782.0 L322.3,782.5 L320.0,784.0 L319.0,785.9 L319.2,788.2 L318.0,790.0 L318.1,792.2 L317.6,794.5 L318.0,796.7 L315.6,797.9 L313.0,798.0 L312.3,799.8 L311.0,801.3 L310.0,803.0 L308.3,804.0 L306.4,804.6 L304.6,805.5 L303.0,806.7 L301.2,807.4 L299.4,808.3 L297.5,808.7 L297.0,806.4 L296.9,804.1 L297.0,801.7 L296.6,799.4 L297.5,797.2 L297.5,795.0 L297.7,792.8 L299.2,791.0 L299.5,788.8 L300.0,786.7 L301.1,784.8 L303.0,783.6 L304.5,782.0 L306.1,781.1 L307.2,779.5 L309.0,779.0 L310.5,777.0 L308.9,778.0 L307.5,779.4 L305.5,779.6 L304.0,780.8 L302.8,782.7 L300.6,783.6 L298.7,784.8 L297.5,786.7 L296.0,788.0 L295.5,790.0 L294.1,791.4 L293.0,793.0 L291.6,794.8 L289.8,796.1 L288.0,797.5 L286.3,799.1 L285.0,800.9 L284.0,803.0 L283.7,805.0 L282.5,806.6 L281.4,808.2 L280.8,810.0 L282.2,811.5 L282.6,813.5 L284.0,815.0 L282.8,816.8 L282.5,819.0 L281.0,820.5 L279.7,822.1 L277.8,823.2 L276.7,825.0 L275.0,826.1 L273.4,827.6 L271.6,828.7 L270.0,830.0 L268.0,830.8 L266.1,831.9 L264.8,833.7 L263.0,834.9 L261.3,836.3 L260.0,838.0 L258.2,838.9 L257.4,841.0 L255.8,842.2 L254.0,843.1 L252.6,844.6 L251.5,846.2 L250.0,847.5 L248.2,848.2 L246.8,849.5 L245.2,850.4 L243.6,851.3 L241.7,851.8 L240.1,852.8 L238.3,853.3 L236.4,853.7 L235.0,855.0 L233.5,856.2 L231.6,856.6 L229.8,857.1 L228.3,858.2 L226.7,859.1 L225.0,860.0 L223.1,860.4 L221.6,862.0 L219.4,861.6 L217.8,862.6 L215.9,863.2 L214.1,863.9 L212.5,865.0 L210.9,866.0 L209.0,866.0 L208.5,864.0 L209.0,862.0 L210.3,860.6 L212.0,859.8 L213.8,859.0 L215.0,857.5 L216.9,856.8 L218.3,855.2 L220.1,854.4 L221.8,853.4 L223.2,851.9 L225.0,851.0 L227.1,850.8 L228.9,850.0 L230.7,849.0 L232.7,848.4 L234.5,847.6 L236.3,846.7 L238.0,845.6 L240.0,845.0 L241.4,843.5 L242.9,842.3 L244.4,840.8 L246.6,840.4 L247.7,838.6 L249.0,837.1 L250.8,836.1 L252.5,835.0 L252.9,833.1 L254.1,831.6 L254.8,829.9 L255.5,828.2 L256.6,826.7 L257.5,825.0 L257.8,823.2 L258.0,821.4 L258.9,819.7 L258.7,817.8 L259.3,816.1 L260.1,814.4 L260.0,812.5 L258.1,812.6 L256.6,813.9 L254.9,814.9 L252.8,814.5 L251.2,815.6 L249.6,816.6 L247.9,817.3 L246.0,817.5 L244.3,816.5 L242.9,815.2 L241.2,814.1 L240.0,812.5 L237.6,813.6 L235.0,813.7 L233.2,812.8 L231.3,812.7 L229.3,813.3 L227.5,812.5 L227.2,810.4 L227.4,808.3 L226.8,806.2 L226.0,804.2 L226.1,802.1 L226.0,800.0 L224.2,799.1 L222.9,797.6 L221.0,796.9 L219.2,796.0 L217.5,795.0 L216.1,793.9 L214.2,793.5 L213.1,791.8 L211.7,790.7 L210.0,790.0 L209.7,788.0 L208.8,786.0 L208.3,784.1 L207.4,782.1 L207.5,780.0 L206.5,778.1 L206.1,776.1 L205.9,774.0 L205.8,771.9 L205.0,770.0 L205.5,767.8 L206.6,765.8 L207.5,763.7 L208.9,762.3 L210.1,760.7 L210.8,758.7 L212.5,757.5 L214.3,756.9 L215.6,755.6 L216.9,754.3 L218.3,753.2 L220.0,752.5 L221.8,751.6 L223.6,750.8 L224.9,749.1 L226.6,748.1 L228.4,747.1 L230.0,746.0 L231.9,744.9 L234.0,744.5 L236.2,744.4 L238.0,743.3 L240.0,742.5 L241.0,740.7 L241.0,738.7 L242.3,737.0 L242.5,735.0 L241.5,732.8 L240.0,731.0 L238.0,731.6 L235.8,731.5 L233.7,731.5 L231.7,731.9 L229.6,732.1 L227.5,732.5 L225.7,732.4 L223.9,731.7 L222.1,731.6 L220.4,730.7 L218.5,730.9 L216.9,729.8 L215.0,730.0 L213.4,728.6 L211.5,727.6 L210.0,726.0 L209.3,723.9 L208.3,721.9 L208.4,719.5 L207.5,717.5 L205.4,716.2 L204.3,714.1 L202.5,712.5 L204.2,711.7 L206.2,711.7 L207.8,710.3 L209.8,710.4 L211.6,709.9 L213.2,708.7 L215.0,708.0 L216.9,707.7 L218.8,707.5 L220.5,706.5 L222.2,705.6 L224.2,705.5 L226.0,705.0 L227.1,706.5 L228.7,707.5 L230.5,708.4 L231.5,710.4 L233.4,711.3 L235.0,712.5 L236.7,711.5 L238.6,710.8 L240.6,710.5 L242.5,710.0 L241.7,707.5 L241.0,705.0 L239.3,704.3 L237.7,703.4 L236.5,702.0 L235.0,701.0 L233.7,699.4 L232.9,697.6 L231.9,695.9 L231.2,694.1 L230.0,692.5 L228.6,691.0 L226.9,689.9 L225.4,688.5 L224.6,686.5 L222.5,685.7 L221.1,684.2 L220.0,682.5Z" fill="none" stroke="#474c52" stroke-width="1.0" stroke-linejoin="round"/><path d="M175.0,733.5 L177.0,731.5 L179.5,733.0 L181.0,736.0 L184.0,737.0 L186.0,739.5 L189.0,740.0 L190.5,741.8 L192.0,743.5 L191.0,746.0 L188.0,745.0 L186.5,743.0 L183.0,742.5 L181.0,740.0 L178.0,739.0 L176.0,736.5Z" fill="none" stroke="#474c52" stroke-width=".9" stroke-linejoin="round"/><path d="M191.0,787.0 L193.4,785.9 L196.0,785.5 L197.9,785.5 L199.7,786.1 L201.5,786.5 L202.6,788.3 L204.0,790.0 L203.3,791.9 L202.0,793.5 L199.5,793.6 L197.0,793.0 L194.9,791.9 L193.0,790.5 L192.2,788.6Z" fill="none" stroke="#474c52" stroke-width=".9" stroke-linejoin="round"/><path d="M196.0,866.0 L197.8,864.0 L200.0,862.5 L202.5,861.8 L205.0,861.5 L208.0,863.0 L206.6,864.9 L205.0,866.5 L202.4,866.7 L200.0,867.5 L198.0,866.8Z" fill="none" stroke="#474c52" stroke-width=".9" stroke-linejoin="round"/><path d="M309,779 L304.5,782 L300,786.7 L297.5,795 L297,801.7 L298.5,805.5 L301.7,800 L304,793 L307,785.5 L310.5,780Z" fill="#fff" stroke="#474c52" stroke-width="1" stroke-linejoin="round"/><path d="M289.0,826.0 L291.0,826.2 L293.0,826.5 L294.1,828.2 L296.0,829.0 L296.2,831.2 L295.0,833.0 L294.5,834.5 L292.7,835.3 L292.5,837.0 L291.3,838.2 L291.0,840.0 L289.5,841.0 L288.5,842.3 L286.7,842.9 L286.0,844.5 L284.0,845.6 L282.0,846.5 L280.5,847.3 L279.0,846.0 L277.5,846.7 L276.2,845.6 L276.0,844.0 L277.2,842.1 L278.0,840.0 L277.7,838.0 L277.0,836.0 L278.2,834.2 L279.5,832.5 L281.5,832.4 L283.0,831.0 L283.9,829.2 L285.5,828.0 L287.3,827.1Z" fill="#fff" stroke="#474c52" stroke-width="2.1" stroke-linejoin="round"/><path d="M280.0,844.0 L281.3,843.3 L281.2,841.8 L281.9,840.8 L282.2,839.5 L283.0,838.5 L284.6,838.3 L285.8,839.3 L287.0,840.0 L286.2,838.9 L285.8,837.6 L285.7,836.4 L286.0,835.0 L287.7,834.5 L289.0,835.8 L290.5,836.0 L289.6,834.9 L290.2,833.5 L289.5,832.3 L289.5,831.0 L290.9,831.9 L292.5,831.6 L294.0,831.5" fill="none" stroke="#474c52" stroke-width="1.9" stroke-linejoin="round" stroke-linecap="round"/><path d="M279.0,838.0 L280.4,837.2 L280.9,835.6 L282.0,834.5 L283.1,833.8 L284.3,833.4 L284.9,832.2 L286.0,831.5 L287.5,831.4 L287.8,829.8 L288.7,828.8 L290.0,828.5" fill="none" stroke="#474c52" stroke-width="1.8" stroke-linejoin="round" stroke-linecap="round"/><path d="M291.7,817.5 L293.4,817.9 L295.0,818.5 L296.5,820.1 L297.5,822.0 L297.1,823.7 L296.0,825.0 L294.3,824.3 L292.5,824.5 L291.6,822.7 L290.5,821.0 L291.3,819.3Z" fill="#fff" stroke="#474c52" stroke-width="1.6" stroke-linejoin="round"/><path d="M292.0,820.0 L293.5,821.3 L295.0,822.5" fill="none" stroke="#474c52" stroke-width="1.2" stroke-linejoin="round" stroke-linecap="round"/><path d="M318.0,796.7 L318.3,795.0 L317.8,793.3 L318.5,791.6 L317.5,790.0 L318.1,788.6 L319.2,787.5 L318.4,785.6 L319.5,784.5 L320.7,783.5 L321.4,782.0 L323.0,781.5 L324.8,781.2 L326.0,782.5 L327.6,783.2 L328.3,784.6 L329.0,786.0 L330.4,787.0 L330.7,788.7 L331.7,790.0 L330.6,791.7 L329.5,793.5 L327.9,792.9 L327.0,791.5 L326.6,793.0 L326.9,794.5 L326.5,796.0 L325.2,796.9 L324.7,798.5 L323.5,799.5 L321.8,798.4 L321.0,796.5 L319.5,797.2Z M320.5,791 L322.5,788.5 L324,791 L322,793.5Z M324.5,786 L326.5,784.8 L327.5,787.5 L325.5,788.5Z M323.5,795 L325,793.5 L325.5,796.5 L324,797.5Z" fill="#474c52" fill-rule="evenodd" stroke="none"/><path d="M297.5,808.7 L298.5,807.3 L300.0,806.5 L301.4,807.7 L303.0,806.7 L303.8,805.4 L304.4,804.0 L306.0,803.5 L307.4,804.2 L308.8,803.8 L310.0,803.0 L311.0,802.0 L309.9,800.2 L311.5,799.5 L313.0,798.0 L313.9,797.1 L314.7,796.3 L316.0,796.0 L318.0,796.7" fill="none" stroke="#474c52" stroke-width="2.0" stroke-linejoin="round" stroke-linecap="round"/><path d="M331.7,790.0 L333.9,789.9 L336.0,790.5 L338.1,790.4 L340.0,789.5 L343.0,790.0 L344.6,791.4 L346.0,793.0 L348.0,794.0 L350.0,792.0" fill="none" stroke="#474c52" stroke-width="1.4" stroke-linejoin="round" stroke-linecap="round"/><path d="M366.0,790.0 L367.6,790.5 L369.0,791.5 L372.0,790.5" fill="none" stroke="#474c52" stroke-width="1.8" stroke-linejoin="round" stroke-linecap="round"/><path d="M406.0,794.0 L407.3,794.3 L408.0,796.3 L410.1,794.6 L411.0,796.0 L412.6,796.2 L413.4,797.2 L414.2,798.3 L414.5,799.9 L416.3,799.8 L417.0,801.0 L418.8,800.6 L419.6,801.6 L419.6,803.7 L420.5,804.6 L422.6,803.7 L423.6,804.4 L424.0,806.0 L424.9,807.0 L426.7,806.9 L427.8,807.6 L427.3,810.2 L428.1,811.4 L430.6,810.5 L431.0,812.0 L431.9,812.9 L432.5,814.3 L434.3,814.2 L434.9,815.5 L436.7,815.4 L437.1,817.1 L438.0,818.0 L439.3,818.3 L440.9,818.2 L441.3,819.8 L442.4,820.2 L442.7,822.1 L444.5,821.6 L445.0,823.0 L446.6,822.1 L447.1,824.5 L448.2,825.1 L449.7,824.5 L450.9,825.0 L452.0,825.5 L453.7,824.4 L454.9,825.7 L456.2,826.5 L457.9,825.3 L459.0,827.0" fill="none" stroke="#474c52" stroke-width="2.9" stroke-linejoin="round" stroke-linecap="round"/><path d="M404.0,798.0 L404.6,799.8 L407.2,798.4 L408.0,799.9 L409.0,801.0 L409.1,802.9 L410.6,803.2 L412.8,802.6 L413.3,804.0 L414.1,805.1 L415.0,806.0 L415.2,807.9 L417.6,806.6 L418.6,807.3 L419.3,808.4 L420.0,809.5 L420.5,811.0 L422.0,811.0 L422.4,812.3 L424.0,812.4 L424.4,813.8 L425.8,814.1 L426.0,815.6 L428.1,815.2 L428.0,817.0 L429.9,816.8 L429.3,819.6 L430.9,819.7 L431.7,820.8 L432.5,821.9 L434.2,821.9 L435.0,823.0 L435.8,823.9 L437.5,823.7 L438.6,824.3 L439.6,825.1 L440.6,825.8 L440.5,828.0 L442.0,828.0 L442.6,829.8 L444.8,827.9 L444.9,830.8 L446.6,830.2 L447.7,830.9 L449.0,831.0 L450.3,831.6 L451.7,831.9 L453.1,832.6 L454.5,832.7 L456.0,832.5 L457.3,833.5 L458.4,831.9 L459.7,833.4 L460.7,830.9 L462.0,832.0" fill="none" stroke="#474c52" stroke-width="2.9" stroke-linejoin="round" stroke-linecap="round"/><path d="M405.0,803.0 L406.0,803.8 L406.4,805.4 L408.8,804.4 L408.4,806.9 L410.0,807.0 L410.4,808.6 L411.2,809.8 L412.8,810.0 L413.4,811.3 L414.1,812.6 L416.0,812.5 L417.4,813.0 L418.9,813.3 L419.5,814.7 L421.0,815.1 L421.9,816.1 L422.0,818.0 L422.7,819.3 L424.2,819.7 L425.3,820.5 L427.0,820.6 L427.1,822.5 L428.0,823.5 L429.1,824.1 L430.1,824.9 L430.8,826.1 L432.4,826.1 L433.5,826.8 L433.1,829.3 L435.0,829.0 L435.1,830.9 L436.7,831.0 L438.5,830.9 L439.3,832.0 L440.3,832.8 L441.0,834.0 L442.0,834.9 L442.8,836.2 L444.4,835.8 L445.9,835.6 L446.9,836.3 L448.0,837.0 L449.3,838.2 L450.7,837.9 L452.3,836.2 L453.7,836.0 L455.0,837.5 L456.3,837.9 L457.5,837.6 L458.8,837.8 L460.0,837.6 L461.0,836.5" fill="none" stroke="#474c52" stroke-width="2.9" stroke-linejoin="round" stroke-linecap="round"/><path d="M407.0,809.0 L407.7,810.3 L408.5,811.5 L410.3,811.7 L410.9,813.1 L412.0,814.0 L412.9,815.1 L415.0,814.8 L414.4,817.4 L415.8,817.9 L416.2,819.4 L418.0,819.5 L419.5,819.9 L420.7,820.5 L421.8,821.4 L422.2,822.9 L423.6,823.4 L424.0,825.0 L425.5,825.2 L425.1,827.8 L427.7,826.7 L428.7,827.5 L429.0,829.2 L430.0,830.0 L430.4,831.6 L431.2,832.7 L432.5,833.1 L433.3,834.3 L434.3,835.1 L435.0,836.3 L437.0,836.0 L438.7,835.8 L438.4,838.3 L440.9,837.1 L440.5,839.6 L441.2,840.9 L443.0,840.5 L444.6,839.7 L445.5,841.1 L446.8,841.0 L447.8,842.1 L449.0,842.5 L450.4,843.3 L451.6,843.5 L452.7,842.4 L454.0,842.7 L455.0,841.5" fill="none" stroke="#474c52" stroke-width="2.9" stroke-linejoin="round" stroke-linecap="round"/><path d="M402.5,787.5 L403.8,786.5 L405.1,785.5 L406.5,784.6 L408.0,784.0 L410.0,785.1 L411.7,786.7 L412.8,788.1 L414.4,788.8 L415.6,790.1 L416.6,791.5 L418.0,792.5 L419.4,793.4 L420.7,794.5 L422.4,795.0 L423.8,795.8 L425.2,796.8 L426.7,797.5 L428.0,798.5 L428.5,800.2 L429.9,801.1 L431.0,802.3 L431.8,803.7 L433.2,804.6 L434.0,806.0 L435.2,807.3 L436.3,808.6 L438.0,809.4 L438.8,811.0 L440.4,811.9 L441.7,813.0 L442.8,814.3 L444.2,815.2 L445.5,816.3 L446.7,817.5 L448.4,817.6 L450.1,817.6 L451.7,818.1 L453.3,819.2 L455.0,819.0 L456.9,819.4 L458.9,819.6 L460.8,820.0 L461.6,821.7 L463.0,823.0 L463.4,824.8 L463.5,826.6 L464.6,828.2 L465.0,830.0 L464.8,831.8 L463.6,833.2 L463.8,835.1 L463.0,836.7 L461.3,837.6 L460.0,839.0" fill="none" stroke="#474c52" stroke-width="1.0" stroke-linejoin="round" stroke-linecap="round"/><path d="M409.0,787.0 L410.5,788.4 L410.8,790.5 L412.0,792.0 L413.5,792.7 L414.4,794.4 L416.0,795.0 L416.6,796.9 L417.7,798.5 L419.0,800.0" fill="none" stroke="#474c52" stroke-width="1.2" stroke-linejoin="round" stroke-linecap="round"/><path d="M422.0,796.0 L422.4,797.7 L424.2,798.4 L424.6,800.1 L426.0,801.0 L426.9,802.8 L428.9,803.5 L430.0,805.0" fill="none" stroke="#474c52" stroke-width="1.2" stroke-linejoin="round" stroke-linecap="round"/><path d="M438.0,811.0 L439.5,811.8 L440.5,813.1 L440.9,814.8 L442.0,816.0 L443.1,817.1 L444.8,817.7 L445.4,819.5 L447.0,820.0" fill="none" stroke="#474c52" stroke-width="1.2" stroke-linejoin="round" stroke-linecap="round"/><path d="M293.0,793.0 L292.3,794.7 L290.3,795.1 L289.7,796.9 L288.0,797.5 L286.6,798.6 L285.8,800.1 L285.2,801.8 L284.0,803.0 L283.1,804.3 L282.6,805.7 L283.0,807.6 L281.4,808.6 L280.8,810.0 L281.4,811.4 L282.4,812.5 L282.5,814.2 L284.0,815.0 L283.0,816.2 L283.3,817.8 L282.5,819.0 L281.8,820.6 L280.8,822.0 L278.5,822.1 L277.6,823.5 L276.7,825.0 L275.3,825.6 L274.3,826.8 L273.0,827.5 L272.1,828.8 L270.4,829.1 L269.7,830.6 L268.0,830.8 L266.7,831.6 L265.5,832.6 L264.3,833.6 L263.8,835.3 L262.9,836.6 L261.4,837.2 L260.0,838.0 L258.6,838.8 L257.8,840.1 L256.3,840.8 L255.7,842.3 L254.6,843.4 L252.7,843.7 L252.7,845.9 L251.6,846.9 L250.0,847.5 L248.5,848.0 L247.1,848.6 L246.0,849.7 L244.5,850.1 L243.2,851.0 L241.7,851.3 L240.1,851.5 L238.8,852.3 L237.6,853.4 L236.4,854.4 L235.0,855.0 L233.1,854.8 L232.2,856.5 L230.6,856.9 L228.9,857.1 L227.7,858.2 L226.5,859.5 L225.0,860.0 L223.4,860.1 L222.1,860.9 L220.5,860.8 L219.3,862.0 L218.0,862.7 L216.3,862.4 L215.3,863.8 L214.0,864.7 L212.5,865.0" fill="none" stroke="#474c52" stroke-width="1.7" stroke-linejoin="round" stroke-linecap="round"/><path d="M229.0,859.0 L229.9,860.6 L231.7,860.9 L233.0,862.0 L235.2,861.3 L237.0,860.0 L238.2,861.8 L240.0,863.0 L238.2,864.4 L236.0,865.0" fill="none" stroke="#474c52" stroke-width="1.5" stroke-linejoin="round" stroke-linecap="round"/><path d="M213.0,868.0 L215.2,867.5 L217.0,866.0 L218.8,867.4 L221.0,868.0" fill="none" stroke="#474c52" stroke-width="1.3" stroke-linejoin="round" stroke-linecap="round"/><path d="M243.0,852.0 L245.0,852.7 L247.0,853.5 L248.5,852.2 L250.0,851.0" fill="none" stroke="#474c52" stroke-width="1.4" stroke-linejoin="round" stroke-linecap="round"/><path d="M70.0,876.0 L72.1,874.9 L74.0,873.5" fill="none" stroke="#474c52" stroke-width="1.6" stroke-linejoin="round" stroke-linecap="round"/><path d="M80.0,873.5 L81.6,874.3 L83.1,875.1 L85.0,875.0 L87.0,875.1 L88.0,877.3 L90.0,877.5 L91.7,877.8 L93.3,876.5 L95.0,877.0 L96.5,878.0 L98.2,878.5 L100.0,878.5 L101.9,877.8 L104.0,878.0 L105.1,879.2 L106.7,878.8 L108.0,879.5 L110.0,878.9 L112.0,878.5 L113.5,878.7 L115.0,878.5 L116.2,879.6 L117.5,880.5 L119.0,881.0 L120.5,881.5 L121.7,882.6 L123.0,883.5" fill="none" stroke="#474c52" stroke-width="2.0" stroke-linejoin="round" stroke-linecap="round"/><path d="M157.0,883.0 L158.1,881.6 L159.8,881.1 L161.0,880.0 L162.8,879.9 L163.8,878.6 L165.0,877.5 L167.0,877.2 L169.0,877.0 L170.2,875.9 L171.3,874.8 L173.0,874.5 L174.9,874.9 L176.5,873.9 L178.0,873.0 L179.5,871.9 L181.4,871.8 L183.0,871.0 L184.8,870.9 L186.5,870.7 L188.0,869.5 L189.6,868.6 L191.2,868.2 L193.0,868.0" fill="none" stroke="#474c52" stroke-width="2.0" stroke-linejoin="round" stroke-linecap="round"/><path d="M46.0,856.5 L48.1,857.3 L50.0,858.5" fill="none" stroke="#474c52" stroke-width="1.5" stroke-linejoin="round" stroke-linecap="round"/><path d="M56.0,866.0 L57.1,867.4 L58.0,869.0 L59.0,870.2 L60.0,871.5" fill="none" stroke="#474c52" stroke-width="1.6" stroke-linejoin="round" stroke-linecap="round"/><ellipse cx="18.7" cy="829.2" rx="3.0" ry="2.5" fill="#474c52"/><ellipse cx="20.5" cy="836.3" rx="1.2" ry="0.8" fill="#474c52"/><ellipse cx="26" cy="834.6" rx="0.65" ry="0.55" fill="#474c52"/><ellipse cx="37.5" cy="846.5" rx="0.8" ry="0.8" fill="#474c52"/><ellipse cx="53.3" cy="861.2" rx="0.9" ry="0.75" fill="#474c52"/><ellipse cx="63.3" cy="865.2" rx="0.75" ry="0.75" fill="#474c52"/><ellipse cx="74.5" cy="872" rx="0.65" ry="0.65" fill="#474c52"/><ellipse cx="128.5" cy="883" rx="0.8" ry="0.7" fill="#474c52"/><ellipse cx="139" cy="883" rx="1.3" ry="0.65" fill="#474c52"/><ellipse cx="144" cy="883" rx="1.0" ry="0.65" fill="#474c52"/><ellipse cx="150" cy="881.5" rx="1.2" ry="0.75" fill="#474c52"/><ellipse cx="162.7" cy="822.5" rx="1.2" ry="0.8" fill="#474c52"/><ellipse cx="165.2" cy="831.3" rx="1.1" ry="0.8" fill="#474c52"/><ellipse cx="157.5" cy="775" rx="1.2" ry="3.0" fill="#474c52"/><ellipse cx="260.5" cy="851" rx="0.6" ry="1.0" fill="#474c52"/><ellipse cx="268" cy="856" rx="0.8" ry="0.7" fill="#474c52"/><ellipse cx="330" cy="796.5" rx="0.7" ry="0.7" fill="#474c52"/><ellipse cx="18.7" cy="829.2" rx="1.4" ry="1" fill="#fff"/></g></defs><rect width="1920" height="1080" fill="#fff"/><g><g clip-path="url(#land)"><path d="M153.0,200.0 C153.0,203.5 154.3,213.2 153.0,221.0 C151.7,228.8 147.7,237.7 145.0,246.7 C142.3,255.7 138.8,266.1 136.7,275.0 C134.6,283.9 132.9,292.5 132.5,300.0 C132.1,307.5 132.8,313.7 134.0,320.0 C135.2,326.3 137.3,332.5 140.0,338.0 C142.7,343.5 146.2,348.5 150.0,353.0 C153.8,357.5 158.6,361.9 163.0,365.0 C167.4,368.1 171.7,369.6 176.7,371.7 C181.7,373.8 187.4,375.7 193.0,377.5 C198.6,379.3 204.4,381.0 210.0,382.5 C215.6,384.0 220.0,384.6 226.7,386.7 C233.4,388.8 242.5,392.5 250.0,395.0 C257.5,397.5 264.5,399.9 271.7,401.7 C278.9,403.5 285.3,405.0 293.0,405.8 C300.7,406.6 309.7,407.2 318.0,406.7 C326.3,406.1 336.0,404.0 343.0,402.5 C350.0,401.0 353.8,399.4 360.0,397.5 C366.2,395.6 374.2,393.1 380.0,390.8 C385.8,388.6 390.0,386.4 395.0,384.0 C400.0,381.6 404.2,379.4 410.0,376.7 C415.8,374.0 423.3,370.4 430.0,368.0 C436.7,365.6 443.3,364.0 450.0,362.5 C456.7,361.0 463.9,359.3 470.0,359.0 C476.1,358.7 481.2,359.5 486.7,360.8 C492.2,362.1 498.0,364.3 503.0,366.7 C508.0,369.1 513.0,372.6 516.7,375.0 C520.4,377.4 522.0,377.4 525.0,381.0 C528.0,384.6 532.2,391.4 535.0,396.7 C537.8,402.0 539.8,406.9 541.7,413.0 C543.7,419.1 545.7,426.0 546.7,433.0 C547.8,440.0 547.5,447.2 548.0,455.0 C548.5,462.8 549.2,472.5 550.0,480.0 C550.8,487.5 551.3,494.5 553.0,500.0 C554.7,505.5 557.2,509.2 560.0,513.0 C562.8,516.8 566.7,520.2 570.0,523.0 C573.3,525.8 576.4,528.3 580.0,530.0 C583.6,531.7 587.5,532.7 591.7,533.0 C595.9,533.3 601.0,532.4 605.0,531.7 C609.0,531.0 610.0,531.8 615.7,529.0 C621.4,526.2 631.5,520.7 639.4,514.9 C647.3,509.1 655.4,501.8 663.0,494.4 C670.6,487.0 678.7,478.4 685.0,470.8 C691.3,463.2 695.5,456.8 700.8,448.7 C706.0,440.6 712.3,429.9 716.5,422.0 C720.7,414.1 723.0,409.4 726.0,401.5 C729.0,393.6 732.4,382.3 734.6,374.7 C736.8,367.1 737.8,361.8 739.0,356.0 C740.2,350.2 740.8,349.3 742.0,340.0 C743.2,330.7 745.3,306.7 746.0,300.0 L746.0,200.0Z" fill="#b3d9ab"/><path d="M153.0,200.0 C153.0,203.5 154.3,213.2 153.0,221.0 C151.7,228.8 147.7,237.7 145.0,246.7 C142.3,255.7 138.8,266.1 136.7,275.0 C134.6,283.9 132.9,292.5 132.5,300.0 C132.1,307.5 132.8,313.7 134.0,320.0 C135.2,326.3 137.3,332.5 140.0,338.0 C142.7,343.5 146.2,348.5 150.0,353.0 C153.8,357.5 158.6,361.9 163.0,365.0 C167.4,368.1 171.7,369.6 176.7,371.7 C181.7,373.8 187.4,375.7 193.0,377.5 C198.6,379.3 204.4,381.0 210.0,382.5 C215.6,384.0 220.0,384.6 226.7,386.7 C233.4,388.8 242.5,392.5 250.0,395.0 C257.5,397.5 264.5,399.9 271.7,401.7 C278.9,403.5 285.3,405.0 293.0,405.8 C300.7,406.6 309.7,407.2 318.0,406.7 C326.3,406.1 336.0,404.0 343.0,402.5 C350.0,401.0 353.8,399.4 360.0,397.5 C366.2,395.6 374.2,393.1 380.0,390.8 C385.8,388.6 390.0,386.4 395.0,384.0 C400.0,381.6 404.2,379.4 410.0,376.7 C415.8,374.0 423.3,370.4 430.0,368.0 C436.7,365.6 443.3,364.0 450.0,362.5 C456.7,361.0 463.9,359.3 470.0,359.0 C476.1,358.7 481.2,359.5 486.7,360.8 C492.2,362.1 498.0,364.3 503.0,366.7 C508.0,369.1 513.0,372.6 516.7,375.0 C520.4,377.4 522.0,377.4 525.0,381.0 C528.0,384.6 532.2,391.4 535.0,396.7 C537.8,402.0 539.8,406.9 541.7,413.0 C543.7,419.1 545.7,426.0 546.7,433.0 C547.8,440.0 547.5,447.2 548.0,455.0 C548.5,462.8 549.2,472.5 550.0,480.0 C550.8,487.5 551.3,494.5 553.0,500.0 C554.7,505.5 557.2,509.2 560.0,513.0 C562.8,516.8 566.7,520.2 570.0,523.0 C573.3,525.8 576.4,528.3 580.0,530.0 C583.6,531.7 587.5,532.7 591.7,533.0 C595.9,533.3 601.0,532.4 605.0,531.7 C609.0,531.0 610.0,531.8 615.7,529.0 C621.4,526.2 631.5,520.7 639.4,514.9 C647.3,509.1 655.4,501.8 663.0,494.4 C670.6,487.0 678.7,478.4 685.0,470.8 C691.3,463.2 695.5,456.8 700.8,448.7 C706.0,440.6 712.3,429.9 716.5,422.0 C720.7,414.1 723.0,409.4 726.0,401.5 C729.0,393.6 732.4,382.3 734.6,374.7 C736.8,367.1 737.8,361.8 739.0,356.0 C740.2,350.2 740.8,349.3 742.0,340.0 C743.2,330.7 745.3,306.7 746.0,300.0" fill="none" stroke="#34503a" stroke-opacity="0.8" stroke-width="0.8"/><path d="M634.2,369.0 C636.7,366.3 639.9,364.0 643.2,361.7 C646.5,359.4 650.4,357.1 653.9,355.3 C657.4,353.5 661.0,352.1 664.5,351.0 C668.0,349.9 672.0,349.5 675.2,348.9 C678.5,348.3 680.5,347.4 684.0,347.3 C687.5,347.2 692.0,346.6 696.0,348.0 C700.0,349.4 704.5,352.7 708.0,356.0 C711.5,359.3 715.0,364.1 717.0,368.0 C719.0,371.9 720.9,372.5 719.7,379.4 C718.5,386.3 713.7,400.5 710.0,409.4 C706.3,418.3 702.3,425.4 697.6,433.0 C692.9,440.6 687.7,447.9 681.9,455.0 C676.1,462.1 670.1,468.9 663.0,475.5 C655.9,482.1 646.5,489.4 639.4,494.4 C632.3,499.4 625.7,503.5 620.5,505.4 C615.3,507.3 611.8,506.7 608.0,506.0 C604.2,505.3 601.0,504.0 598.0,501.0 C595.0,498.0 592.2,492.7 590.0,488.0 C587.8,483.3 585.8,478.2 585.0,473.0 C584.2,467.8 584.2,462.5 585.0,456.7 C585.8,450.9 587.5,444.4 590.0,438.0 C592.5,431.6 596.2,424.3 600.0,418.0 C603.8,411.7 609.4,404.7 613.0,400.0 C616.6,395.3 619.2,393.7 621.7,390.0 C624.2,386.3 625.9,381.5 628.0,378.0 C630.1,374.5 631.7,371.7 634.2,369.0Z" fill="#a3d397" stroke="#34503a" stroke-opacity=".4" stroke-width=".6"/><path d="M634.2,369.0 C636.7,366.3 639.9,364.0 643.2,361.7 C646.5,359.4 650.4,357.1 653.9,355.3 C657.4,353.5 661.0,352.1 664.5,351.0 C668.0,349.9 672.0,349.5 675.2,348.9 C678.5,348.3 680.9,347.4 684.0,347.3 C687.1,347.2 690.7,346.6 694.0,348.0 C697.3,349.4 701.0,352.0 704.0,356.0 C707.0,360.0 711.0,367.1 712.0,372.0 C713.0,376.9 711.3,379.7 710.0,385.7 C708.7,391.7 706.6,401.2 704.0,407.8 C701.4,414.4 698.2,419.0 694.5,425.0 C690.8,431.0 687.1,437.4 681.9,444.0 C676.6,450.6 669.3,458.2 663.0,464.5 C656.7,470.8 650.8,476.3 644.0,481.8 C637.2,487.3 627.7,494.5 622.0,497.6 C616.3,500.7 614.0,500.1 610.0,500.5 C606.0,500.9 601.3,502.1 598.0,500.0 C594.7,497.9 592.2,492.5 590.0,488.0 C587.8,483.5 585.8,478.2 585.0,473.0 C584.2,467.8 584.2,462.5 585.0,456.7 C585.8,450.9 587.5,444.4 590.0,438.0 C592.5,431.6 596.2,424.3 600.0,418.0 C603.8,411.7 609.4,404.7 613.0,400.0 C616.6,395.3 619.2,393.7 621.7,390.0 C624.2,386.3 625.9,381.5 628.0,378.0 C630.1,374.5 631.7,371.7 634.2,369.0Z" fill="#92cd80" stroke="#34503a" stroke-opacity=".7" stroke-width=".75"/><path d="M198.0,215.0 C198.0,217.8 199.1,226.2 198.0,231.7 C196.9,237.2 193.6,241.6 191.7,248.0 C189.8,254.4 187.4,263.0 186.7,270.0 C186.0,277.0 186.4,283.3 187.5,290.0 C188.6,296.7 190.1,303.1 193.0,310.0 C195.9,316.9 200.5,325.4 205.0,331.7 C209.5,338.0 214.2,342.8 220.0,348.0 C225.8,353.2 233.3,359.1 240.0,363.0 C246.7,366.9 252.5,369.3 260.0,371.7 C267.5,374.1 276.7,376.4 285.0,377.5 C293.3,378.6 301.7,378.8 310.0,378.0 C318.3,377.2 326.7,376.0 335.0,373.0 C343.3,370.0 353.1,364.7 360.0,360.0 C366.9,355.3 371.7,350.0 376.7,345.0 C381.7,340.0 386.4,336.4 390.0,330.0 C393.6,323.6 395.9,314.5 398.0,306.7 C400.1,298.9 401.7,290.8 402.5,283.0 C403.3,275.2 402.9,267.2 403.0,260.0 C403.1,252.8 403.0,243.3 403.0,240.0 LZ" fill="#92cd80"/><path d="M198.0,215.0 C198.0,217.8 199.1,226.2 198.0,231.7 C196.9,237.2 193.6,241.6 191.7,248.0 C189.8,254.4 187.4,263.0 186.7,270.0 C186.0,277.0 186.4,283.3 187.5,290.0 C188.6,296.7 190.1,303.1 193.0,310.0 C195.9,316.9 200.5,325.4 205.0,331.7 C209.5,338.0 214.2,342.8 220.0,348.0 C225.8,353.2 233.3,359.1 240.0,363.0 C246.7,366.9 252.5,369.3 260.0,371.7 C267.5,374.1 276.7,376.4 285.0,377.5 C293.3,378.6 301.7,378.8 310.0,378.0 C318.3,377.2 326.7,376.0 335.0,373.0 C343.3,370.0 353.1,364.7 360.0,360.0 C366.9,355.3 371.7,350.0 376.7,345.0 C381.7,340.0 386.4,336.4 390.0,330.0 C393.6,323.6 395.9,314.5 398.0,306.7 C400.1,298.9 401.7,290.8 402.5,283.0 C403.3,275.2 402.9,267.2 403.0,260.0 C403.1,252.8 403.0,243.3 403.0,240.0" fill="none" stroke="#34503a" stroke-opacity="0.8" stroke-width="0.8"/><path d="M241.0,225.0 C240.8,227.6 241.6,235.3 240.0,240.8 C238.4,246.3 233.9,251.8 231.7,258.0 C229.5,264.2 227.5,271.8 226.7,278.0 C225.9,284.2 225.6,288.8 226.7,295.0 C227.8,301.2 229.7,308.9 233.0,315.0 C236.3,321.1 241.7,327.2 246.7,331.7 C251.7,336.1 256.6,339.0 263.0,341.7 C269.4,344.4 277.7,347.2 285.0,348.0 C292.3,348.8 299.8,348.4 306.7,346.7 C313.6,345.0 320.6,341.9 326.7,338.0 C332.8,334.1 338.3,328.8 343.0,323.0 C347.7,317.2 352.2,309.7 355.0,303.0 C357.8,296.3 359.5,289.1 360.0,283.0 C360.5,276.9 358.8,271.2 358.0,266.7 C357.2,262.2 355.7,260.2 355.0,255.8 C354.3,251.4 354.2,242.6 354.0,240.0 LZ" fill="#48b135"/><path d="M241.0,225.0 C240.8,227.6 241.6,235.3 240.0,240.8 C238.4,246.3 233.9,251.8 231.7,258.0 C229.5,264.2 227.5,271.8 226.7,278.0 C225.9,284.2 225.6,288.8 226.7,295.0 C227.8,301.2 229.7,308.9 233.0,315.0 C236.3,321.1 241.7,327.2 246.7,331.7 C251.7,336.1 256.6,339.0 263.0,341.7 C269.4,344.4 277.7,347.2 285.0,348.0 C292.3,348.8 299.8,348.4 306.7,346.7 C313.6,345.0 320.6,341.9 326.7,338.0 C332.8,334.1 338.3,328.8 343.0,323.0 C347.7,317.2 352.2,309.7 355.0,303.0 C357.8,296.3 359.5,289.1 360.0,283.0 C360.5,276.9 358.8,271.2 358.0,266.7 C357.2,262.2 355.7,260.2 355.0,255.8 C354.3,251.4 354.2,242.6 354.0,240.0" fill="none" stroke="#2a4a2c" stroke-opacity="0.8" stroke-width="0.8"/><path d="M60.0,425.0 C63.3,426.2 75.5,429.8 80.0,432.0 C84.5,434.2 83.1,435.6 86.7,438.0 C90.3,440.4 96.5,443.0 101.7,446.7 C106.9,450.4 112.5,455.6 118.0,460.0 C123.5,464.4 129.4,468.6 135.0,473.0 C140.6,477.4 146.2,482.8 151.7,486.7 C157.2,490.6 162.4,494.0 168.0,496.7 C173.6,499.4 179.4,501.5 185.0,503.0 C190.6,504.5 196.2,505.3 201.7,505.8 C207.2,506.3 212.4,506.1 218.0,506.0 C223.6,505.9 229.4,505.6 235.0,505.0 C240.6,504.4 246.2,503.5 251.7,502.5 C257.2,501.5 262.4,500.2 268.0,499.0 C273.6,497.8 279.4,496.7 285.0,495.0 C290.6,493.3 296.2,491.0 301.7,489.0 C307.2,487.0 312.4,484.9 318.0,483.0 C323.6,481.1 329.4,479.2 335.0,477.5 C340.6,475.8 346.2,474.1 351.7,473.0 C357.2,471.9 363.3,471.4 368.0,471.0 C372.7,470.6 376.3,470.1 380.0,470.8 C383.7,471.5 386.7,473.2 390.0,475.0 C393.3,476.8 396.7,478.7 400.0,481.7 C403.3,484.7 407.2,489.1 410.0,493.0 C412.8,496.9 414.5,500.2 416.7,505.0 C418.9,509.8 421.1,516.2 423.0,521.7 C424.9,527.2 426.2,533.3 428.0,538.0 C429.8,542.7 432.0,546.7 434.0,550.0 C436.0,553.3 437.9,555.5 440.0,558.0 C442.1,560.5 443.1,561.7 446.7,565.0 C450.3,568.3 456.5,574.2 461.7,578.0 C466.9,581.8 472.4,585.3 478.0,588.0 C483.6,590.7 489.4,592.4 495.0,594.0 C500.6,595.6 506.2,596.7 511.7,597.5 C517.2,598.3 522.5,598.7 528.0,598.7 C533.5,598.7 539.4,598.3 545.0,597.5 C550.6,596.7 556.2,595.2 561.7,594.0 C567.2,592.8 572.5,591.8 578.0,590.0 C583.5,588.2 589.4,585.5 595.0,583.0 C600.6,580.5 606.2,578.0 611.7,575.0 C617.2,572.0 622.5,568.3 628.0,565.0 C633.5,561.7 639.4,558.3 645.0,555.0 C650.6,551.7 657.4,547.7 661.7,545.0 C666.0,542.3 665.5,543.0 671.0,539.0 C676.5,535.0 688.0,526.1 694.5,521.0 C701.0,515.9 704.8,513.6 710.0,508.6 C715.2,503.7 720.7,497.3 726.0,491.3 C731.3,485.3 736.0,479.5 741.7,472.4 C747.4,465.3 754.8,455.8 760.0,448.7 C765.2,441.6 768.0,435.3 773.0,430.0 C778.0,424.7 784.4,420.6 790.0,416.7 C795.6,412.8 801.4,409.3 806.7,406.7 C812.0,404.1 816.2,402.8 821.7,400.8 C827.2,398.9 837.0,396.0 840.0,395.0 L900.0,395.0 L900.0,760.0 L60.0,760.0Z" fill="#f1d594"/><path d="M60.0,425.0 C63.3,426.2 75.5,429.8 80.0,432.0 C84.5,434.2 83.1,435.6 86.7,438.0 C90.3,440.4 96.5,443.0 101.7,446.7 C106.9,450.4 112.5,455.6 118.0,460.0 C123.5,464.4 129.4,468.6 135.0,473.0 C140.6,477.4 146.2,482.8 151.7,486.7 C157.2,490.6 162.4,494.0 168.0,496.7 C173.6,499.4 179.4,501.5 185.0,503.0 C190.6,504.5 196.2,505.3 201.7,505.8 C207.2,506.3 212.4,506.1 218.0,506.0 C223.6,505.9 229.4,505.6 235.0,505.0 C240.6,504.4 246.2,503.5 251.7,502.5 C257.2,501.5 262.4,500.2 268.0,499.0 C273.6,497.8 279.4,496.7 285.0,495.0 C290.6,493.3 296.2,491.0 301.7,489.0 C307.2,487.0 312.4,484.9 318.0,483.0 C323.6,481.1 329.4,479.2 335.0,477.5 C340.6,475.8 346.2,474.1 351.7,473.0 C357.2,471.9 363.3,471.4 368.0,471.0 C372.7,470.6 376.3,470.1 380.0,470.8 C383.7,471.5 386.7,473.2 390.0,475.0 C393.3,476.8 396.7,478.7 400.0,481.7 C403.3,484.7 407.2,489.1 410.0,493.0 C412.8,496.9 414.5,500.2 416.7,505.0 C418.9,509.8 421.1,516.2 423.0,521.7 C424.9,527.2 426.2,533.3 428.0,538.0 C429.8,542.7 432.0,546.7 434.0,550.0 C436.0,553.3 437.9,555.5 440.0,558.0 C442.1,560.5 443.1,561.7 446.7,565.0 C450.3,568.3 456.5,574.2 461.7,578.0 C466.9,581.8 472.4,585.3 478.0,588.0 C483.6,590.7 489.4,592.4 495.0,594.0 C500.6,595.6 506.2,596.7 511.7,597.5 C517.2,598.3 522.5,598.7 528.0,598.7 C533.5,598.7 539.4,598.3 545.0,597.5 C550.6,596.7 556.2,595.2 561.7,594.0 C567.2,592.8 572.5,591.8 578.0,590.0 C583.5,588.2 589.4,585.5 595.0,583.0 C600.6,580.5 606.2,578.0 611.7,575.0 C617.2,572.0 622.5,568.3 628.0,565.0 C633.5,561.7 639.4,558.3 645.0,555.0 C650.6,551.7 657.4,547.7 661.7,545.0 C666.0,542.3 665.5,543.0 671.0,539.0 C676.5,535.0 688.0,526.1 694.5,521.0 C701.0,515.9 704.8,513.6 710.0,508.6 C715.2,503.7 720.7,497.3 726.0,491.3 C731.3,485.3 736.0,479.5 741.7,472.4 C747.4,465.3 754.8,455.8 760.0,448.7 C765.2,441.6 768.0,435.3 773.0,430.0 C778.0,424.7 784.4,420.6 790.0,416.7 C795.6,412.8 801.4,409.3 806.7,406.7 C812.0,404.1 816.2,402.8 821.7,400.8 C827.2,398.9 837.0,396.0 840.0,395.0" fill="none" stroke="#4f4632" stroke-opacity="0.8" stroke-width="0.8"/><path d="M600.0,655.0 C606.7,648.3 628.0,626.5 640.0,615.0 C652.0,603.5 662.5,594.3 672.0,586.0 C681.5,577.7 688.7,572.0 697.0,565.0 C705.3,558.0 715.2,554.0 722.0,544.0 C728.8,534.0 732.0,514.4 737.5,505.0 C743.0,495.6 748.1,494.0 755.0,487.5 C761.9,481.0 772.3,471.2 779.0,465.8 C785.7,460.4 792.3,456.8 795.0,455.0" fill="none" stroke="#4f4632" stroke-opacity="0" stroke-width=".5"/><path d="M280.0,640.0 C280.0,631.7 279.7,601.2 280.0,590.0 C280.3,578.8 280.6,578.5 281.7,573.0 C282.8,567.5 284.5,561.7 286.7,556.7 C288.9,551.7 292.5,546.6 295.0,543.0 C297.5,539.4 298.4,537.5 301.7,535.0 C305.0,532.5 310.3,529.5 315.0,528.0 C319.7,526.5 325.3,526.0 330.0,526.0 C334.7,526.0 338.6,526.2 343.0,528.0 C347.4,529.8 352.2,533.4 356.7,536.7 C361.2,540.0 365.8,544.1 370.0,548.0 C374.2,551.9 375.6,554.2 381.7,560.0 C387.8,565.8 400.1,577.0 406.7,583.0 C413.2,589.0 416.0,591.8 421.0,596.0 C426.0,600.2 431.4,603.7 436.7,608.0 C442.0,612.3 447.4,616.9 453.0,621.7 C458.6,626.5 464.4,632.0 470.0,636.7 C475.6,641.4 481.7,646.5 486.7,650.0 C491.7,653.5 494.4,654.3 500.0,658.0 C505.6,661.7 516.7,669.7 520.0,672.0 L520.0,760.0 L280.0,760.0Z" fill="#dba955"/><path d="M280.0,640.0 C280.0,631.7 279.7,601.2 280.0,590.0 C280.3,578.8 280.6,578.5 281.7,573.0 C282.8,567.5 284.5,561.7 286.7,556.7 C288.9,551.7 292.5,546.6 295.0,543.0 C297.5,539.4 298.4,537.5 301.7,535.0 C305.0,532.5 310.3,529.5 315.0,528.0 C319.7,526.5 325.3,526.0 330.0,526.0 C334.7,526.0 338.6,526.2 343.0,528.0 C347.4,529.8 352.2,533.4 356.7,536.7 C361.2,540.0 365.8,544.1 370.0,548.0 C374.2,551.9 375.6,554.2 381.7,560.0 C387.8,565.8 400.1,577.0 406.7,583.0 C413.2,589.0 416.0,591.8 421.0,596.0 C426.0,600.2 431.4,603.7 436.7,608.0 C442.0,612.3 447.4,616.9 453.0,621.7 C458.6,626.5 464.4,632.0 470.0,636.7 C475.6,641.4 481.7,646.5 486.7,650.0 C491.7,653.5 494.4,654.3 500.0,658.0 C505.6,661.7 516.7,669.7 520.0,672.0" fill="none" stroke="#4f4632" stroke-opacity="0.8" stroke-width="0.8"/><path d="M575.0,662.0 C577.0,659.7 582.0,652.8 586.7,648.0 C591.4,643.2 597.5,637.7 603.0,633.0 C608.5,628.3 615.5,623.3 620.0,620.0 C624.5,616.7 624.2,618.0 630.0,613.0 C635.8,608.0 646.7,598.0 655.0,590.0 C663.3,582.0 671.7,573.2 680.0,565.0 C688.3,556.8 698.9,546.6 705.0,540.8 C711.1,535.0 713.1,533.5 716.7,530.0 C720.3,526.5 723.2,523.7 726.7,520.0 C730.2,516.3 733.3,513.0 738.0,508.0 C742.7,503.0 749.4,495.8 755.0,490.0 C760.6,484.2 766.4,477.7 771.7,473.0 C777.0,468.3 782.0,465.2 786.7,461.7 C791.4,458.2 792.8,456.4 800.0,452.0 C807.2,447.6 825.0,437.8 830.0,435.0 L830.0,600.0 L758.0,633.0 L735.0,656.7 L700.0,690.0 L575.0,690.0Z" fill="#dba955"/><path d="M575.0,662.0 C577.0,659.7 582.0,652.8 586.7,648.0 C591.4,643.2 597.5,637.7 603.0,633.0 C608.5,628.3 615.5,623.3 620.0,620.0 C624.5,616.7 624.2,618.0 630.0,613.0 C635.8,608.0 646.7,598.0 655.0,590.0 C663.3,582.0 671.7,573.2 680.0,565.0 C688.3,556.8 698.9,546.6 705.0,540.8 C711.1,535.0 713.1,533.5 716.7,530.0 C720.3,526.5 723.2,523.7 726.7,520.0 C730.2,516.3 733.3,513.0 738.0,508.0 C742.7,503.0 749.4,495.8 755.0,490.0 C760.6,484.2 766.4,477.7 771.7,473.0 C777.0,468.3 782.0,465.2 786.7,461.7 C791.4,458.2 792.8,456.4 800.0,452.0 C807.2,447.6 825.0,437.8 830.0,435.0" fill="none" stroke="#4f4632" stroke-opacity="0.8" stroke-width="0.8"/><path d="M735,656.7 L758,633" stroke="#4f4632" stroke-opacity=".45" stroke-width=".7"/><path d="M640.0,625.0 C641.1,622.5 641.4,616.4 646.7,610.0 C652.0,603.6 663.4,594.2 671.7,586.7 C680.0,579.2 688.4,572.1 696.7,565.0 C705.0,557.9 713.7,550.7 721.7,544.0 C729.8,537.3 737.8,531.0 745.0,525.0 C752.2,519.0 757.5,514.2 765.0,508.0 C772.5,501.8 779.2,496.0 790.0,488.0 C800.8,480.0 823.3,464.7 830.0,460.0 L830.0,590.0 L748.0,618.0 L726.7,638.0 L640.0,650.0Z" fill="#d8a24e"/><path d="M640.0,625.0 C641.1,622.5 641.4,616.4 646.7,610.0 C652.0,603.6 663.4,594.2 671.7,586.7 C680.0,579.2 688.4,572.1 696.7,565.0 C705.0,557.9 713.7,550.7 721.7,544.0 C729.8,537.3 737.8,531.0 745.0,525.0 C752.2,519.0 757.5,514.2 765.0,508.0 C772.5,501.8 779.2,496.0 790.0,488.0 C800.8,480.0 823.3,464.7 830.0,460.0" fill="none" stroke="#4f4632" stroke-opacity="0.35" stroke-width="0.5"/><path d="M640.0,640.0 C641.3,637.5 646.2,628.3 648.0,625.0 C649.8,621.7 649.6,622.5 650.8,620.0 C652.0,617.5 652.2,613.9 655.0,610.0 C657.8,606.1 663.3,601.2 667.5,596.7 C671.7,592.2 675.1,587.2 680.0,583.0 C684.9,578.8 689.8,576.1 696.7,571.7 C703.7,567.3 714.5,561.2 721.7,556.7 C728.9,552.2 734.2,547.8 740.0,545.0 C745.8,542.2 752.2,540.7 756.7,540.0 C761.2,539.3 761.2,539.8 766.7,540.8 C772.2,541.8 786.1,545.1 790.0,546.0 L790.0,606.0 L748.0,618.0 L726.7,638.0 L700.0,655.0 L640.0,655.0Z" fill="#c5753a"/><path d="M640.0,640.0 C641.3,637.5 646.2,628.3 648.0,625.0 C649.8,621.7 649.6,622.5 650.8,620.0 C652.0,617.5 652.2,613.9 655.0,610.0 C657.8,606.1 663.3,601.2 667.5,596.7 C671.7,592.2 675.1,587.2 680.0,583.0 C684.9,578.8 689.8,576.1 696.7,571.7 C703.7,567.3 714.5,561.2 721.7,556.7 C728.9,552.2 734.2,547.8 740.0,545.0 C745.8,542.2 752.2,540.7 756.7,540.0 C761.2,539.3 761.2,539.8 766.7,540.8 C772.2,541.8 786.1,545.1 790.0,546.0" fill="none" stroke="#4f3a30" stroke-opacity="0.8" stroke-width="0.8"/><path d="M726.7,638 L748,618" stroke="#4f3a30" stroke-opacity=".45" stroke-width=".7"/></g><g clip-path="url(#akland)"><path d="M316.0,640.0 C315.3,642.8 314.4,651.4 311.7,656.7 C309.0,662.0 303.6,665.9 300.0,671.7 C296.4,677.5 292.8,684.2 290.0,691.7 C287.2,699.2 285.0,708.2 283.0,716.7 C281.0,725.2 279.7,734.7 278.0,743.0 C276.3,751.3 274.9,759.4 273.0,766.7 C271.1,774.0 269.4,779.7 266.7,786.7 C264.0,793.8 259.8,803.1 256.7,809.0 C253.6,814.9 249.4,819.8 248.0,822.0 L140.0,900.0 L140.0,640.0Z" fill="#b3d9ab"/><path d="M316.0,640.0 C315.3,642.8 314.4,651.4 311.7,656.7 C309.0,662.0 303.6,665.9 300.0,671.7 C296.4,677.5 292.8,684.2 290.0,691.7 C287.2,699.2 285.0,708.2 283.0,716.7 C281.0,725.2 279.7,734.7 278.0,743.0 C276.3,751.3 274.9,759.4 273.0,766.7 C271.1,774.0 269.4,779.7 266.7,786.7 C264.0,793.8 259.8,803.1 256.7,809.0 C253.6,814.9 249.4,819.8 248.0,822.0" fill="none" stroke="#34503a" stroke-opacity="0.8" stroke-width="0.8"/><path d="M259.0,640.0 C259.0,641.7 258.6,643.3 259.0,650.0 C259.4,656.7 261.0,670.8 261.7,680.0 C262.4,689.2 263.0,696.7 263.0,705.0 C263.0,713.3 262.8,721.7 261.7,730.0 C260.6,738.3 258.6,747.5 256.7,755.0 C254.8,762.5 252.8,768.3 250.0,775.0 C247.2,781.7 243.7,789.0 240.0,795.0 C236.3,801.0 232.2,806.0 228.0,811.0 C223.8,816.0 217.2,822.7 215.0,825.0 L140.0,900.0 L140.0,640.0Z" fill="#92cd80"/><path d="M259.0,640.0 C259.0,641.7 258.6,643.3 259.0,650.0 C259.4,656.7 261.0,670.8 261.7,680.0 C262.4,689.2 263.0,696.7 263.0,705.0 C263.0,713.3 262.8,721.7 261.7,730.0 C260.6,738.3 258.6,747.5 256.7,755.0 C254.8,762.5 252.8,768.3 250.0,775.0 C247.2,781.7 243.7,789.0 240.0,795.0 C236.3,801.0 232.2,806.0 228.0,811.0 C223.8,816.0 217.2,822.7 215.0,825.0" fill="none" stroke="#34503a" stroke-opacity="0.8" stroke-width="0.8"/><path d="M380.0,752.0 C377.7,752.7 371.4,754.2 366.0,756.0 C360.6,757.8 353.1,760.0 347.5,762.5 C341.9,765.0 337.1,768.2 332.5,771.0 C327.9,773.8 323.2,777.2 320.0,779.5 C316.8,781.8 315.1,782.8 313.0,785.0 C310.9,787.2 309.2,789.8 307.5,792.5 C305.8,795.2 303.9,798.4 302.5,801.0 C301.1,803.6 299.6,806.8 299.0,808.0 L300.0,816.0 L480.0,870.0 L480.0,752.0Z" fill="#f1d594"/><path d="M380.0,752.0 C377.7,752.7 371.4,754.2 366.0,756.0 C360.6,757.8 353.1,760.0 347.5,762.5 C341.9,765.0 337.1,768.2 332.5,771.0 C327.9,773.8 323.2,777.2 320.0,779.5 C316.8,781.8 315.1,782.8 313.0,785.0 C310.9,787.2 309.2,789.8 307.5,792.5 C305.8,795.2 303.9,798.4 302.5,801.0 C301.1,803.6 299.6,806.8 299.0,808.0" fill="none" stroke="#4f4632" stroke-opacity="0.8" stroke-width="0.8"/></g><use href="#base"/><text x="261.7" y="300.0" font-size="19.8" text-anchor="start" textLength="58.0" lengthAdjust="spacingAndGlyphs" class="lb">Above</text><text x="455.0" y="441.7" font-size="19.8" text-anchor="middle" textLength="51.0" lengthAdjust="spacingAndGlyphs" class="lb">Equal</text><text x="455.0" y="465.8" font-size="19.8" text-anchor="middle" textLength="80.0" lengthAdjust="spacingAndGlyphs" class="lb">Chances</text><text x="615.0" y="434.0" font-size="19.8" text-anchor="start" textLength="56.7" lengthAdjust="spacingAndGlyphs" class="lb">Above</text><text x="345.8" y="608.3" font-size="19.8" text-anchor="start" textLength="55.0" lengthAdjust="spacingAndGlyphs" class="lb">Below</text><text x="682.5" y="600.8" font-size="19.8" text-anchor="start" textLength="55.0" lengthAdjust="spacingAndGlyphs" class="lb">Below</text><text x="731.7" y="675.8" font-size="19.8" text-anchor="start" textLength="55.0" lengthAdjust="spacingAndGlyphs" class="lb">Below</text><text x="207.5" y="728.3" font-size="19.8" text-anchor="start" textLength="57.5" lengthAdjust="spacingAndGlyphs" class="lb">Above</text><text x="318.0" y="723.3" font-size="19.8" text-anchor="middle" textLength="50.0" lengthAdjust="spacingAndGlyphs" class="lb">Equal</text><text x="318.5" y="748.3" font-size="19.8" text-anchor="middle" textLength="79.0" lengthAdjust="spacingAndGlyphs" class="lb">Chances</text><text x="333.0" y="787.5" font-size="19.8" text-anchor="start" textLength="55.0" lengthAdjust="spacingAndGlyphs" class="lb">Below</text><text x="480" y="191.5" font-size="43.3" text-anchor="middle" textLength="593" lengthAdjust="spacingAndGlyphs" font-family="Liberation Sans, Arial, sans-serif" fill="#0c0c0c" stroke="#0c0c0c" stroke-width=".4">Seasonal Precipitation Outlook</text><g font-family="Liberation Sans, Arial, sans-serif" fill="#111" font-size="19.4"><text x="366.7" y="220" font-weight="700" textLength="54" lengthAdjust="spacingAndGlyphs">Valid:</text><text x="435" y="220" textLength="180" lengthAdjust="spacingAndGlyphs">Dec-Jan-Feb 2025-26</text><text x="366.7" y="242.7" font-weight="700" textLength="71" lengthAdjust="spacingAndGlyphs">Issued:</text><text x="451.7" y="242.7" textLength="167.6" lengthAdjust="spacingAndGlyphs">November 20, 2025</text></g><g transform="translate(43.75,186.7)"><circle r="25" fill="#2e97d4"/><circle r="18.8" fill="#fff"/><text font-family="Liberation Sans, Arial, sans-serif" font-weight="700" font-size="4.1" fill="#cfeafa"><textPath href="#rt" startOffset="50%" text-anchor="middle" textLength="56" lengthAdjust="spacingAndGlyphs">DEPARTMENT OF COMMERCE</textPath></text><text font-family="Liberation Sans, Arial, sans-serif" font-weight="700" font-size="4.1" fill="#cfeafa"><textPath href="#rb" startOffset="50%" text-anchor="middle" textLength="62" lengthAdjust="spacingAndGlyphs">UNITED STATES OF AMERICA</textPath></text><circle cx="-21.8" cy="1.2" r=".8" fill="#cfeafa"/><circle cx="21.8" cy="1.2" r=".8" fill="#cfeafa"/><path d="M-10.7,-3.8 H10.8 V8 Q10.8,14 0,17.6 Q-10.7,14 -10.7,8Z" fill="#f2b51d"/><path d="M-10.7,-3.8 H10.8 V5.2 H-10.7Z" fill="#1d86c8"/><path d="M-6,2.5 Q0,-2.5 6,2.5 Q0,4 -6,2.5Z" fill="#e8eef2"/><path d="M-10.7,4.6 H10.8 V6 H-10.7Z" fill="#2a4a3a"/><path d="M-0.6,6 h1.2 v10.5 h-1.2Z" fill="#b8860b"/><path d="M-6.8,-15.8 L-2.2,-10.8 L0,-12.6 L2.2,-10.8 L7,-15.8 L4.2,-8.6 L2,-6.4 L3.6,-5 H-3.6 L-2,-6.4 L-4.2,-8.6Z" fill="#b08a1e"/></g><g transform="translate(916.5,187.5)"><circle r="26.5" fill="#1a8bd8"/><path d="M-26.1,-6.7 A26.5,26.5 0 0 1 -21.5,-15.4 L-9.8,-0.8 Q-5.7,3.6 -1.5,5.4 Q2.7,5.2 6.8,1.7 Q10.2,-2.5 13.5,-8.3 L20.2,-16.2 A26.5,26.5 0 0 1 25.6,-7.9 Q21.8,-6.7 16.8,-2.5 Q11.8,3.3 6.8,7.5 Q1.8,10.6 -3.2,10.8 Q-6,10.8 -8.6,10 Q-5,9 -3.2,7.1 Q-6.5,5.8 -11.5,2.5 L-19,-2.5 Z" fill="#fff"/><path d="M-21.5,-15.5 A26.5,26.5 0 0 1 20.2,-17.2 L13.5,-8.3 Q10.2,-2.5 6.8,1.7 Q2.7,5.2 -1.5,5.4 Q-5.7,3.6 -9.8,-0.8 Z" fill="#1c3f9e"/><text x="-0.2" y="-9.6" font-family="Liberation Sans, Arial, sans-serif" font-weight="700" font-size="8" fill="#fff" text-anchor="middle" textLength="21.2" lengthAdjust="spacingAndGlyphs">NOAA</text></g><g font-family="Liberation Sans, Arial, sans-serif" fill="#1a1a1a"><text x="781" y="740.8" font-size="10.6" font-weight="700" text-anchor="middle" textLength="60" lengthAdjust="spacingAndGlyphs">Probability</text><text x="781" y="754.8" font-size="10.6" font-weight="700" text-anchor="middle" textLength="97" lengthAdjust="spacingAndGlyphs">(Percent Chance)</text><text x="700.7" y="769.2" font-size="9.1" font-weight="700" text-anchor="middle">Above</text><text x="700.7" y="779.6" font-size="9.1" font-weight="700" text-anchor="middle">Normal</text><text x="781" y="769.2" font-size="9.1" font-weight="700" text-anchor="middle">Near</text><text x="781" y="779.6" font-size="9.1" font-weight="700" text-anchor="middle">Normal</text><text x="862" y="769.2" font-size="9.1" font-weight="700" text-anchor="middle">Below</text><text x="862" y="779.6" font-size="9.1" font-weight="700" text-anchor="middle">Normal</text><rect x="676.3" y="783.75" width="23.7" height="11.8" fill="#b4d9ab"/><text x="703.7" y="793.15" font-size="9.6" fill="#222" textLength="31" lengthAdjust="spacingAndGlyphs">33-40%</text><rect x="676.3" y="798.94" width="23.7" height="11.8" fill="#94cd80"/><text x="703.7" y="808.34" font-size="9.6" fill="#222" textLength="31" lengthAdjust="spacingAndGlyphs">40-50%</text><rect x="676.3" y="814.13" width="23.7" height="11.8" fill="#4bb03a"/><text x="703.7" y="823.53" font-size="9.6" fill="#222" textLength="31" lengthAdjust="spacingAndGlyphs">50-60%</text><rect x="676.3" y="829.32" width="23.7" height="11.8" fill="#0f9a33"/><text x="703.7" y="838.72" font-size="9.6" fill="#222" textLength="31" lengthAdjust="spacingAndGlyphs">60-70%</text><rect x="676.3" y="844.51" width="23.7" height="11.8" fill="#04812e"/><text x="703.7" y="853.91" font-size="9.6" fill="#222" textLength="31" lengthAdjust="spacingAndGlyphs">70-80%</text><rect x="676.3" y="859.70" width="23.7" height="11.8" fill="#2a6a1a"/><text x="703.7" y="869.10" font-size="9.6" fill="#222" textLength="31" lengthAdjust="spacingAndGlyphs">80-90%</text><rect x="676.3" y="874.89" width="23.7" height="11.8" fill="#285517"/><text x="703.7" y="884.29" font-size="9.6" fill="#222" textLength="36.2" lengthAdjust="spacingAndGlyphs">90-100%</text><rect x="862" y="783.75" width="23.7" height="11.8" fill="#f0d493"/><text x="857.8" y="793.15" font-size="9.6" fill="#222" text-anchor="end" textLength="31" lengthAdjust="spacingAndGlyphs">33-40%</text><rect x="862" y="798.94" width="23.7" height="11.8" fill="#dba855"/><text x="857.8" y="808.34" font-size="9.6" fill="#222" text-anchor="end" textLength="31" lengthAdjust="spacingAndGlyphs">40-50%</text><rect x="862" y="814.13" width="23.7" height="11.8" fill="#c5763a"/><text x="857.8" y="823.53" font-size="9.6" fill="#222" text-anchor="end" textLength="31" lengthAdjust="spacingAndGlyphs">50-60%</text><rect x="862" y="829.32" width="23.7" height="11.8" fill="#a5542f"/><text x="857.8" y="838.72" font-size="9.6" fill="#222" text-anchor="end" textLength="31" lengthAdjust="spacingAndGlyphs">60-70%</text><rect x="862" y="844.51" width="23.7" height="11.8" fill="#9e4238"/><text x="857.8" y="853.91" font-size="9.6" fill="#222" text-anchor="end" textLength="31" lengthAdjust="spacingAndGlyphs">70-80%</text><rect x="862" y="859.70" width="23.7" height="11.8" fill="#7f3f05"/><text x="857.8" y="869.10" font-size="9.6" fill="#222" text-anchor="end" textLength="31" lengthAdjust="spacingAndGlyphs">80-90%</text><rect x="862" y="874.89" width="23.7" height="11.8" fill="#4d2e2e"/><text x="857.8" y="884.29" font-size="9.6" fill="#222" text-anchor="end" textLength="36.2" lengthAdjust="spacingAndGlyphs">90-100%</text><rect x="751.3" y="784.35" width="23.7" height="11.4" fill="#d2d2d2"/><text x="778.7" y="793.55" font-size="9.6" fill="#222" textLength="31" lengthAdjust="spacingAndGlyphs">33-40%</text><rect x="751.3" y="799.54" width="23.7" height="11.4" fill="#a2a2a2"/><text x="778.7" y="808.74" font-size="9.6" fill="#222" textLength="31" lengthAdjust="spacingAndGlyphs">40-50%</text><text x="781" y="829.2" font-size="9.1" font-weight="700" text-anchor="middle">Equal</text><text x="781" y="839.8" font-size="9.1" font-weight="700" text-anchor="middle">Chances</text><rect x="769" y="844.8" width="24" height="11.6" fill="#fff" stroke="#8a8a8a" stroke-width=".8"/><text x="636" y="795" font-size="11" text-anchor="middle" textLength="36.6" lengthAdjust="spacingAndGlyphs">Leaning</text><text x="636" y="807.2" font-size="11" text-anchor="middle" textLength="28.1" lengthAdjust="spacingAndGlyphs">Above</text><text x="636" y="849.2" font-size="11" text-anchor="middle" textLength="26" lengthAdjust="spacingAndGlyphs">Likely</text><text x="636" y="861.8" font-size="11" text-anchor="middle" textLength="28.1" lengthAdjust="spacingAndGlyphs">Above</text><text x="926" y="795" font-size="11" text-anchor="middle" textLength="36.6" lengthAdjust="spacingAndGlyphs">Leaning</text><text x="926" y="807.2" font-size="11" text-anchor="middle" textLength="27" lengthAdjust="spacingAndGlyphs">Below</text><text x="926" y="849.2" font-size="11" text-anchor="middle" textLength="26" lengthAdjust="spacingAndGlyphs">Likely</text><text x="926" y="861.8" font-size="11" text-anchor="middle" textLength="27" lengthAdjust="spacingAndGlyphs">Below</text><path d="M674,784 C665.5,784 668.05,787 665.5,792.75 C665.5,796.25 662.1,797.75 657,797.75 C662.1,797.75 665.5,799.25 665.5,802.75 C668.05,808.5 665.5,811.5 674,811.5" fill="none" stroke="#333" stroke-width=".85"/><path d="M674,814 C665.5,814 668.05,817 665.5,845.5 C665.5,849.0 662.1,850.5 657,850.5 C662.1,850.5 665.5,852.0 665.5,855.5 C668.05,884 665.5,887 674,887" fill="none" stroke="#333" stroke-width=".85"/><path d="M888,784 C896.5,784 893.95,787 896.5,792.75 C896.5,796.25 899.9,797.75 905,797.75 C899.9,797.75 896.5,799.25 896.5,802.75 C893.95,808.5 896.5,811.5 888,811.5" fill="none" stroke="#333" stroke-width=".85"/><path d="M888,814 C896.5,814 893.95,817 896.5,845.5 C896.5,849.0 899.9,850.5 905,850.5 C899.9,850.5 896.5,852.0 896.5,855.5 C893.95,884 896.5,887 888,887" fill="none" stroke="#333" stroke-width=".85"/></g></g><g transform="translate(960,0)"><g clip-path="url(#land)"><path d="M95.0,279.0 C97.5,279.4 99.2,279.4 110.0,281.7 C120.8,283.9 143.3,288.3 160.0,292.5 C176.7,296.7 193.3,301.6 210.0,306.7 C226.7,311.8 246.2,317.8 260.0,323.0 C273.8,328.2 281.9,331.8 293.0,338.0 C304.1,344.2 316.9,353.0 326.7,360.0 C336.5,367.0 344.8,372.8 351.7,380.0 C358.6,387.2 363.3,397.5 368.0,403.0 C372.7,408.5 376.3,409.9 380.0,413.0 C383.7,416.1 385.6,418.6 390.0,421.7 C394.4,424.8 400.0,428.6 406.7,431.7 C413.4,434.8 421.9,437.9 430.0,440.0 C438.1,442.1 446.7,443.2 455.0,444.0 C463.3,444.8 471.7,444.9 480.0,444.7 C488.3,444.4 496.7,443.7 505.0,442.5 C513.3,441.3 521.7,439.6 530.0,437.5 C538.3,435.4 546.7,432.9 555.0,430.0 C563.3,427.1 572.5,423.3 580.0,420.0 C587.5,416.7 594.5,413.1 600.0,410.0 C605.5,406.9 609.7,403.9 613.0,401.7 C616.3,399.5 617.2,399.0 620.0,396.7 C622.8,394.4 626.7,390.8 630.0,388.0 C633.3,385.2 636.7,383.3 640.0,380.0 C643.3,376.7 646.2,372.7 650.0,368.0 C653.8,363.3 659.8,356.7 663.0,351.7 C666.2,346.7 667.3,342.1 669.0,338.0 C670.7,333.9 670.8,331.3 673.0,327.0 C675.2,322.7 677.5,317.3 682.0,312.0 C686.5,306.7 697.0,297.8 700.0,295.0 L740.0,280.0 L740.0,200.0 L95.0,200.0Z" fill="#bfcce6"/><path d="M95.0,279.0 C97.5,279.4 99.2,279.4 110.0,281.7 C120.8,283.9 143.3,288.3 160.0,292.5 C176.7,296.7 193.3,301.6 210.0,306.7 C226.7,311.8 246.2,317.8 260.0,323.0 C273.8,328.2 281.9,331.8 293.0,338.0 C304.1,344.2 316.9,353.0 326.7,360.0 C336.5,367.0 344.8,372.8 351.7,380.0 C358.6,387.2 363.3,397.5 368.0,403.0 C372.7,408.5 376.3,409.9 380.0,413.0 C383.7,416.1 385.6,418.6 390.0,421.7 C394.4,424.8 400.0,428.6 406.7,431.7 C413.4,434.8 421.9,437.9 430.0,440.0 C438.1,442.1 446.7,443.2 455.0,444.0 C463.3,444.8 471.7,444.9 480.0,444.7 C488.3,444.4 496.7,443.7 505.0,442.5 C513.3,441.3 521.7,439.6 530.0,437.5 C538.3,435.4 546.7,432.9 555.0,430.0 C563.3,427.1 572.5,423.3 580.0,420.0 C587.5,416.7 594.5,413.1 600.0,410.0 C605.5,406.9 609.7,403.9 613.0,401.7 C616.3,399.5 617.2,399.0 620.0,396.7 C622.8,394.4 626.7,390.8 630.0,388.0 C633.3,385.2 636.7,383.3 640.0,380.0 C643.3,376.7 646.2,372.7 650.0,368.0 C653.8,363.3 659.8,356.7 663.0,351.7 C666.2,346.7 667.3,342.1 669.0,338.0 C670.7,333.9 670.8,331.3 673.0,327.0 C675.2,322.7 677.5,317.3 682.0,312.0 C686.5,306.7 697.0,297.8 700.0,295.0" fill="none" stroke="#3f4a62" stroke-opacity="0.8" stroke-width="0.8"/><path d="M160.0,205.0 C160.0,207.8 158.9,216.2 160.0,221.7 C161.1,227.2 163.9,232.4 166.7,238.0 C169.5,243.6 172.8,250.0 176.7,255.0 C180.6,260.0 185.0,264.2 190.0,268.0 C195.0,271.8 200.6,274.9 206.7,278.0 C212.8,281.1 217.8,283.4 226.7,286.7 C235.6,290.0 248.9,294.1 260.0,298.0 C271.1,301.9 281.9,306.1 293.0,310.0 C304.1,313.9 315.5,317.9 326.7,321.7 C337.9,325.5 351.1,329.9 360.0,333.0 C368.9,336.1 374.5,338.3 380.0,340.0 C385.5,341.7 387.5,341.8 393.0,343.0 C398.5,344.2 405.7,346.9 413.0,347.5 C420.3,348.1 428.9,347.9 436.7,346.7 C444.5,345.4 452.8,343.1 460.0,340.0 C467.2,336.9 474.2,332.2 480.0,328.0 C485.8,323.8 490.6,319.7 495.0,315.0 C499.4,310.3 503.4,305.3 506.7,300.0 C510.0,294.7 512.8,288.4 515.0,283.0 C517.2,277.6 518.9,273.0 520.0,267.5 C521.1,262.0 521.2,252.9 521.5,250.0 L340.0,230.0Z" fill="#a2c1e2"/><path d="M160.0,205.0 C160.0,207.8 158.9,216.2 160.0,221.7 C161.1,227.2 163.9,232.4 166.7,238.0 C169.5,243.6 172.8,250.0 176.7,255.0 C180.6,260.0 185.0,264.2 190.0,268.0 C195.0,271.8 200.6,274.9 206.7,278.0 C212.8,281.1 217.8,283.4 226.7,286.7 C235.6,290.0 248.9,294.1 260.0,298.0 C271.1,301.9 281.9,306.1 293.0,310.0 C304.1,313.9 315.5,317.9 326.7,321.7 C337.9,325.5 351.1,329.9 360.0,333.0 C368.9,336.1 374.5,338.3 380.0,340.0 C385.5,341.7 387.5,341.8 393.0,343.0 C398.5,344.2 405.7,346.9 413.0,347.5 C420.3,348.1 428.9,347.9 436.7,346.7 C444.5,345.4 452.8,343.1 460.0,340.0 C467.2,336.9 474.2,332.2 480.0,328.0 C485.8,323.8 490.6,319.7 495.0,315.0 C499.4,310.3 503.4,305.3 506.7,300.0 C510.0,294.7 512.8,288.4 515.0,283.0 C517.2,277.6 518.9,273.0 520.0,267.5 C521.1,262.0 521.2,252.9 521.5,250.0" fill="none" stroke="#3f4a62" stroke-opacity="0.8" stroke-width="0.8"/><path d="M60.0,390.0 C62.8,389.0 71.2,385.7 76.7,384.0 C82.2,382.3 84.7,381.9 93.0,380.0 C101.3,378.1 115.5,374.2 126.7,372.5 C137.9,370.8 150.3,369.9 160.0,370.0 C169.7,370.1 177.2,371.3 185.0,373.0 C192.8,374.7 199.8,377.7 206.7,380.0 C213.6,382.3 217.8,383.5 226.7,386.7 C235.6,389.9 248.9,395.0 260.0,399.0 C271.1,403.0 283.3,406.8 293.0,410.8 C302.7,414.8 309.7,418.1 318.0,423.0 C326.3,427.9 336.0,434.4 343.0,440.0 C350.0,445.6 355.2,450.4 360.0,456.7 C364.8,463.0 368.1,471.6 371.7,478.0 C375.3,484.4 378.6,489.2 381.7,495.0 C384.8,500.8 386.7,505.5 390.0,513.0 C393.3,520.5 398.1,531.7 401.7,540.0 C405.3,548.3 408.1,555.8 411.7,563.0 C415.2,570.2 418.8,577.2 423.0,583.0 C427.2,588.8 431.7,593.8 436.7,598.0 C441.7,602.2 446.9,605.6 453.0,608.0 C459.1,610.4 466.8,612.0 473.0,612.5 C479.2,613.0 485.0,612.2 490.0,610.8 C495.0,609.4 498.6,607.0 503.0,604.0 C507.4,601.0 511.7,597.3 516.7,593.0 C521.7,588.7 527.5,583.0 533.0,578.0 C538.5,573.0 543.8,568.0 550.0,563.0 C556.2,558.0 563.3,552.7 570.0,548.0 C576.7,543.3 583.3,539.4 590.0,535.0 C596.7,530.6 603.3,526.2 610.0,521.7 C616.7,517.2 622.5,513.0 630.0,508.0 C637.5,503.1 647.8,496.7 655.0,492.0 C662.2,487.3 667.2,484.0 673.0,480.0 C678.8,476.0 684.4,472.2 690.0,468.0 C695.6,463.8 701.2,459.7 706.7,455.0 C712.2,450.3 717.5,445.3 723.0,440.0 C728.5,434.7 734.4,428.6 740.0,423.0 C745.6,417.4 751.7,411.7 756.7,406.7 C761.7,401.7 765.6,397.4 770.0,393.0 C774.4,388.6 779.2,383.8 783.0,380.0 C786.8,376.2 789.0,373.7 793.0,370.0 C797.0,366.3 801.7,362.2 806.7,358.0 C811.7,353.8 817.5,348.8 823.0,345.0 C828.5,341.2 835.0,337.5 840.0,335.0 C845.0,332.5 847.2,332.0 853.0,330.0 C858.8,328.0 871.3,324.2 875.0,323.0 L900.0,320.0 L900.0,760.0 L60.0,760.0Z" fill="#e9b466"/><path d="M60.0,390.0 C62.8,389.0 71.2,385.7 76.7,384.0 C82.2,382.3 84.7,381.9 93.0,380.0 C101.3,378.1 115.5,374.2 126.7,372.5 C137.9,370.8 150.3,369.9 160.0,370.0 C169.7,370.1 177.2,371.3 185.0,373.0 C192.8,374.7 199.8,377.7 206.7,380.0 C213.6,382.3 217.8,383.5 226.7,386.7 C235.6,389.9 248.9,395.0 260.0,399.0 C271.1,403.0 283.3,406.8 293.0,410.8 C302.7,414.8 309.7,418.1 318.0,423.0 C326.3,427.9 336.0,434.4 343.0,440.0 C350.0,445.6 355.2,450.4 360.0,456.7 C364.8,463.0 368.1,471.6 371.7,478.0 C375.3,484.4 378.6,489.2 381.7,495.0 C384.8,500.8 386.7,505.5 390.0,513.0 C393.3,520.5 398.1,531.7 401.7,540.0 C405.3,548.3 408.1,555.8 411.7,563.0 C415.2,570.2 418.8,577.2 423.0,583.0 C427.2,588.8 431.7,593.8 436.7,598.0 C441.7,602.2 446.9,605.6 453.0,608.0 C459.1,610.4 466.8,612.0 473.0,612.5 C479.2,613.0 485.0,612.2 490.0,610.8 C495.0,609.4 498.6,607.0 503.0,604.0 C507.4,601.0 511.7,597.3 516.7,593.0 C521.7,588.7 527.5,583.0 533.0,578.0 C538.5,573.0 543.8,568.0 550.0,563.0 C556.2,558.0 563.3,552.7 570.0,548.0 C576.7,543.3 583.3,539.4 590.0,535.0 C596.7,530.6 603.3,526.2 610.0,521.7 C616.7,517.2 622.5,513.0 630.0,508.0 C637.5,503.1 647.8,496.7 655.0,492.0 C662.2,487.3 667.2,484.0 673.0,480.0 C678.8,476.0 684.4,472.2 690.0,468.0 C695.6,463.8 701.2,459.7 706.7,455.0 C712.2,450.3 717.5,445.3 723.0,440.0 C728.5,434.7 734.4,428.6 740.0,423.0 C745.6,417.4 751.7,411.7 756.7,406.7 C761.7,401.7 765.6,397.4 770.0,393.0 C774.4,388.6 779.2,383.8 783.0,380.0 C786.8,376.2 789.0,373.7 793.0,370.0 C797.0,366.3 801.7,362.2 806.7,358.0 C811.7,353.8 817.5,348.8 823.0,345.0 C828.5,341.2 835.0,337.5 840.0,335.0 C845.0,332.5 847.2,332.0 853.0,330.0 C858.8,328.0 871.3,324.2 875.0,323.0" fill="none" stroke="#5a4630" stroke-opacity="0.8" stroke-width="0.8"/><path d="M200.0,580.0 C200.5,578.8 201.7,575.8 203.0,573.0 C204.3,570.2 206.2,566.3 208.0,563.0 C209.8,559.7 211.8,556.0 214.0,553.0 C216.2,550.0 217.8,548.8 221.0,545.0 C224.2,541.2 228.2,534.7 233.0,530.0 C237.8,525.3 243.8,520.6 250.0,516.7 C256.2,512.8 262.8,509.5 270.0,506.7 C277.2,503.9 285.2,501.5 293.0,500.0 C300.8,498.5 309.4,497.6 316.7,497.5 C324.0,497.4 331.1,497.9 336.7,499.5 C342.2,501.1 346.1,503.3 350.0,507.0 C353.9,510.7 356.4,515.7 360.0,521.7 C363.6,527.7 368.1,536.1 371.7,543.0 C375.3,549.9 378.4,556.3 381.7,563.0 C385.0,569.7 388.1,576.0 391.7,583.0 C395.2,590.0 399.1,598.5 403.0,605.0 C406.9,611.5 410.5,616.7 415.0,621.7 C419.5,626.7 424.5,631.5 430.0,635.0 C435.5,638.5 440.8,641.0 448.0,643.0 C455.2,645.0 465.2,646.8 473.0,647.0 C480.8,647.2 487.7,645.5 495.0,644.0 C502.3,642.5 509.8,640.3 516.7,638.0 C523.7,635.7 530.7,633.0 536.7,630.0 C542.8,627.0 547.5,623.7 553.0,620.0 C558.5,616.3 564.4,611.9 570.0,608.0 C575.6,604.1 581.2,600.5 586.7,596.7 C592.2,592.9 597.5,589.0 603.0,585.0 C608.5,581.0 614.2,576.8 620.0,572.5 C625.8,568.2 631.9,563.9 638.0,559.0 C644.1,554.1 650.9,547.3 656.7,543.0 C662.5,538.7 667.5,536.0 673.0,533.0 C678.5,530.0 684.4,527.5 690.0,525.0 C695.6,522.5 701.2,519.5 706.7,518.0 C712.2,516.5 717.5,515.8 723.0,515.8 C728.5,515.8 734.4,516.5 740.0,518.0 C745.6,519.5 751.2,522.7 756.7,525.0 C762.2,527.3 768.8,530.0 773.0,531.7 C777.2,533.4 777.2,533.5 781.7,535.0 C786.2,536.5 797.0,540.0 800.0,541.0 L800.0,760.0 L200.0,760.0Z" fill="#e58c4b"/><path d="M200.0,580.0 C200.5,578.8 201.7,575.8 203.0,573.0 C204.3,570.2 206.2,566.3 208.0,563.0 C209.8,559.7 211.8,556.0 214.0,553.0 C216.2,550.0 217.8,548.8 221.0,545.0 C224.2,541.2 228.2,534.7 233.0,530.0 C237.8,525.3 243.8,520.6 250.0,516.7 C256.2,512.8 262.8,509.5 270.0,506.7 C277.2,503.9 285.2,501.5 293.0,500.0 C300.8,498.5 309.4,497.6 316.7,497.5 C324.0,497.4 331.1,497.9 336.7,499.5 C342.2,501.1 346.1,503.3 350.0,507.0 C353.9,510.7 356.4,515.7 360.0,521.7 C363.6,527.7 368.1,536.1 371.7,543.0 C375.3,549.9 378.4,556.3 381.7,563.0 C385.0,569.7 388.1,576.0 391.7,583.0 C395.2,590.0 399.1,598.5 403.0,605.0 C406.9,611.5 410.5,616.7 415.0,621.7 C419.5,626.7 424.5,631.5 430.0,635.0 C435.5,638.5 440.8,641.0 448.0,643.0 C455.2,645.0 465.2,646.8 473.0,647.0 C480.8,647.2 487.7,645.5 495.0,644.0 C502.3,642.5 509.8,640.3 516.7,638.0 C523.7,635.7 530.7,633.0 536.7,630.0 C542.8,627.0 547.5,623.7 553.0,620.0 C558.5,616.3 564.4,611.9 570.0,608.0 C575.6,604.1 581.2,600.5 586.7,596.7 C592.2,592.9 597.5,589.0 603.0,585.0 C608.5,581.0 614.2,576.8 620.0,572.5 C625.8,568.2 631.9,563.9 638.0,559.0 C644.1,554.1 650.9,547.3 656.7,543.0 C662.5,538.7 667.5,536.0 673.0,533.0 C678.5,530.0 684.4,527.5 690.0,525.0 C695.6,522.5 701.2,519.5 706.7,518.0 C712.2,516.5 717.5,515.8 723.0,515.8 C728.5,515.8 734.4,516.5 740.0,518.0 C745.6,519.5 751.2,522.7 756.7,525.0 C762.2,527.3 768.8,530.0 773.0,531.7 C777.2,533.4 777.2,533.5 781.7,535.0 C786.2,536.5 797.0,540.0 800.0,541.0" fill="none" stroke="#5a3a2e" stroke-opacity="0.8" stroke-width="0.8"/><path d="M243.0,600.0 C242.5,598.3 241.1,593.0 240.0,590.0 C238.9,587.0 236.7,585.4 236.7,581.7 C236.7,578.0 237.8,572.5 240.0,568.0 C242.2,563.5 245.6,558.7 250.0,555.0 C254.4,551.3 260.9,547.9 266.7,545.8 C272.5,543.7 278.9,542.4 285.0,542.5 C291.1,542.6 297.2,544.3 303.0,546.7 C308.8,549.1 315.0,552.8 320.0,556.7 C325.0,560.6 329.2,565.0 333.0,570.0 C336.8,575.0 340.5,581.2 343.0,586.7 C345.5,592.2 347.0,597.5 348.0,603.0 C349.0,608.5 349.2,615.2 349.0,620.0 C348.8,624.8 347.3,630.0 347.0,632.0 L330.0,650.0 L243.0,650.0Z" fill="#e05a35"/><path d="M243.0,600.0 C242.5,598.3 241.1,593.0 240.0,590.0 C238.9,587.0 236.7,585.4 236.7,581.7 C236.7,578.0 237.8,572.5 240.0,568.0 C242.2,563.5 245.6,558.7 250.0,555.0 C254.4,551.3 260.9,547.9 266.7,545.8 C272.5,543.7 278.9,542.4 285.0,542.5 C291.1,542.6 297.2,544.3 303.0,546.7 C308.8,549.1 315.0,552.8 320.0,556.7 C325.0,560.6 329.2,565.0 333.0,570.0 C336.8,575.0 340.5,581.2 343.0,586.7 C345.5,592.2 347.0,597.5 348.0,603.0 C349.0,608.5 349.2,615.2 349.0,620.0 C348.8,624.8 347.3,630.0 347.0,632.0" fill="none" stroke="#5a3028" stroke-opacity="0.8" stroke-width="0.8"/><path d="M715,644 L730,640 L758,632.5 L775,628 L800,640 L800,730 L715,730Z" fill="#e05a35"/><path d="M730,640 L758,632.5" stroke="#f0a070" stroke-opacity=".6" stroke-width=".8"/></g><g clip-path="url(#akland)"><path d="M340.0,648.0 C338.8,649.6 336.3,654.2 333.0,657.5 C329.7,660.8 325.0,663.4 320.0,668.0 C315.0,672.6 308.6,678.8 303.0,685.0 C297.4,691.2 292.2,697.8 286.7,705.0 C281.2,712.2 275.0,720.2 270.0,728.0 C265.0,735.8 260.6,744.2 256.7,751.7 C252.8,759.2 249.8,766.1 246.7,773.0 C243.6,779.9 240.5,787.0 238.0,793.0 C235.5,799.0 234.4,802.8 231.7,809.0 C229.0,815.2 225.6,823.2 222.0,830.0 C218.4,836.8 213.3,843.3 210.0,850.0 C206.7,856.7 204.0,863.3 202.0,870.0 C200.0,876.7 198.7,886.7 198.0,890.0 L140.0,900.0 L140.0,640.0Z" fill="#e9b466"/><path d="M340.0,648.0 C338.8,649.6 336.3,654.2 333.0,657.5 C329.7,660.8 325.0,663.4 320.0,668.0 C315.0,672.6 308.6,678.8 303.0,685.0 C297.4,691.2 292.2,697.8 286.7,705.0 C281.2,712.2 275.0,720.2 270.0,728.0 C265.0,735.8 260.6,744.2 256.7,751.7 C252.8,759.2 249.8,766.1 246.7,773.0 C243.6,779.9 240.5,787.0 238.0,793.0 C235.5,799.0 234.4,802.8 231.7,809.0 C229.0,815.2 225.6,823.2 222.0,830.0 C218.4,836.8 213.3,843.3 210.0,850.0 C206.7,856.7 204.0,863.3 202.0,870.0 C200.0,876.7 198.7,886.7 198.0,890.0" fill="none" stroke="#5a4630" stroke-opacity="0.8" stroke-width="0.8"/><path d="M325.0,645.0 C324.2,647.3 323.7,655.2 320.0,659.0 C316.3,662.8 307.2,665.0 303.0,668.0 C298.8,671.0 298.3,672.8 295.0,676.7 C291.7,680.7 287.2,686.2 283.0,691.7 C278.8,697.2 274.4,703.6 270.0,710.0 C265.6,716.4 261.2,723.3 256.7,730.0 C252.2,736.7 247.8,743.9 243.0,750.0 C238.2,756.1 233.0,762.5 228.0,766.7 C223.0,770.9 217.7,773.0 213.0,775.0 C208.3,777.0 202.2,778.3 200.0,779.0 L140.0,780.0 L140.0,640.0Z" fill="#e58c4b"/><path d="M325.0,645.0 C324.2,647.3 323.7,655.2 320.0,659.0 C316.3,662.8 307.2,665.0 303.0,668.0 C298.8,671.0 298.3,672.8 295.0,676.7 C291.7,680.7 287.2,686.2 283.0,691.7 C278.8,697.2 274.4,703.6 270.0,710.0 C265.6,716.4 261.2,723.3 256.7,730.0 C252.2,736.7 247.8,743.9 243.0,750.0 C238.2,756.1 233.0,762.5 228.0,766.7 C223.0,770.9 217.7,773.0 213.0,775.0 C208.3,777.0 202.2,778.3 200.0,779.0" fill="none" stroke="#5a3a2e" stroke-opacity="0.8" stroke-width="0.8"/><path d="M292.0,645.0 C291.7,647.1 291.2,654.2 290.0,657.5 C288.8,660.8 287.2,661.6 285.0,665.0 C282.8,668.4 279.8,673.0 276.7,678.0 C273.6,683.0 270.6,689.2 266.7,695.0 C262.8,700.8 257.4,707.7 253.0,713.0 C248.6,718.3 244.2,723.2 240.0,726.7 C235.8,730.2 232.5,732.9 228.0,734.0 C223.5,735.1 217.7,734.3 213.0,733.5 C208.3,732.7 203.8,730.8 200.0,729.0 C196.2,727.2 193.3,725.2 190.0,723.0 C186.7,720.8 181.7,717.2 180.0,716.0 L180.0,640.0Z" fill="#e05a35"/><path d="M292.0,645.0 C291.7,647.1 291.2,654.2 290.0,657.5 C288.8,660.8 287.2,661.6 285.0,665.0 C282.8,668.4 279.8,673.0 276.7,678.0 C273.6,683.0 270.6,689.2 266.7,695.0 C262.8,700.8 257.4,707.7 253.0,713.0 C248.6,718.3 244.2,723.2 240.0,726.7 C235.8,730.2 232.5,732.9 228.0,734.0 C223.5,735.1 217.7,734.3 213.0,733.5 C208.3,732.7 203.8,730.8 200.0,729.0 C196.2,727.2 193.3,725.2 190.0,723.0 C186.7,720.8 181.7,717.2 180.0,716.0" fill="none" stroke="#5a3028" stroke-opacity="0.8" stroke-width="0.8"/><path d="M360.0,708.0 C358.8,709.0 356.9,710.3 353.0,714.0 C349.1,717.7 342.2,724.0 336.7,730.0 C331.2,736.0 324.8,743.7 320.0,750.0 C315.2,756.3 310.8,763.0 308.0,768.0 C305.2,773.0 304.5,775.5 303.0,780.0 C301.5,784.5 300.2,790.3 299.0,795.0 C297.8,799.7 296.5,805.8 296.0,808.0 L300.0,816.0 L480.0,870.0 L480.0,708.0Z" fill="#bfcce6"/><path d="M360.0,708.0 C358.8,709.0 356.9,710.3 353.0,714.0 C349.1,717.7 342.2,724.0 336.7,730.0 C331.2,736.0 324.8,743.7 320.0,750.0 C315.2,756.3 310.8,763.0 308.0,768.0 C305.2,773.0 304.5,775.5 303.0,780.0 C301.5,784.5 300.2,790.3 299.0,795.0 C297.8,799.7 296.5,805.8 296.0,808.0" fill="none" stroke="#3f4a62" stroke-opacity="0.8" stroke-width="0.8"/><path d="M398,775 L480,775 L480,870 L398,870Z" fill="#a2c1e2"/></g><use href="#base"/><text x="333.0" y="291.7" font-size="17.6" text-anchor="start" textLength="55.0" lengthAdjust="spacingAndGlyphs" class="lb">Below</text><text x="479.0" y="521.7" font-size="17.6" text-anchor="middle" textLength="44.2" lengthAdjust="spacingAndGlyphs" class="lb">Equal</text><text x="479.0" y="542.5" font-size="17.6" text-anchor="middle" textLength="68.0" lengthAdjust="spacingAndGlyphs" class="lb">Chances</text><text x="260.8" y="579.0" font-size="17.6" text-anchor="start" textLength="51.0" lengthAdjust="spacingAndGlyphs" class="lb">Above</text><text x="733.0" y="674.0" font-size="17.6" text-anchor="start" textLength="50.0" lengthAdjust="spacingAndGlyphs" class="lb">Above</text><text x="217.5" y="690.0" font-size="17.6" text-anchor="start" textLength="50.5" lengthAdjust="spacingAndGlyphs" class="lb">Above</text><text x="295.3" y="728.3" font-size="17.6" text-anchor="middle" textLength="44.5" lengthAdjust="spacingAndGlyphs" class="lb">Equal</text><text x="295.4" y="750.0" font-size="17.6" text-anchor="middle" textLength="69.0" lengthAdjust="spacingAndGlyphs" class="lb">Chances</text><text x="380.8" y="803.3" font-size="17.6" text-anchor="start" textLength="48.5" lengthAdjust="spacingAndGlyphs" class="lb">Below</text><text x="480" y="191.5" font-size="43.3" text-anchor="middle" textLength="601" lengthAdjust="spacingAndGlyphs" font-family="Liberation Sans, Arial, sans-serif" fill="#0c0c0c" stroke="#0c0c0c" stroke-width=".4">Seasonal Temperature Outlook</text><g font-family="Liberation Sans, Arial, sans-serif" fill="#111" font-size="19.4"><text x="366.7" y="220" font-weight="700" textLength="54" lengthAdjust="spacingAndGlyphs">Valid:</text><text x="435" y="220" textLength="180" lengthAdjust="spacingAndGlyphs">Dec-Jan-Feb 2025-26</text><text x="366.7" y="242.7" font-weight="700" textLength="71" lengthAdjust="spacingAndGlyphs">Issued:</text><text x="451.7" y="242.7" textLength="167.6" lengthAdjust="spacingAndGlyphs">November 20, 2025</text></g><g transform="translate(43.75,186.7)"><circle r="25" fill="#2e97d4"/><circle r="18.8" fill="#fff"/><text font-family="Liberation Sans, Arial, sans-serif" font-weight="700" font-size="4.1" fill="#cfeafa"><textPath href="#rt" startOffset="50%" text-anchor="middle" textLength="56" lengthAdjust="spacingAndGlyphs">DEPARTMENT OF COMMERCE</textPath></text><text font-family="Liberation Sans, Arial, sans-serif" font-weight="700" font-size="4.1" fill="#cfeafa"><textPath href="#rb" startOffset="50%" text-anchor="middle" textLength="62" lengthAdjust="spacingAndGlyphs">UNITED STATES OF AMERICA</textPath></text><circle cx="-21.8" cy="1.2" r=".8" fill="#cfeafa"/><circle cx="21.8" cy="1.2" r=".8" fill="#cfeafa"/><path d="M-10.7,-3.8 H10.8 V8 Q10.8,14 0,17.6 Q-10.7,14 -10.7,8Z" fill="#f2b51d"/><path d="M-10.7,-3.8 H10.8 V5.2 H-10.7Z" fill="#1d86c8"/><path d="M-6,2.5 Q0,-2.5 6,2.5 Q0,4 -6,2.5Z" fill="#e8eef2"/><path d="M-10.7,4.6 H10.8 V6 H-10.7Z" fill="#2a4a3a"/><path d="M-0.6,6 h1.2 v10.5 h-1.2Z" fill="#b8860b"/><path d="M-6.8,-15.8 L-2.2,-10.8 L0,-12.6 L2.2,-10.8 L7,-15.8 L4.2,-8.6 L2,-6.4 L3.6,-5 H-3.6 L-2,-6.4 L-4.2,-8.6Z" fill="#b08a1e"/></g><g transform="translate(916.5,187.5)"><circle r="26.5" fill="#1a8bd8"/><path d="M-26.1,-6.7 A26.5,26.5 0 0 1 -21.5,-15.4 L-9.8,-0.8 Q-5.7,3.6 -1.5,5.4 Q2.7,5.2 6.8,1.7 Q10.2,-2.5 13.5,-8.3 L20.2,-16.2 A26.5,26.5 0 0 1 25.6,-7.9 Q21.8,-6.7 16.8,-2.5 Q11.8,3.3 6.8,7.5 Q1.8,10.6 -3.2,10.8 Q-6,10.8 -8.6,10 Q-5,9 -3.2,7.1 Q-6.5,5.8 -11.5,2.5 L-19,-2.5 Z" fill="#fff"/><path d="M-21.5,-15.5 A26.5,26.5 0 0 1 20.2,-17.2 L13.5,-8.3 Q10.2,-2.5 6.8,1.7 Q2.7,5.2 -1.5,5.4 Q-5.7,3.6 -9.8,-0.8 Z" fill="#1c3f9e"/><text x="-0.2" y="-9.6" font-family="Liberation Sans, Arial, sans-serif" font-weight="700" font-size="8" fill="#fff" text-anchor="middle" textLength="21.2" lengthAdjust="spacingAndGlyphs">NOAA</text></g><g font-family="Liberation Sans, Arial, sans-serif" fill="#1a1a1a"><text x="781" y="740.8" font-size="10.6" font-weight="700" text-anchor="middle" textLength="60" lengthAdjust="spacingAndGlyphs">Probability</text><text x="781" y="754.8" font-size="10.6" font-weight="700" text-anchor="middle" textLength="97" lengthAdjust="spacingAndGlyphs">(Percent Chance)</text><text x="700.7" y="769.2" font-size="9.1" font-weight="700" text-anchor="middle">Above</text><text x="700.7" y="779.6" font-size="9.1" font-weight="700" text-anchor="middle">Normal</text><text x="781" y="769.2" font-size="9.1" font-weight="700" text-anchor="middle">Near</text><text x="781" y="779.6" font-size="9.1" font-weight="700" text-anchor="middle">Normal</text><text x="862" y="769.2" font-size="9.1" font-weight="700" text-anchor="middle">Below</text><text x="862" y="779.6" font-size="9.1" font-weight="700" text-anchor="middle">Normal</text><rect x="676.3" y="783.75" width="23.7" height="11.8" fill="#e9b466"/><text x="703.7" y="793.15" font-size="9.6" fill="#222" textLength="31" lengthAdjust="spacingAndGlyphs">33-40%</text><rect x="676.3" y="798.94" width="23.7" height="11.8" fill="#e4894a"/><text x="703.7" y="808.34" font-size="9.6" fill="#222" textLength="31" lengthAdjust="spacingAndGlyphs">40-50%</text><rect x="676.3" y="814.13" width="23.7" height="11.8" fill="#e2573a"/><text x="703.7" y="823.53" font-size="9.6" fill="#222" textLength="31" lengthAdjust="spacingAndGlyphs">50-60%</text><rect x="676.3" y="829.32" width="23.7" height="11.8" fill="#d8402a"/><text x="703.7" y="838.72" font-size="9.6" fill="#222" textLength="31" lengthAdjust="spacingAndGlyphs">60-70%</text><rect x="676.3" y="844.51" width="23.7" height="11.8" fill="#c92a0a"/><text x="703.7" y="853.91" font-size="9.6" fill="#222" textLength="31" lengthAdjust="spacingAndGlyphs">70-80%</text><rect x="676.3" y="859.70" width="23.7" height="11.8" fill="#a82a0e"/><text x="703.7" y="869.10" font-size="9.6" fill="#222" textLength="31" lengthAdjust="spacingAndGlyphs">80-90%</text><rect x="676.3" y="874.89" width="23.7" height="11.8" fill="#7a2310"/><text x="703.7" y="884.29" font-size="9.6" fill="#222" textLength="36.2" lengthAdjust="spacingAndGlyphs">90-100%</text><rect x="862" y="783.75" width="23.7" height="11.8" fill="#bfcce6"/><text x="857.8" y="793.15" font-size="9.6" fill="#222" text-anchor="end" textLength="31" lengthAdjust="spacingAndGlyphs">33-40%</text><rect x="862" y="798.94" width="23.7" height="11.8" fill="#a3c2e1"/><text x="857.8" y="808.34" font-size="9.6" fill="#222" text-anchor="end" textLength="31" lengthAdjust="spacingAndGlyphs">40-50%</text><rect x="862" y="814.13" width="23.7" height="11.8" fill="#79b4e3"/><text x="857.8" y="823.53" font-size="9.6" fill="#222" text-anchor="end" textLength="31" lengthAdjust="spacingAndGlyphs">50-60%</text><rect x="862" y="829.32" width="23.7" height="11.8" fill="#2f9ee0"/><text x="857.8" y="838.72" font-size="9.6" fill="#222" text-anchor="end" textLength="31" lengthAdjust="spacingAndGlyphs">60-70%</text><rect x="862" y="844.51" width="23.7" height="11.8" fill="#0a63ad"/><text x="857.8" y="853.91" font-size="9.6" fill="#222" text-anchor="end" textLength="31" lengthAdjust="spacingAndGlyphs">70-80%</text><rect x="862" y="859.70" width="23.7" height="11.8" fill="#31257f"/><text x="857.8" y="869.10" font-size="9.6" fill="#222" text-anchor="end" textLength="31" lengthAdjust="spacingAndGlyphs">80-90%</text><rect x="862" y="874.89" width="23.7" height="11.8" fill="#20184f"/><text x="857.8" y="884.29" font-size="9.6" fill="#222" text-anchor="end" textLength="36.2" lengthAdjust="spacingAndGlyphs">90-100%</text><rect x="751.3" y="784.35" width="23.7" height="11.4" fill="#d2d2d2"/><text x="778.7" y="793.55" font-size="9.6" fill="#222" textLength="31" lengthAdjust="spacingAndGlyphs">33-40%</text><rect x="751.3" y="799.54" width="23.7" height="11.4" fill="#a2a2a2"/><text x="778.7" y="808.74" font-size="9.6" fill="#222" textLength="31" lengthAdjust="spacingAndGlyphs">40-50%</text><text x="781" y="829.2" font-size="9.1" font-weight="700" text-anchor="middle">Equal</text><text x="781" y="839.8" font-size="9.1" font-weight="700" text-anchor="middle">Chances</text><rect x="769" y="844.8" width="24" height="11.6" fill="#fff" stroke="#8a8a8a" stroke-width=".8"/><text x="636" y="795" font-size="11" text-anchor="middle" textLength="36.6" lengthAdjust="spacingAndGlyphs">Leaning</text><text x="636" y="807.2" font-size="11" text-anchor="middle" textLength="28.1" lengthAdjust="spacingAndGlyphs">Above</text><text x="636" y="849.2" font-size="11" text-anchor="middle" textLength="26" lengthAdjust="spacingAndGlyphs">Likely</text><text x="636" y="861.8" font-size="11" text-anchor="middle" textLength="28.1" lengthAdjust="spacingAndGlyphs">Above</text><text x="926" y="795" font-size="11" text-anchor="middle" textLength="36.6" lengthAdjust="spacingAndGlyphs">Leaning</text><text x="926" y="807.2" font-size="11" text-anchor="middle" textLength="27" lengthAdjust="spacingAndGlyphs">Below</text><text x="926" y="849.2" font-size="11" text-anchor="middle" textLength="26" lengthAdjust="spacingAndGlyphs">Likely</text><text x="926" y="861.8" font-size="11" text-anchor="middle" textLength="27" lengthAdjust="spacingAndGlyphs">Below</text><path d="M674,784 C665.5,784 668.05,787 665.5,792.75 C665.5,796.25 662.1,797.75 657,797.75 C662.1,797.75 665.5,799.25 665.5,802.75 C668.05,808.5 665.5,811.5 674,811.5" fill="none" stroke="#333" stroke-width=".85"/><path d="M674,814 C665.5,814 668.05,817 665.5,845.5 C665.5,849.0 662.1,850.5 657,850.5 C662.1,850.5 665.5,852.0 665.5,855.5 C668.05,884 665.5,887 674,887" fill="none" stroke="#333" stroke-width=".85"/><path d="M888,784 C896.5,784 893.95,787 896.5,792.75 C896.5,796.25 899.9,797.75 905,797.75 C899.9,797.75 896.5,799.25 896.5,802.75 C893.95,808.5 896.5,811.5 888,811.5" fill="none" stroke="#333" stroke-width=".85"/><path d="M888,814 C896.5,814 893.95,817 896.5,845.5 C896.5,849.0 899.9,850.5 905,850.5 C899.9,850.5 896.5,852.0 896.5,855.5 C893.95,884 896.5,887 888,887" fill="none" stroke="#333" stroke-width=".85"/></g></g></svg></body></html>
